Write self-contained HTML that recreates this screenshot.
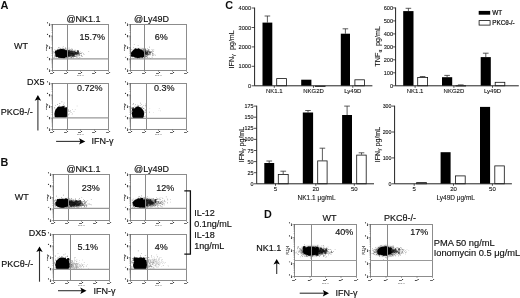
<!DOCTYPE html>
<html><head><meta charset="utf-8"><title>Figure</title>
<style>
html,body{margin:0;padding:0;background:#fff;}
body{width:520px;height:298px;overflow:hidden;font-family:"Liberation Sans",sans-serif;}
svg{display:block;font-family:"Liberation Sans",sans-serif;fill:#111;}
</style></head><body>
<svg width="520" height="298" viewBox="0 0 520 298">
<rect width="520" height="298" fill="#fff"/>
<defs><filter id="b1" x="-50%" y="-50%" width="200%" height="200%"><feGaussianBlur stdDeviation="0.75"/></filter><filter id="b2" x="-50%" y="-50%" width="200%" height="200%"><feGaussianBlur stdDeviation="1.3"/></filter><filter id="b3" x="-50%" y="-50%" width="200%" height="200%"><feGaussianBlur stdDeviation="0.6"/></filter><filter id="soft" x="-2%" y="-2%" width="104%" height="104%"><feGaussianBlur stdDeviation="0.38"/></filter></defs>
<clipPath id="ca1"><rect x="52.5" y="24.5" width="56.0" height="46.0"/></clipPath>
<g clip-path="url(#ca1)">
<ellipse cx="64" cy="53.6" rx="9" ry="4.2" fill="#000" fill-opacity="0.45" filter="url(#b2)"/>
<ellipse cx="61.5" cy="53.5" rx="6.3" ry="4.5" fill="#000" fill-opacity="1.0" filter="url(#b1)"/>
<path d="M56.1 54.2a1.5 1.5 0 1 0 3.1 0a1.5 1.5 0 1 0 -3.1 0zM56.6 53.9a1.3 1.3 0 1 0 2.5 0a1.3 1.3 0 1 0 -2.5 0zM61.8 55.7a1.3 1.3 0 1 0 2.6 0a1.3 1.3 0 1 0 -2.6 0zM60.9 52.5a1.0 1.0 0 1 0 2.1 0a1.0 1.0 0 1 0 -2.1 0zM65.2 55.5a1.4 1.4 0 1 0 2.7 0a1.4 1.4 0 1 0 -2.7 0zM65.5 55.0a1.6 1.6 0 1 0 3.1 0a1.6 1.6 0 1 0 -3.1 0zM58.2 51.0a0.9 0.9 0 1 0 1.9 0a0.9 0.9 0 1 0 -1.9 0zM64.7 53.6a0.8 0.8 0 1 0 1.7 0a0.8 0.8 0 1 0 -1.7 0zM61.6 54.9a0.8 0.8 0 1 0 1.6 0a0.8 0.8 0 1 0 -1.6 0zM56.8 53.9a1.5 1.5 0 1 0 2.9 0a1.5 1.5 0 1 0 -2.9 0zM55.9 53.0a1.2 1.2 0 1 0 2.4 0a1.2 1.2 0 1 0 -2.4 0zM58.7 51.4a1.0 1.0 0 1 0 2.0 0a1.0 1.0 0 1 0 -2.0 0zM65.6 53.3a1.5 1.5 0 1 0 2.9 0a1.5 1.5 0 1 0 -2.9 0zM59.9 51.6a1.0 1.0 0 1 0 2.0 0a1.0 1.0 0 1 0 -2.0 0zM59.9 54.2a1.4 1.4 0 1 0 2.8 0a1.4 1.4 0 1 0 -2.8 0zM55.5 55.8a1.1 1.1 0 1 0 2.2 0a1.1 1.1 0 1 0 -2.2 0zM66.2 52.3a0.8 0.8 0 1 0 1.6 0a0.8 0.8 0 1 0 -1.6 0zM62.2 56.8a1.2 1.2 0 1 0 2.4 0a1.2 1.2 0 1 0 -2.4 0zM63.9 53.1a0.9 0.9 0 1 0 1.7 0a0.9 0.9 0 1 0 -1.7 0zM56.8 50.8a1.0 1.0 0 1 0 2.0 0a1.0 1.0 0 1 0 -2.0 0zM62.5 54.4a1.6 1.6 0 1 0 3.1 0a1.6 1.6 0 1 0 -3.1 0zM60.7 52.3a1.0 1.0 0 1 0 2.0 0a1.0 1.0 0 1 0 -2.0 0zM61.1 53.8a1.4 1.4 0 1 0 2.9 0a1.4 1.4 0 1 0 -2.9 0zM62.2 55.8a1.2 1.2 0 1 0 2.3 0a1.2 1.2 0 1 0 -2.3 0zM62.6 56.6a0.9 0.9 0 1 0 1.8 0a0.9 0.9 0 1 0 -1.8 0zM59.5 52.6a1.1 1.1 0 1 0 2.3 0a1.1 1.1 0 1 0 -2.3 0zM60.6 55.0a1.6 1.6 0 1 0 3.2 0a1.6 1.6 0 1 0 -3.2 0zM61.0 51.7a1.5 1.5 0 1 0 3.0 0a1.5 1.5 0 1 0 -3.0 0zM60.9 55.4a1.5 1.5 0 1 0 3.0 0a1.5 1.5 0 1 0 -3.0 0zM59.1 52.6a1.6 1.6 0 1 0 3.2 0a1.6 1.6 0 1 0 -3.2 0zM60.7 55.0a1.4 1.4 0 1 0 2.8 0a1.4 1.4 0 1 0 -2.8 0zM59.5 54.9a0.9 0.9 0 1 0 1.7 0a0.9 0.9 0 1 0 -1.7 0zM64.2 54.9a1.0 1.0 0 1 0 2.0 0a1.0 1.0 0 1 0 -2.0 0zM58.0 52.2a1.2 1.2 0 1 0 2.3 0a1.2 1.2 0 1 0 -2.3 0zM63.9 52.8a1.3 1.3 0 1 0 2.5 0a1.3 1.3 0 1 0 -2.5 0zM62.0 52.4a0.9 0.9 0 1 0 1.8 0a0.9 0.9 0 1 0 -1.8 0zM65.6 51.3a1.0 1.0 0 1 0 2.0 0a1.0 1.0 0 1 0 -2.0 0zM62.0 56.6a1.6 1.6 0 1 0 3.1 0a1.6 1.6 0 1 0 -3.1 0zM62.7 56.8a1.5 1.5 0 1 0 3.0 0a1.5 1.5 0 1 0 -3.0 0zM58.1 52.1a0.9 0.9 0 1 0 1.8 0a0.9 0.9 0 1 0 -1.8 0zM66.0 54.7a1.0 1.0 0 1 0 2.0 0a1.0 1.0 0 1 0 -2.0 0zM59.4 51.8a1.5 1.5 0 1 0 2.9 0a1.5 1.5 0 1 0 -2.9 0zM58.5 52.4a0.9 0.9 0 1 0 1.9 0a0.9 0.9 0 1 0 -1.9 0zM60.4 52.6a1.0 1.0 0 1 0 2.0 0a1.0 1.0 0 1 0 -2.0 0zM54.9 51.9a1.3 1.3 0 1 0 2.6 0a1.3 1.3 0 1 0 -2.6 0z" fill="#000" fill-opacity="1.0" filter="url(#b3)"/>
<path d="M70.2 55.8a0.7 0.7 0 1 0 1.5 0a0.7 0.7 0 1 0 -1.5 0zM74.0 53.8a0.9 0.9 0 1 0 1.8 0a0.9 0.9 0 1 0 -1.8 0zM73.4 54.0a0.9 0.9 0 1 0 1.7 0a0.9 0.9 0 1 0 -1.7 0zM69.9 53.4a0.9 0.9 0 1 0 1.7 0a0.9 0.9 0 1 0 -1.7 0zM76.9 51.6a1.1 1.1 0 1 0 2.1 0a1.1 1.1 0 1 0 -2.1 0zM70.0 52.1a0.7 0.7 0 1 0 1.4 0a0.7 0.7 0 1 0 -1.4 0zM71.7 53.8a1.2 1.2 0 1 0 2.5 0a1.2 1.2 0 1 0 -2.5 0zM69.1 51.6a0.6 0.6 0 1 0 1.2 0a0.6 0.6 0 1 0 -1.2 0zM68.7 52.6a1.1 1.1 0 1 0 2.2 0a1.1 1.1 0 1 0 -2.2 0zM66.3 55.8a0.7 0.7 0 1 0 1.3 0a0.7 0.7 0 1 0 -1.3 0zM65.9 53.1a1.2 1.2 0 1 0 2.5 0a1.2 1.2 0 1 0 -2.5 0zM70.7 51.7a1.2 1.2 0 1 0 2.3 0a1.2 1.2 0 1 0 -2.3 0zM73.9 53.1a1.1 1.1 0 1 0 2.2 0a1.1 1.1 0 1 0 -2.2 0zM76.8 52.2a0.9 0.9 0 1 0 1.8 0a0.9 0.9 0 1 0 -1.8 0zM73.0 51.6a1.0 1.0 0 1 0 2.0 0a1.0 1.0 0 1 0 -2.0 0zM69.0 52.8a1.0 1.0 0 1 0 2.0 0a1.0 1.0 0 1 0 -2.0 0zM70.2 53.4a1.0 1.0 0 1 0 2.1 0a1.0 1.0 0 1 0 -2.1 0zM76.8 53.6a1.1 1.1 0 1 0 2.2 0a1.1 1.1 0 1 0 -2.2 0zM67.2 55.1a1.0 1.0 0 1 0 2.0 0a1.0 1.0 0 1 0 -2.0 0zM66.0 54.6a0.7 0.7 0 1 0 1.3 0a0.7 0.7 0 1 0 -1.3 0zM71.3 53.4a1.0 1.0 0 1 0 2.0 0a1.0 1.0 0 1 0 -2.0 0zM68.8 53.8a1.1 1.1 0 1 0 2.2 0a1.1 1.1 0 1 0 -2.2 0zM66.5 53.7a1.2 1.2 0 1 0 2.5 0a1.2 1.2 0 1 0 -2.5 0zM71.5 53.9a0.8 0.8 0 1 0 1.6 0a0.8 0.8 0 1 0 -1.6 0zM70.6 52.9a0.7 0.7 0 1 0 1.4 0a0.7 0.7 0 1 0 -1.4 0zM75.4 52.6a0.9 0.9 0 1 0 1.8 0a0.9 0.9 0 1 0 -1.8 0zM73.5 53.0a1.1 1.1 0 1 0 2.1 0a1.1 1.1 0 1 0 -2.1 0zM72.2 55.0a1.2 1.2 0 1 0 2.3 0a1.2 1.2 0 1 0 -2.3 0zM77.0 52.3a0.9 0.9 0 1 0 1.7 0a0.9 0.9 0 1 0 -1.7 0zM69.1 53.1a0.7 0.7 0 1 0 1.4 0a0.7 0.7 0 1 0 -1.4 0zM65.5 53.8a1.2 1.2 0 1 0 2.4 0a1.2 1.2 0 1 0 -2.4 0zM69.6 51.6a0.8 0.8 0 1 0 1.6 0a0.8 0.8 0 1 0 -1.6 0zM73.3 54.9a0.8 0.8 0 1 0 1.6 0a0.8 0.8 0 1 0 -1.6 0zM72.0 55.0a1.0 1.0 0 1 0 2.1 0a1.0 1.0 0 1 0 -2.1 0zM68.2 53.7a1.2 1.2 0 1 0 2.4 0a1.2 1.2 0 1 0 -2.4 0zM75.2 53.5a0.7 0.7 0 1 0 1.3 0a0.7 0.7 0 1 0 -1.3 0zM77.3 54.2a0.6 0.6 0 1 0 1.3 0a0.6 0.6 0 1 0 -1.3 0zM70.4 52.1a0.8 0.8 0 1 0 1.6 0a0.8 0.8 0 1 0 -1.6 0zM71.8 53.5a0.7 0.7 0 1 0 1.4 0a0.7 0.7 0 1 0 -1.4 0zM70.4 53.8a1.2 1.2 0 1 0 2.4 0a1.2 1.2 0 1 0 -2.4 0zM71.8 54.4a0.6 0.6 0 1 0 1.3 0a0.6 0.6 0 1 0 -1.3 0zM68.8 52.7a1.0 1.0 0 1 0 2.1 0a1.0 1.0 0 1 0 -2.1 0zM67.7 51.7a1.3 1.3 0 1 0 2.5 0a1.3 1.3 0 1 0 -2.5 0zM70.5 52.9a0.9 0.9 0 1 0 1.9 0a0.9 0.9 0 1 0 -1.9 0zM71.6 53.9a0.9 0.9 0 1 0 1.9 0a0.9 0.9 0 1 0 -1.9 0zM71.0 52.9a0.8 0.8 0 1 0 1.6 0a0.8 0.8 0 1 0 -1.6 0zM68.4 55.4a1.0 1.0 0 1 0 1.9 0a1.0 1.0 0 1 0 -1.9 0zM67.3 52.3a0.9 0.9 0 1 0 1.8 0a0.9 0.9 0 1 0 -1.8 0zM73.5 51.6a0.7 0.7 0 1 0 1.3 0a0.7 0.7 0 1 0 -1.3 0zM76.4 52.8a0.7 0.7 0 1 0 1.4 0a0.7 0.7 0 1 0 -1.4 0zM66.6 54.2a1.2 1.2 0 1 0 2.5 0a1.2 1.2 0 1 0 -2.5 0zM68.0 54.9a1.2 1.2 0 1 0 2.4 0a1.2 1.2 0 1 0 -2.4 0z" fill="#000" fill-opacity="0.72" filter="url(#b3)"/>
<path d="M65.1 47.2h0.6v0.6h-0.6zM55.8 54.3h0.6v0.6h-0.6zM64.0 57.5h0.6v0.6h-0.6zM64.6 49.9h0.6v0.6h-0.6zM61.4 51.6h0.6v0.6h-0.6zM72.0 48.9h0.6v0.6h-0.6zM67.4 52.9h0.6v0.6h-0.6zM63.0 51.1h0.6v0.6h-0.6zM69.3 50.6h0.6v0.6h-0.6zM60.9 54.3h0.6v0.6h-0.6zM56.8 54.6h0.6v0.6h-0.6zM62.6 50.3h0.6v0.6h-0.6zM69.9 54.3h0.6v0.6h-0.6zM69.3 55.3h0.6v0.6h-0.6zM63.9 55.6h0.6v0.6h-0.6zM62.6 52.0h0.6v0.6h-0.6zM65.2 56.0h0.6v0.6h-0.6zM60.6 48.3h0.6v0.6h-0.6zM58.1 47.3h0.6v0.6h-0.6zM51.3 53.7h0.6v0.6h-0.6zM64.7 54.4h0.6v0.6h-0.6zM58.4 53.0h0.6v0.6h-0.6zM61.2 49.6h0.6v0.6h-0.6zM53.6 52.7h0.6v0.6h-0.6zM58.5 52.5h0.6v0.6h-0.6zM55.8 56.9h0.6v0.6h-0.6zM64.4 52.3h0.6v0.6h-0.6zM68.8 47.7h0.6v0.6h-0.6zM56.3 52.9h0.6v0.6h-0.6zM63.7 56.6h0.6v0.6h-0.6zM56.0 53.3h0.6v0.6h-0.6zM73.4 54.6h0.6v0.6h-0.6zM57.6 53.1h0.6v0.6h-0.6zM63.8 50.1h0.6v0.6h-0.6zM55.3 53.6h0.6v0.6h-0.6zM67.0 54.8h0.6v0.6h-0.6zM52.5 56.9h0.6v0.6h-0.6zM65.1 52.4h0.6v0.6h-0.6zM59.7 53.6h0.6v0.6h-0.6zM54.6 55.4h0.6v0.6h-0.6zM66.1 51.6h0.6v0.6h-0.6zM60.8 55.0h0.6v0.6h-0.6zM54.6 49.2h0.6v0.6h-0.6zM67.3 56.8h0.6v0.6h-0.6zM64.9 53.7h0.6v0.6h-0.6zM63.0 57.5h0.6v0.6h-0.6zM60.2 55.7h0.6v0.6h-0.6zM60.5 52.5h0.6v0.6h-0.6zM61.7 52.0h0.6v0.6h-0.6zM58.7 53.3h0.6v0.6h-0.6zM63.7 56.5h0.6v0.6h-0.6zM58.1 54.4h0.6v0.6h-0.6zM57.4 55.1h0.6v0.6h-0.6zM63.6 54.9h0.6v0.6h-0.6zM57.7 50.6h0.6v0.6h-0.6zM53.6 52.4h0.6v0.6h-0.6zM55.4 50.0h0.6v0.6h-0.6zM62.8 57.8h0.6v0.6h-0.6zM65.5 48.0h0.6v0.6h-0.6zM60.5 55.6h0.6v0.6h-0.6zM64.7 52.5h0.6v0.6h-0.6zM71.2 53.3h0.6v0.6h-0.6zM64.2 54.9h0.6v0.6h-0.6zM61.5 51.3h0.6v0.6h-0.6zM68.8 56.3h0.6v0.6h-0.6zM55.2 55.7h0.6v0.6h-0.6zM65.1 55.4h0.6v0.6h-0.6zM61.7 52.9h0.6v0.6h-0.6zM64.0 57.3h0.6v0.6h-0.6zM71.8 49.6h0.6v0.6h-0.6zM65.9 55.5h0.6v0.6h-0.6zM62.3 50.2h0.6v0.6h-0.6zM60.9 51.8h0.6v0.6h-0.6zM63.9 53.9h0.6v0.6h-0.6zM67.4 54.2h0.6v0.6h-0.6zM56.3 53.1h0.6v0.6h-0.6zM63.7 54.8h0.6v0.6h-0.6zM64.4 58.4h0.6v0.6h-0.6zM72.0 53.0h0.6v0.6h-0.6zM63.3 53.9h0.6v0.6h-0.6zM66.7 52.5h0.6v0.6h-0.6zM62.4 51.0h0.6v0.6h-0.6zM56.8 54.1h0.6v0.6h-0.6zM56.6 55.0h0.6v0.6h-0.6zM68.8 53.7h0.6v0.6h-0.6zM63.6 52.0h0.6v0.6h-0.6zM55.1 54.7h0.6v0.6h-0.6zM59.6 54.4h0.6v0.6h-0.6zM64.7 56.2h0.6v0.6h-0.6zM71.3 54.0h0.6v0.6h-0.6zM64.2 49.4h0.6v0.6h-0.6zM66.0 50.5h0.6v0.6h-0.6zM57.1 55.5h0.6v0.6h-0.6zM49.5 53.2h0.6v0.6h-0.6zM63.1 51.4h0.6v0.6h-0.6zM68.2 51.0h0.6v0.6h-0.6zM63.4 48.5h0.6v0.6h-0.6zM54.2 56.6h0.6v0.6h-0.6zM66.9 50.5h0.6v0.6h-0.6zM62.8 48.8h0.6v0.6h-0.6zM56.2 55.8h0.6v0.6h-0.6zM65.6 54.5h0.6v0.6h-0.6zM61.4 53.5h0.6v0.6h-0.6zM58.1 56.4h0.6v0.6h-0.6zM59.7 52.0h0.6v0.6h-0.6zM68.1 52.0h0.6v0.6h-0.6zM58.6 56.8h0.6v0.6h-0.6zM57.1 52.0h0.6v0.6h-0.6zM57.7 50.1h0.6v0.6h-0.6zM62.9 45.9h0.6v0.6h-0.6zM68.0 53.9h0.6v0.6h-0.6zM61.8 51.3h0.6v0.6h-0.6zM60.8 53.9h0.6v0.6h-0.6zM63.4 55.9h0.6v0.6h-0.6zM64.7 54.6h0.6v0.6h-0.6zM66.6 51.5h0.6v0.6h-0.6zM50.5 53.1h0.6v0.6h-0.6zM48.9 49.8h0.6v0.6h-0.6zM56.8 49.7h0.6v0.6h-0.6zM67.3 55.1h0.6v0.6h-0.6zM62.1 52.6h0.6v0.6h-0.6zM64.4 52.7h0.6v0.6h-0.6zM59.4 53.7h0.6v0.6h-0.6zM56.0 53.5h0.6v0.6h-0.6zM71.9 55.7h0.6v0.6h-0.6zM57.3 55.0h0.6v0.6h-0.6zM58.6 51.9h0.6v0.6h-0.6zM60.6 57.2h0.6v0.6h-0.6zM58.7 52.6h0.6v0.6h-0.6zM61.2 51.2h0.6v0.6h-0.6zM65.3 53.6h0.6v0.6h-0.6zM64.5 53.8h0.6v0.6h-0.6zM62.1 50.7h0.6v0.6h-0.6zM67.8 50.7h0.6v0.6h-0.6zM74.5 55.9h0.6v0.6h-0.6zM63.6 53.0h0.6v0.6h-0.6zM65.9 51.8h0.6v0.6h-0.6zM50.3 54.4h0.6v0.6h-0.6zM62.2 56.7h0.6v0.6h-0.6zM68.5 51.7h0.6v0.6h-0.6zM50.0 54.9h0.6v0.6h-0.6zM64.4 50.0h0.6v0.6h-0.6zM66.6 55.9h0.6v0.6h-0.6zM59.1 53.9h0.6v0.6h-0.6zM67.1 54.5h0.6v0.6h-0.6zM65.4 55.5h0.6v0.6h-0.6zM59.6 50.8h0.6v0.6h-0.6zM61.6 57.0h0.6v0.6h-0.6zM55.3 55.7h0.6v0.6h-0.6zM47.0 51.6h0.6v0.6h-0.6zM68.8 52.1h0.6v0.6h-0.6zM62.2 54.7h0.6v0.6h-0.6zM68.0 50.4h0.6v0.6h-0.6zM59.1 51.6h0.6v0.6h-0.6zM61.1 57.5h0.6v0.6h-0.6zM56.6 52.0h0.6v0.6h-0.6zM57.1 50.0h0.6v0.6h-0.6zM63.2 55.3h0.6v0.6h-0.6zM71.7 52.6h0.6v0.6h-0.6zM62.9 52.9h0.6v0.6h-0.6zM65.2 54.2h0.6v0.6h-0.6zM56.5 55.1h0.6v0.6h-0.6zM66.4 55.4h0.6v0.6h-0.6zM63.7 53.9h0.6v0.6h-0.6zM59.5 50.3h0.6v0.6h-0.6zM59.1 51.5h0.6v0.6h-0.6zM59.0 53.6h0.6v0.6h-0.6zM58.0 57.1h0.6v0.6h-0.6zM62.9 52.5h0.6v0.6h-0.6zM67.8 56.8h0.6v0.6h-0.6zM56.6 50.2h0.6v0.6h-0.6zM63.1 56.2h0.6v0.6h-0.6zM61.6 58.3h0.6v0.6h-0.6zM57.6 56.3h0.6v0.6h-0.6zM65.9 53.2h0.6v0.6h-0.6zM55.1 52.1h0.6v0.6h-0.6zM66.1 52.0h0.6v0.6h-0.6zM60.6 54.3h0.6v0.6h-0.6zM63.3 52.6h0.6v0.6h-0.6zM66.9 55.1h0.6v0.6h-0.6zM55.3 53.8h0.6v0.6h-0.6zM59.7 57.8h0.6v0.6h-0.6zM64.7 54.3h0.6v0.6h-0.6zM61.0 52.5h0.6v0.6h-0.6zM59.7 57.5h0.6v0.6h-0.6zM60.8 51.3h0.6v0.6h-0.6zM64.6 55.4h0.6v0.6h-0.6zM61.4 50.8h0.6v0.6h-0.6zM67.1 56.3h0.6v0.6h-0.6zM53.1 50.9h0.6v0.6h-0.6zM71.0 51.2h0.6v0.6h-0.6zM54.7 55.2h0.6v0.6h-0.6zM60.7 55.6h0.6v0.6h-0.6zM53.7 57.1h0.6v0.6h-0.6zM64.6 52.1h0.6v0.6h-0.6zM59.3 55.4h0.6v0.6h-0.6zM59.1 55.5h0.6v0.6h-0.6zM59.8 54.6h0.6v0.6h-0.6zM54.8 51.5h0.6v0.6h-0.6zM53.9 52.1h0.6v0.6h-0.6zM59.5 52.8h0.6v0.6h-0.6zM62.5 47.8h0.6v0.6h-0.6zM61.8 54.0h0.6v0.6h-0.6zM56.5 53.1h0.6v0.6h-0.6zM51.6 50.5h0.6v0.6h-0.6zM57.4 49.4h0.6v0.6h-0.6zM67.1 54.7h0.6v0.6h-0.6zM62.4 52.3h0.6v0.6h-0.6zM68.3 55.6h0.6v0.6h-0.6zM63.5 52.7h0.6v0.6h-0.6zM60.4 52.3h0.6v0.6h-0.6zM61.8 49.5h0.6v0.6h-0.6zM62.1 55.3h0.6v0.6h-0.6zM62.5 50.1h0.6v0.6h-0.6zM62.4 50.7h0.6v0.6h-0.6zM59.6 50.6h0.6v0.6h-0.6zM55.2 52.4h0.6v0.6h-0.6zM59.5 47.6h0.6v0.6h-0.6zM55.0 56.1h0.6v0.6h-0.6zM57.7 48.8h0.6v0.6h-0.6zM64.9 48.6h0.6v0.6h-0.6zM70.5 49.0h0.6v0.6h-0.6zM58.6 50.9h0.6v0.6h-0.6zM60.0 48.7h0.6v0.6h-0.6zM58.0 54.7h0.6v0.6h-0.6zM66.4 56.9h0.6v0.6h-0.6zM66.3 53.3h0.6v0.6h-0.6zM63.5 55.0h0.6v0.6h-0.6zM58.7 54.4h0.6v0.6h-0.6zM63.5 53.2h0.6v0.6h-0.6zM61.2 54.6h0.6v0.6h-0.6zM57.4 49.7h0.6v0.6h-0.6zM62.7 54.3h0.6v0.6h-0.6zM56.4 54.3h0.6v0.6h-0.6zM63.0 53.0h0.6v0.6h-0.6zM64.2 54.5h0.6v0.6h-0.6zM62.7 55.3h0.6v0.6h-0.6zM60.8 49.8h0.6v0.6h-0.6zM62.5 55.1h0.6v0.6h-0.6zM61.5 55.0h0.6v0.6h-0.6zM62.2 51.1h0.6v0.6h-0.6zM54.3 51.9h0.6v0.6h-0.6zM58.6 53.7h0.6v0.6h-0.6zM69.4 49.5h0.6v0.6h-0.6zM59.0 56.2h0.6v0.6h-0.6zM66.9 52.6h0.6v0.6h-0.6zM62.3 54.2h0.6v0.6h-0.6zM69.5 51.8h0.6v0.6h-0.6zM58.0 55.6h0.6v0.6h-0.6zM58.5 53.2h0.6v0.6h-0.6zM68.4 53.2h0.6v0.6h-0.6zM62.1 53.8h0.6v0.6h-0.6zM57.8 53.8h0.6v0.6h-0.6zM64.0 49.3h0.6v0.6h-0.6zM60.0 52.4h0.6v0.6h-0.6zM64.1 55.4h0.6v0.6h-0.6zM55.8 53.0h0.6v0.6h-0.6z" fill="#000" fill-opacity="0.6" filter="url(#b3)"/>
<path d="M76.8 53.6h0.6v0.6h-0.6zM72.0 53.5h0.6v0.6h-0.6zM74.0 53.6h0.6v0.6h-0.6zM77.0 50.6h0.6v0.6h-0.6zM74.7 53.0h0.6v0.6h-0.6zM73.3 56.5h0.6v0.6h-0.6zM77.4 54.9h0.6v0.6h-0.6zM65.2 54.6h0.6v0.6h-0.6zM67.9 51.9h0.6v0.6h-0.6zM71.9 56.7h0.6v0.6h-0.6zM67.0 55.7h0.6v0.6h-0.6zM79.7 55.5h0.6v0.6h-0.6zM75.2 55.9h0.6v0.6h-0.6zM71.9 53.5h0.6v0.6h-0.6zM75.5 52.3h0.6v0.6h-0.6zM73.5 54.4h0.6v0.6h-0.6zM72.6 55.6h0.6v0.6h-0.6zM73.3 52.0h0.6v0.6h-0.6zM73.3 52.9h0.6v0.6h-0.6zM70.8 54.9h0.6v0.6h-0.6zM80.6 53.0h0.6v0.6h-0.6zM73.7 53.5h0.6v0.6h-0.6zM69.9 55.7h0.6v0.6h-0.6zM74.4 56.0h0.6v0.6h-0.6zM73.5 53.8h0.6v0.6h-0.6zM80.4 53.5h0.6v0.6h-0.6zM75.3 56.1h0.6v0.6h-0.6zM73.1 55.4h0.6v0.6h-0.6zM71.1 53.3h0.6v0.6h-0.6zM72.1 55.2h0.6v0.6h-0.6zM72.6 52.5h0.6v0.6h-0.6zM75.8 56.5h0.6v0.6h-0.6zM69.9 57.5h0.6v0.6h-0.6zM68.7 52.6h0.6v0.6h-0.6zM70.7 56.6h0.6v0.6h-0.6zM75.7 54.2h0.6v0.6h-0.6zM78.5 55.2h0.6v0.6h-0.6zM73.4 52.6h0.6v0.6h-0.6zM68.4 55.7h0.6v0.6h-0.6zM72.7 53.3h0.6v0.6h-0.6zM74.3 54.7h0.6v0.6h-0.6zM76.6 55.0h0.6v0.6h-0.6zM81.3 55.5h0.6v0.6h-0.6zM70.1 54.7h0.6v0.6h-0.6zM70.3 51.2h0.6v0.6h-0.6zM75.5 52.1h0.6v0.6h-0.6zM72.2 55.3h0.6v0.6h-0.6zM77.6 53.9h0.6v0.6h-0.6zM70.8 48.9h0.6v0.6h-0.6zM75.3 51.1h0.6v0.6h-0.6zM73.5 53.5h0.6v0.6h-0.6zM72.4 55.1h0.6v0.6h-0.6zM73.0 53.0h0.6v0.6h-0.6zM70.9 55.2h0.6v0.6h-0.6zM75.6 50.4h0.6v0.6h-0.6zM72.4 53.0h0.6v0.6h-0.6zM74.8 49.8h0.6v0.6h-0.6zM70.8 53.2h0.6v0.6h-0.6zM72.0 53.7h0.6v0.6h-0.6zM71.6 48.5h0.6v0.6h-0.6zM68.3 53.4h0.6v0.6h-0.6zM75.2 52.7h0.6v0.6h-0.6zM78.8 52.8h0.6v0.6h-0.6zM74.5 54.4h0.6v0.6h-0.6zM74.2 56.1h0.6v0.6h-0.6zM73.0 52.2h0.6v0.6h-0.6zM77.1 53.0h0.6v0.6h-0.6zM72.2 53.9h0.6v0.6h-0.6zM75.9 53.5h0.6v0.6h-0.6zM77.7 52.4h0.6v0.6h-0.6zM69.7 52.8h0.6v0.6h-0.6zM73.3 57.6h0.6v0.6h-0.6zM80.6 53.5h0.6v0.6h-0.6zM72.5 53.2h0.6v0.6h-0.6zM75.3 52.4h0.6v0.6h-0.6zM76.1 52.9h0.6v0.6h-0.6zM67.9 52.2h0.6v0.6h-0.6zM75.8 55.8h0.6v0.6h-0.6zM74.8 53.9h0.6v0.6h-0.6zM78.5 58.5h0.6v0.6h-0.6zM78.9 52.7h0.6v0.6h-0.6zM72.1 56.2h0.6v0.6h-0.6zM73.7 51.9h0.6v0.6h-0.6zM68.6 51.9h0.6v0.6h-0.6zM76.4 53.8h0.6v0.6h-0.6zM72.0 53.9h0.6v0.6h-0.6zM70.5 55.2h0.6v0.6h-0.6zM76.0 55.6h0.6v0.6h-0.6zM73.6 56.0h0.6v0.6h-0.6zM71.5 55.9h0.6v0.6h-0.6zM79.2 54.3h0.6v0.6h-0.6zM79.6 57.3h0.6v0.6h-0.6zM70.7 52.5h0.6v0.6h-0.6zM69.7 55.0h0.6v0.6h-0.6zM71.7 50.9h0.6v0.6h-0.6zM74.0 51.6h0.6v0.6h-0.6zM80.9 53.6h0.6v0.6h-0.6zM76.3 52.2h0.6v0.6h-0.6zM69.7 54.6h0.6v0.6h-0.6zM77.6 52.5h0.6v0.6h-0.6zM70.2 53.4h0.6v0.6h-0.6zM76.6 52.8h0.6v0.6h-0.6zM79.5 54.7h0.6v0.6h-0.6zM78.7 52.0h0.6v0.6h-0.6zM69.1 52.0h0.6v0.6h-0.6zM72.4 56.0h0.6v0.6h-0.6zM75.7 54.1h0.6v0.6h-0.6zM70.0 54.4h0.6v0.6h-0.6zM73.1 54.1h0.6v0.6h-0.6zM72.5 51.6h0.6v0.6h-0.6zM74.2 55.2h0.6v0.6h-0.6zM71.9 54.5h0.6v0.6h-0.6zM81.2 55.4h0.6v0.6h-0.6zM79.2 53.1h0.6v0.6h-0.6zM76.5 52.3h0.6v0.6h-0.6zM74.9 52.5h0.6v0.6h-0.6zM73.9 51.4h0.6v0.6h-0.6zM75.3 53.2h0.6v0.6h-0.6zM74.5 52.8h0.6v0.6h-0.6zM65.4 52.7h0.6v0.6h-0.6zM76.7 53.7h0.6v0.6h-0.6zM73.0 55.2h0.6v0.6h-0.6zM81.1 55.2h0.6v0.6h-0.6zM75.4 52.0h0.6v0.6h-0.6zM71.0 55.6h0.6v0.6h-0.6zM74.9 53.8h0.6v0.6h-0.6zM76.5 52.8h0.6v0.6h-0.6zM65.6 53.7h0.6v0.6h-0.6zM78.0 53.4h0.6v0.6h-0.6zM74.8 55.2h0.6v0.6h-0.6zM80.8 51.9h0.6v0.6h-0.6zM76.3 56.9h0.6v0.6h-0.6zM71.5 55.3h0.6v0.6h-0.6zM77.5 57.0h0.6v0.6h-0.6zM76.4 53.7h0.6v0.6h-0.6zM72.4 52.8h0.6v0.6h-0.6zM74.8 53.3h0.6v0.6h-0.6zM78.6 55.5h0.6v0.6h-0.6zM71.0 57.3h0.6v0.6h-0.6zM77.9 51.6h0.6v0.6h-0.6zM77.7 55.8h0.6v0.6h-0.6zM77.6 53.0h0.6v0.6h-0.6zM76.3 54.3h0.6v0.6h-0.6zM72.0 56.4h0.6v0.6h-0.6zM74.8 54.8h0.6v0.6h-0.6zM74.5 56.3h0.6v0.6h-0.6zM74.9 52.0h0.6v0.6h-0.6zM70.1 50.5h0.6v0.6h-0.6zM71.8 53.0h0.6v0.6h-0.6zM71.4 57.6h0.6v0.6h-0.6zM72.6 52.4h0.6v0.6h-0.6zM73.0 53.1h0.6v0.6h-0.6zM77.9 53.5h0.6v0.6h-0.6zM69.6 53.3h0.6v0.6h-0.6zM78.7 54.4h0.6v0.6h-0.6zM73.4 55.0h0.6v0.6h-0.6zM74.5 53.0h0.6v0.6h-0.6zM72.7 56.6h0.6v0.6h-0.6zM74.1 55.2h0.6v0.6h-0.6zM71.8 53.4h0.6v0.6h-0.6z" fill="#000" fill-opacity="0.6" filter="url(#b3)"/>
<path d="M88.5 51.1h0.6v0.6h-0.6zM83.4 54.4h0.6v0.6h-0.6zM79.0 52.4h0.6v0.6h-0.6zM83.3 53.2h0.6v0.6h-0.6zM81.2 55.8h0.6v0.6h-0.6zM76.7 52.8h0.6v0.6h-0.6zM75.2 51.7h0.6v0.6h-0.6zM74.3 53.8h0.6v0.6h-0.6zM82.4 52.0h0.6v0.6h-0.6zM69.2 53.5h0.6v0.6h-0.6zM82.2 56.5h0.6v0.6h-0.6zM81.8 55.9h0.6v0.6h-0.6zM79.4 55.7h0.6v0.6h-0.6zM80.0 51.2h0.6v0.6h-0.6zM79.7 52.9h0.6v0.6h-0.6zM76.2 54.1h0.6v0.6h-0.6zM74.9 53.1h0.6v0.6h-0.6zM84.3 54.5h0.6v0.6h-0.6zM77.9 52.0h0.6v0.6h-0.6zM80.8 53.3h0.6v0.6h-0.6zM79.4 54.2h0.6v0.6h-0.6zM74.7 54.0h0.6v0.6h-0.6zM76.1 54.4h0.6v0.6h-0.6zM79.5 53.4h0.6v0.6h-0.6zM83.3 52.9h0.6v0.6h-0.6zM72.2 53.2h0.6v0.6h-0.6zM79.2 54.9h0.6v0.6h-0.6zM78.6 54.4h0.6v0.6h-0.6zM76.8 56.0h0.6v0.6h-0.6zM75.9 53.8h0.6v0.6h-0.6z" fill="#000" fill-opacity="0.4" filter="url(#b3)"/>
</g>
<rect x="52.5" y="24.5" width="56.0" height="46.0" fill="none" stroke="#707070" stroke-width="0.8"/>
<line x1="67.5" y1="24.5" x2="67.5" y2="70.5" stroke="#8a8a8a" stroke-width="1"/>
<line x1="52.5" y1="58.9" x2="108.5" y2="58.9" stroke="#999" stroke-width="1.2"/>
<path d="M50.5 70.5H52.5M52.5 70.5V72.0M51.6 67.0H52.5M51.6 65.0H52.5M51.6 63.6H52.5M51.6 62.5H52.5M51.6 61.6H52.5M51.6 60.8H52.5M51.6 60.1H52.5M51.6 59.5H52.5M50.5 59.0H52.5M66.5 70.5V72.0M51.6 55.5H52.5M51.6 53.5H52.5M51.6 52.1H52.5M51.6 51.0H52.5M51.6 50.1H52.5M51.6 49.3H52.5M51.6 48.6H52.5M51.6 48.0H52.5M50.5 47.5H52.5M80.5 70.5V72.0M51.6 44.0H52.5M51.6 42.0H52.5M51.6 40.6H52.5M51.6 39.5H52.5M51.6 38.6H52.5M51.6 37.8H52.5M51.6 37.1H52.5M51.6 36.5H52.5M50.5 36.0H52.5M94.5 70.5V72.0M51.6 32.5H52.5M51.6 30.5H52.5M51.6 29.1H52.5M51.6 28.0H52.5M51.6 27.1H52.5M51.6 26.3H52.5M51.6 25.6H52.5M51.6 25.0H52.5M50.5 24.5H52.5M108.5 70.5V72.0" stroke="#555" stroke-width="0.5" fill="none"/>
<clipPath id="ca2"><rect x="130.5" y="24.5" width="56.0" height="46.0"/></clipPath>
<g clip-path="url(#ca2)">
<ellipse cx="140" cy="53.2" rx="8.5" ry="4.2" fill="#000" fill-opacity="0.4" filter="url(#b2)"/>
<ellipse cx="137.8" cy="53.4" rx="6.5" ry="4.5" fill="#000" fill-opacity="1.0" filter="url(#b1)"/>
<path d="M135.2 52.8a1.5 1.5 0 1 0 2.9 0a1.5 1.5 0 1 0 -2.9 0zM138.2 54.7a0.9 0.9 0 1 0 1.9 0a0.9 0.9 0 1 0 -1.9 0zM134.2 49.9a1.4 1.4 0 1 0 2.9 0a1.4 1.4 0 1 0 -2.9 0zM140.0 54.1a1.1 1.1 0 1 0 2.2 0a1.1 1.1 0 1 0 -2.2 0zM138.9 56.7a0.8 0.8 0 1 0 1.7 0a0.8 0.8 0 1 0 -1.7 0zM130.7 53.5a1.6 1.6 0 1 0 3.2 0a1.6 1.6 0 1 0 -3.2 0zM138.7 55.1a1.4 1.4 0 1 0 2.8 0a1.4 1.4 0 1 0 -2.8 0zM138.8 53.7a1.5 1.5 0 1 0 3.0 0a1.5 1.5 0 1 0 -3.0 0zM138.9 54.9a1.0 1.0 0 1 0 2.1 0a1.0 1.0 0 1 0 -2.1 0zM135.9 53.7a0.8 0.8 0 1 0 1.7 0a0.8 0.8 0 1 0 -1.7 0zM142.1 53.2a1.4 1.4 0 1 0 2.8 0a1.4 1.4 0 1 0 -2.8 0zM137.0 54.9a1.2 1.2 0 1 0 2.5 0a1.2 1.2 0 1 0 -2.5 0zM136.5 55.6a1.5 1.5 0 1 0 3.1 0a1.5 1.5 0 1 0 -3.1 0zM134.4 54.7a1.6 1.6 0 1 0 3.2 0a1.6 1.6 0 1 0 -3.2 0zM136.1 52.9a1.1 1.1 0 1 0 2.2 0a1.1 1.1 0 1 0 -2.2 0zM136.2 52.7a1.1 1.1 0 1 0 2.1 0a1.1 1.1 0 1 0 -2.1 0zM134.4 49.9a1.3 1.3 0 1 0 2.5 0a1.3 1.3 0 1 0 -2.5 0zM139.6 51.8a1.1 1.1 0 1 0 2.2 0a1.1 1.1 0 1 0 -2.2 0zM138.3 51.6a1.4 1.4 0 1 0 2.9 0a1.4 1.4 0 1 0 -2.9 0zM137.6 55.2a0.9 0.9 0 1 0 1.9 0a0.9 0.9 0 1 0 -1.9 0zM135.1 52.9a1.0 1.0 0 1 0 1.9 0a1.0 1.0 0 1 0 -1.9 0zM137.7 55.6a1.0 1.0 0 1 0 2.1 0a1.0 1.0 0 1 0 -2.1 0zM130.9 55.5a1.3 1.3 0 1 0 2.7 0a1.3 1.3 0 1 0 -2.7 0zM138.2 52.2a1.1 1.1 0 1 0 2.2 0a1.1 1.1 0 1 0 -2.2 0zM141.3 54.7a1.1 1.1 0 1 0 2.2 0a1.1 1.1 0 1 0 -2.2 0zM136.9 53.7a0.9 0.9 0 1 0 1.9 0a0.9 0.9 0 1 0 -1.9 0zM136.1 55.4a1.5 1.5 0 1 0 3.1 0a1.5 1.5 0 1 0 -3.1 0zM136.2 51.7a1.1 1.1 0 1 0 2.2 0a1.1 1.1 0 1 0 -2.2 0zM141.2 56.7a1.1 1.1 0 1 0 2.2 0a1.1 1.1 0 1 0 -2.2 0zM136.9 49.9a1.5 1.5 0 1 0 3.1 0a1.5 1.5 0 1 0 -3.1 0zM139.7 53.5a1.1 1.1 0 1 0 2.2 0a1.1 1.1 0 1 0 -2.2 0zM142.4 55.5a1.1 1.1 0 1 0 2.1 0a1.1 1.1 0 1 0 -2.1 0zM137.6 50.8a0.8 0.8 0 1 0 1.7 0a0.8 0.8 0 1 0 -1.7 0zM135.2 54.3a0.8 0.8 0 1 0 1.7 0a0.8 0.8 0 1 0 -1.7 0zM139.7 55.6a0.8 0.8 0 1 0 1.7 0a0.8 0.8 0 1 0 -1.7 0zM135.3 55.3a1.2 1.2 0 1 0 2.5 0a1.2 1.2 0 1 0 -2.5 0zM140.3 55.8a1.0 1.0 0 1 0 2.0 0a1.0 1.0 0 1 0 -2.0 0zM136.2 50.2a0.9 0.9 0 1 0 1.8 0a0.9 0.9 0 1 0 -1.8 0zM137.3 54.9a1.4 1.4 0 1 0 2.7 0a1.4 1.4 0 1 0 -2.7 0zM133.7 54.5a1.5 1.5 0 1 0 3.0 0a1.5 1.5 0 1 0 -3.0 0zM137.2 55.0a1.1 1.1 0 1 0 2.2 0a1.1 1.1 0 1 0 -2.2 0zM137.3 53.9a0.8 0.8 0 1 0 1.6 0a0.8 0.8 0 1 0 -1.6 0zM133.5 51.3a1.4 1.4 0 1 0 2.9 0a1.4 1.4 0 1 0 -2.9 0zM139.3 53.0a1.3 1.3 0 1 0 2.7 0a1.3 1.3 0 1 0 -2.7 0zM138.6 52.6a1.4 1.4 0 1 0 2.7 0a1.4 1.4 0 1 0 -2.7 0z" fill="#000" fill-opacity="1.0" filter="url(#b3)"/>
<path d="M133.0 47.5h0.6v0.6h-0.6zM141.4 51.8h0.6v0.6h-0.6zM137.6 52.4h0.6v0.6h-0.6zM134.7 54.5h0.6v0.6h-0.6zM143.4 54.3h0.6v0.6h-0.6zM136.3 56.1h0.6v0.6h-0.6zM138.5 54.9h0.6v0.6h-0.6zM134.5 55.1h0.6v0.6h-0.6zM142.5 56.8h0.6v0.6h-0.6zM139.1 54.5h0.6v0.6h-0.6zM136.3 55.7h0.6v0.6h-0.6zM142.7 56.2h0.6v0.6h-0.6zM137.2 50.0h0.6v0.6h-0.6zM138.7 52.7h0.6v0.6h-0.6zM135.5 54.9h0.6v0.6h-0.6zM143.5 54.4h0.6v0.6h-0.6zM144.3 54.4h0.6v0.6h-0.6zM134.4 51.7h0.6v0.6h-0.6zM137.3 55.1h0.6v0.6h-0.6zM143.4 53.7h0.6v0.6h-0.6zM143.8 51.1h0.6v0.6h-0.6zM138.5 57.3h0.6v0.6h-0.6zM141.1 56.1h0.6v0.6h-0.6zM130.1 48.9h0.6v0.6h-0.6zM134.9 56.0h0.6v0.6h-0.6zM146.7 51.7h0.6v0.6h-0.6zM134.3 50.6h0.6v0.6h-0.6zM134.8 54.8h0.6v0.6h-0.6zM137.5 58.3h0.6v0.6h-0.6zM142.4 51.5h0.6v0.6h-0.6zM140.1 52.9h0.6v0.6h-0.6zM142.8 55.7h0.6v0.6h-0.6zM137.4 55.7h0.6v0.6h-0.6zM141.7 53.1h0.6v0.6h-0.6zM140.2 55.1h0.6v0.6h-0.6zM137.5 51.5h0.6v0.6h-0.6zM145.0 53.3h0.6v0.6h-0.6zM136.2 54.5h0.6v0.6h-0.6zM132.0 53.5h0.6v0.6h-0.6zM132.6 52.2h0.6v0.6h-0.6zM130.6 51.4h0.6v0.6h-0.6zM143.2 52.8h0.6v0.6h-0.6zM133.3 57.9h0.6v0.6h-0.6zM136.0 57.2h0.6v0.6h-0.6zM136.5 49.4h0.6v0.6h-0.6zM147.7 52.2h0.6v0.6h-0.6zM142.6 56.5h0.6v0.6h-0.6zM132.8 53.5h0.6v0.6h-0.6zM136.3 54.9h0.6v0.6h-0.6zM139.0 50.0h0.6v0.6h-0.6zM139.3 55.3h0.6v0.6h-0.6zM137.6 54.8h0.6v0.6h-0.6zM136.5 53.2h0.6v0.6h-0.6zM140.7 53.7h0.6v0.6h-0.6zM145.0 55.8h0.6v0.6h-0.6zM143.0 55.2h0.6v0.6h-0.6zM139.8 50.2h0.6v0.6h-0.6zM144.0 57.9h0.6v0.6h-0.6zM140.1 52.6h0.6v0.6h-0.6zM138.9 56.5h0.6v0.6h-0.6zM140.4 50.7h0.6v0.6h-0.6zM138.2 51.3h0.6v0.6h-0.6zM138.1 51.0h0.6v0.6h-0.6zM134.9 57.2h0.6v0.6h-0.6zM144.0 49.1h0.6v0.6h-0.6zM134.4 52.1h0.6v0.6h-0.6zM137.2 49.7h0.6v0.6h-0.6zM143.2 49.1h0.6v0.6h-0.6zM142.3 55.2h0.6v0.6h-0.6zM137.3 51.6h0.6v0.6h-0.6zM139.3 53.7h0.6v0.6h-0.6zM129.2 50.0h0.6v0.6h-0.6zM141.5 53.0h0.6v0.6h-0.6zM137.1 50.7h0.6v0.6h-0.6zM135.7 51.3h0.6v0.6h-0.6zM152.1 50.0h0.6v0.6h-0.6zM146.2 54.6h0.6v0.6h-0.6zM140.0 53.8h0.6v0.6h-0.6zM137.3 57.6h0.6v0.6h-0.6zM141.4 53.2h0.6v0.6h-0.6zM138.5 53.8h0.6v0.6h-0.6zM133.7 52.5h0.6v0.6h-0.6zM136.1 55.0h0.6v0.6h-0.6zM141.9 48.4h0.6v0.6h-0.6zM138.0 55.9h0.6v0.6h-0.6zM133.0 50.2h0.6v0.6h-0.6zM143.7 53.0h0.6v0.6h-0.6zM136.9 50.1h0.6v0.6h-0.6zM139.8 51.9h0.6v0.6h-0.6zM140.0 54.4h0.6v0.6h-0.6zM142.3 52.5h0.6v0.6h-0.6zM136.6 53.4h0.6v0.6h-0.6zM138.6 53.8h0.6v0.6h-0.6zM136.6 52.7h0.6v0.6h-0.6zM136.3 51.8h0.6v0.6h-0.6zM139.8 56.4h0.6v0.6h-0.6zM136.5 54.9h0.6v0.6h-0.6zM140.7 53.6h0.6v0.6h-0.6zM142.2 51.8h0.6v0.6h-0.6zM141.7 54.1h0.6v0.6h-0.6zM122.7 54.3h0.6v0.6h-0.6zM141.9 58.5h0.6v0.6h-0.6zM134.1 53.6h0.6v0.6h-0.6zM140.7 50.8h0.6v0.6h-0.6zM144.7 54.5h0.6v0.6h-0.6zM135.3 50.2h0.6v0.6h-0.6zM149.2 46.8h0.6v0.6h-0.6zM130.5 55.1h0.6v0.6h-0.6zM138.5 51.6h0.6v0.6h-0.6zM141.9 53.6h0.6v0.6h-0.6zM140.4 54.0h0.6v0.6h-0.6zM133.9 56.8h0.6v0.6h-0.6zM136.9 56.3h0.6v0.6h-0.6zM142.3 53.4h0.6v0.6h-0.6zM139.7 53.2h0.6v0.6h-0.6zM130.4 52.5h0.6v0.6h-0.6zM141.1 49.1h0.6v0.6h-0.6zM132.0 56.2h0.6v0.6h-0.6zM142.8 49.2h0.6v0.6h-0.6zM141.2 53.2h0.6v0.6h-0.6zM143.6 52.5h0.6v0.6h-0.6zM138.0 51.3h0.6v0.6h-0.6zM139.9 53.0h0.6v0.6h-0.6zM135.9 52.4h0.6v0.6h-0.6zM135.5 55.0h0.6v0.6h-0.6zM134.2 49.2h0.6v0.6h-0.6zM134.5 56.2h0.6v0.6h-0.6zM136.6 55.0h0.6v0.6h-0.6zM142.5 52.0h0.6v0.6h-0.6zM142.6 54.7h0.6v0.6h-0.6zM138.8 51.4h0.6v0.6h-0.6zM138.7 49.9h0.6v0.6h-0.6zM137.7 51.8h0.6v0.6h-0.6zM141.1 54.2h0.6v0.6h-0.6zM136.0 55.6h0.6v0.6h-0.6zM144.7 53.5h0.6v0.6h-0.6zM135.5 54.7h0.6v0.6h-0.6zM127.5 51.8h0.6v0.6h-0.6zM135.5 57.4h0.6v0.6h-0.6zM150.0 58.3h0.6v0.6h-0.6zM127.9 56.2h0.6v0.6h-0.6zM139.9 56.0h0.6v0.6h-0.6zM138.2 51.7h0.6v0.6h-0.6zM137.9 57.3h0.6v0.6h-0.6zM143.0 52.5h0.6v0.6h-0.6zM140.8 55.6h0.6v0.6h-0.6zM141.7 53.2h0.6v0.6h-0.6zM135.9 51.3h0.6v0.6h-0.6zM136.9 51.8h0.6v0.6h-0.6zM131.5 49.5h0.6v0.6h-0.6zM143.2 50.3h0.6v0.6h-0.6zM132.8 53.2h0.6v0.6h-0.6zM145.9 56.7h0.6v0.6h-0.6zM137.1 50.5h0.6v0.6h-0.6zM136.5 50.9h0.6v0.6h-0.6zM136.4 54.6h0.6v0.6h-0.6zM134.0 51.2h0.6v0.6h-0.6zM137.8 53.2h0.6v0.6h-0.6zM135.4 51.2h0.6v0.6h-0.6zM133.6 51.3h0.6v0.6h-0.6zM141.5 52.7h0.6v0.6h-0.6zM124.2 55.0h0.6v0.6h-0.6zM138.7 51.0h0.6v0.6h-0.6zM137.8 45.2h0.6v0.6h-0.6zM131.1 56.4h0.6v0.6h-0.6zM135.5 53.4h0.6v0.6h-0.6zM142.7 50.0h0.6v0.6h-0.6zM147.3 51.4h0.6v0.6h-0.6zM140.7 50.2h0.6v0.6h-0.6zM140.8 53.3h0.6v0.6h-0.6zM144.2 50.2h0.6v0.6h-0.6zM139.0 58.2h0.6v0.6h-0.6zM133.3 54.3h0.6v0.6h-0.6zM141.1 52.0h0.6v0.6h-0.6zM137.7 57.1h0.6v0.6h-0.6zM144.5 54.8h0.6v0.6h-0.6zM140.3 50.2h0.6v0.6h-0.6zM139.4 58.1h0.6v0.6h-0.6zM144.1 49.6h0.6v0.6h-0.6zM129.1 51.5h0.6v0.6h-0.6zM139.8 51.8h0.6v0.6h-0.6zM137.5 54.2h0.6v0.6h-0.6zM143.3 53.9h0.6v0.6h-0.6zM145.0 49.5h0.6v0.6h-0.6zM141.2 54.5h0.6v0.6h-0.6zM131.9 56.7h0.6v0.6h-0.6zM131.3 49.4h0.6v0.6h-0.6zM151.8 56.8h0.6v0.6h-0.6zM140.8 57.0h0.6v0.6h-0.6zM144.5 50.3h0.6v0.6h-0.6zM141.3 57.1h0.6v0.6h-0.6zM138.2 53.5h0.6v0.6h-0.6zM136.8 55.3h0.6v0.6h-0.6zM136.3 51.7h0.6v0.6h-0.6zM133.1 50.8h0.6v0.6h-0.6zM140.1 54.6h0.6v0.6h-0.6zM137.1 50.5h0.6v0.6h-0.6zM140.6 54.3h0.6v0.6h-0.6zM145.1 52.0h0.6v0.6h-0.6zM137.0 54.7h0.6v0.6h-0.6zM146.4 53.2h0.6v0.6h-0.6zM138.6 50.8h0.6v0.6h-0.6zM137.2 55.9h0.6v0.6h-0.6zM143.1 56.3h0.6v0.6h-0.6zM131.1 55.6h0.6v0.6h-0.6zM134.5 54.9h0.6v0.6h-0.6zM127.6 53.0h0.6v0.6h-0.6zM134.7 56.8h0.6v0.6h-0.6zM139.6 56.8h0.6v0.6h-0.6zM136.9 58.5h0.6v0.6h-0.6zM136.6 50.6h0.6v0.6h-0.6zM143.3 52.2h0.6v0.6h-0.6zM138.7 49.6h0.6v0.6h-0.6zM137.3 53.6h0.6v0.6h-0.6zM135.6 54.4h0.6v0.6h-0.6zM127.9 55.7h0.6v0.6h-0.6zM137.0 57.3h0.6v0.6h-0.6zM137.3 51.5h0.6v0.6h-0.6zM136.8 54.1h0.6v0.6h-0.6zM141.9 52.0h0.6v0.6h-0.6zM135.1 54.5h0.6v0.6h-0.6zM143.0 48.5h0.6v0.6h-0.6zM133.9 51.5h0.6v0.6h-0.6zM147.3 56.7h0.6v0.6h-0.6zM142.9 54.7h0.6v0.6h-0.6zM133.6 56.4h0.6v0.6h-0.6zM136.9 51.1h0.6v0.6h-0.6zM148.4 49.3h0.6v0.6h-0.6zM145.7 53.9h0.6v0.6h-0.6zM134.5 53.8h0.6v0.6h-0.6zM134.9 53.8h0.6v0.6h-0.6zM135.9 50.1h0.6v0.6h-0.6zM151.9 51.9h0.6v0.6h-0.6zM143.8 53.2h0.6v0.6h-0.6zM142.3 49.9h0.6v0.6h-0.6zM133.9 44.4h0.6v0.6h-0.6zM143.9 54.5h0.6v0.6h-0.6zM133.3 55.6h0.6v0.6h-0.6zM140.2 55.8h0.6v0.6h-0.6zM142.0 55.4h0.6v0.6h-0.6zM138.9 52.2h0.6v0.6h-0.6zM142.5 56.7h0.6v0.6h-0.6zM133.3 50.2h0.6v0.6h-0.6zM138.8 58.2h0.6v0.6h-0.6zM138.0 48.7h0.6v0.6h-0.6zM142.9 55.4h0.6v0.6h-0.6zM148.5 53.8h0.6v0.6h-0.6zM148.6 51.3h0.6v0.6h-0.6zM143.4 53.7h0.6v0.6h-0.6zM133.2 52.6h0.6v0.6h-0.6zM145.5 56.4h0.6v0.6h-0.6zM137.2 56.3h0.6v0.6h-0.6zM143.4 55.8h0.6v0.6h-0.6zM140.4 54.1h0.6v0.6h-0.6zM135.0 53.1h0.6v0.6h-0.6zM139.6 51.3h0.6v0.6h-0.6zM137.6 53.8h0.6v0.6h-0.6zM140.1 56.2h0.6v0.6h-0.6zM134.0 52.2h0.6v0.6h-0.6zM140.3 52.3h0.6v0.6h-0.6zM140.6 52.0h0.6v0.6h-0.6zM144.8 52.7h0.6v0.6h-0.6zM133.5 55.4h0.6v0.6h-0.6zM147.1 48.0h0.6v0.6h-0.6zM138.4 53.5h0.6v0.6h-0.6zM144.0 57.4h0.6v0.6h-0.6zM138.3 49.1h0.6v0.6h-0.6zM142.3 56.1h0.6v0.6h-0.6zM141.3 53.5h0.6v0.6h-0.6zM133.2 49.2h0.6v0.6h-0.6zM143.8 54.1h0.6v0.6h-0.6zM142.3 54.3h0.6v0.6h-0.6zM147.2 57.2h0.6v0.6h-0.6zM136.4 56.1h0.6v0.6h-0.6z" fill="#000" fill-opacity="0.6" filter="url(#b3)"/>
<path d="M144.0 49.8a0.9 0.9 0 1 0 1.7 0a0.9 0.9 0 1 0 -1.7 0zM144.3 51.5a0.9 0.9 0 1 0 1.7 0a0.9 0.9 0 1 0 -1.7 0zM145.3 53.0a0.8 0.8 0 1 0 1.5 0a0.8 0.8 0 1 0 -1.5 0zM146.8 53.6a0.6 0.6 0 1 0 1.2 0a0.6 0.6 0 1 0 -1.2 0zM144.8 52.4a0.6 0.6 0 1 0 1.2 0a0.6 0.6 0 1 0 -1.2 0zM146.0 52.3a0.8 0.8 0 1 0 1.6 0a0.8 0.8 0 1 0 -1.6 0zM149.3 52.9a0.7 0.7 0 1 0 1.3 0a0.7 0.7 0 1 0 -1.3 0zM145.8 52.8a0.4 0.4 0 1 0 0.9 0a0.4 0.4 0 1 0 -0.9 0zM145.5 53.1a0.6 0.6 0 1 0 1.3 0a0.6 0.6 0 1 0 -1.3 0zM147.3 54.6a0.6 0.6 0 1 0 1.3 0a0.6 0.6 0 1 0 -1.3 0zM148.9 52.3a0.9 0.9 0 1 0 1.8 0a0.9 0.9 0 1 0 -1.8 0zM149.6 52.3a0.9 0.9 0 1 0 1.8 0a0.9 0.9 0 1 0 -1.8 0zM144.9 53.7a0.6 0.6 0 1 0 1.2 0a0.6 0.6 0 1 0 -1.2 0zM145.9 54.2a0.7 0.7 0 1 0 1.4 0a0.7 0.7 0 1 0 -1.4 0zM145.8 53.8a0.7 0.7 0 1 0 1.3 0a0.7 0.7 0 1 0 -1.3 0zM147.1 51.7a0.4 0.4 0 1 0 0.9 0a0.4 0.4 0 1 0 -0.9 0zM146.7 53.4a0.8 0.8 0 1 0 1.6 0a0.8 0.8 0 1 0 -1.6 0zM143.2 53.5a0.6 0.6 0 1 0 1.2 0a0.6 0.6 0 1 0 -1.2 0z" fill="#000" fill-opacity="0.6" filter="url(#b3)"/>
<path d="M147.0 55.2h0.6v0.6h-0.6zM155.4 55.2h0.6v0.6h-0.6zM149.3 50.7h0.6v0.6h-0.6zM145.7 55.7h0.6v0.6h-0.6zM149.0 49.5h0.6v0.6h-0.6zM152.8 53.5h0.6v0.6h-0.6zM152.0 53.1h0.6v0.6h-0.6zM141.5 50.8h0.6v0.6h-0.6zM147.6 52.0h0.6v0.6h-0.6zM152.6 51.0h0.6v0.6h-0.6zM147.7 52.2h0.6v0.6h-0.6zM147.7 50.2h0.6v0.6h-0.6zM144.3 47.1h0.6v0.6h-0.6zM149.0 51.9h0.6v0.6h-0.6zM148.6 50.2h0.6v0.6h-0.6zM148.0 50.4h0.6v0.6h-0.6zM145.0 53.0h0.6v0.6h-0.6zM149.9 53.5h0.6v0.6h-0.6zM147.9 51.5h0.6v0.6h-0.6zM152.2 54.8h0.6v0.6h-0.6zM146.1 50.1h0.6v0.6h-0.6zM149.1 53.0h0.6v0.6h-0.6zM145.3 56.9h0.6v0.6h-0.6zM141.7 50.6h0.6v0.6h-0.6zM148.8 54.3h0.6v0.6h-0.6zM142.4 51.4h0.6v0.6h-0.6zM152.4 55.1h0.6v0.6h-0.6zM147.3 52.4h0.6v0.6h-0.6zM145.3 53.1h0.6v0.6h-0.6zM144.8 48.2h0.6v0.6h-0.6zM143.4 52.4h0.6v0.6h-0.6zM144.0 54.5h0.6v0.6h-0.6zM151.9 54.3h0.6v0.6h-0.6zM150.0 54.6h0.6v0.6h-0.6zM148.8 54.1h0.6v0.6h-0.6zM149.4 53.9h0.6v0.6h-0.6zM144.9 51.0h0.6v0.6h-0.6zM145.0 54.0h0.6v0.6h-0.6zM149.5 50.7h0.6v0.6h-0.6zM145.0 51.1h0.6v0.6h-0.6zM150.7 52.1h0.6v0.6h-0.6zM147.3 50.9h0.6v0.6h-0.6zM147.7 55.5h0.6v0.6h-0.6zM145.9 51.6h0.6v0.6h-0.6zM153.2 53.8h0.6v0.6h-0.6zM144.6 54.5h0.6v0.6h-0.6zM144.2 53.4h0.6v0.6h-0.6zM140.4 50.3h0.6v0.6h-0.6zM150.8 51.1h0.6v0.6h-0.6zM145.8 52.4h0.6v0.6h-0.6zM148.0 51.4h0.6v0.6h-0.6zM146.0 55.9h0.6v0.6h-0.6zM152.5 53.0h0.6v0.6h-0.6zM144.5 51.2h0.6v0.6h-0.6zM147.1 53.3h0.6v0.6h-0.6zM152.9 51.3h0.6v0.6h-0.6zM148.5 51.4h0.6v0.6h-0.6zM148.4 50.9h0.6v0.6h-0.6zM149.2 54.7h0.6v0.6h-0.6zM146.8 51.7h0.6v0.6h-0.6zM148.4 49.7h0.6v0.6h-0.6zM153.5 49.6h0.6v0.6h-0.6zM146.9 50.5h0.6v0.6h-0.6zM152.6 51.3h0.6v0.6h-0.6zM146.5 56.1h0.6v0.6h-0.6zM147.7 50.7h0.6v0.6h-0.6zM148.0 52.7h0.6v0.6h-0.6zM145.8 51.9h0.6v0.6h-0.6zM147.4 53.8h0.6v0.6h-0.6zM150.3 54.0h0.6v0.6h-0.6zM147.7 53.9h0.6v0.6h-0.6zM147.4 54.7h0.6v0.6h-0.6zM149.2 51.5h0.6v0.6h-0.6zM151.7 49.3h0.6v0.6h-0.6zM145.1 50.7h0.6v0.6h-0.6zM147.6 49.8h0.6v0.6h-0.6zM144.4 48.5h0.6v0.6h-0.6zM148.4 50.8h0.6v0.6h-0.6zM154.6 53.9h0.6v0.6h-0.6zM144.6 55.0h0.6v0.6h-0.6zM148.3 54.5h0.6v0.6h-0.6zM144.7 54.7h0.6v0.6h-0.6zM151.3 51.5h0.6v0.6h-0.6zM145.5 51.6h0.6v0.6h-0.6zM148.8 57.2h0.6v0.6h-0.6zM153.5 55.3h0.6v0.6h-0.6zM147.4 51.7h0.6v0.6h-0.6zM149.1 51.8h0.6v0.6h-0.6zM146.6 51.9h0.6v0.6h-0.6zM150.6 52.2h0.6v0.6h-0.6z" fill="#000" fill-opacity="0.5" filter="url(#b3)"/>
</g>
<rect x="130.5" y="24.5" width="56.0" height="46.0" fill="none" stroke="#707070" stroke-width="0.8"/>
<line x1="144.5" y1="24.5" x2="144.5" y2="70.5" stroke="#8a8a8a" stroke-width="1"/>
<line x1="130.5" y1="58.9" x2="186.5" y2="58.9" stroke="#999" stroke-width="1.2"/>
<path d="M128.5 70.5H130.5M130.5 70.5V72.0M129.6 67.0H130.5M129.6 65.0H130.5M129.6 63.6H130.5M129.6 62.5H130.5M129.6 61.6H130.5M129.6 60.8H130.5M129.6 60.1H130.5M129.6 59.5H130.5M128.5 59.0H130.5M144.5 70.5V72.0M129.6 55.5H130.5M129.6 53.5H130.5M129.6 52.1H130.5M129.6 51.0H130.5M129.6 50.1H130.5M129.6 49.3H130.5M129.6 48.6H130.5M129.6 48.0H130.5M128.5 47.5H130.5M158.5 70.5V72.0M129.6 44.0H130.5M129.6 42.0H130.5M129.6 40.6H130.5M129.6 39.5H130.5M129.6 38.6H130.5M129.6 37.8H130.5M129.6 37.1H130.5M129.6 36.5H130.5M128.5 36.0H130.5M172.5 70.5V72.0M129.6 32.5H130.5M129.6 30.5H130.5M129.6 29.1H130.5M129.6 28.0H130.5M129.6 27.1H130.5M129.6 26.3H130.5M129.6 25.6H130.5M129.6 25.0H130.5M128.5 24.5H130.5M186.5 70.5V72.0" stroke="#555" stroke-width="0.5" fill="none"/>
<clipPath id="ca3"><rect x="52.5" y="83.5" width="56.0" height="34.2"/></clipPath>
<g clip-path="url(#ca3)">
<ellipse cx="60.9" cy="113.8" rx="6.5" ry="7.2" fill="#000" fill-opacity="1.0" filter="url(#b1)"/>
<path d="M60.4 111.7a1.3 1.3 0 1 0 2.7 0a1.3 1.3 0 1 0 -2.7 0zM60.4 112.7a1.3 1.3 0 1 0 2.5 0a1.3 1.3 0 1 0 -2.5 0zM64.0 111.9a1.5 1.5 0 1 0 3.0 0a1.5 1.5 0 1 0 -3.0 0zM60.9 109.1a0.9 0.9 0 1 0 1.7 0a0.9 0.9 0 1 0 -1.7 0zM57.9 112.1a1.2 1.2 0 1 0 2.4 0a1.2 1.2 0 1 0 -2.4 0zM57.9 115.0a1.0 1.0 0 1 0 1.9 0a1.0 1.0 0 1 0 -1.9 0zM58.9 109.6a1.2 1.2 0 1 0 2.4 0a1.2 1.2 0 1 0 -2.4 0zM62.8 113.9a1.2 1.2 0 1 0 2.5 0a1.2 1.2 0 1 0 -2.5 0zM63.9 111.8a0.9 0.9 0 1 0 1.8 0a0.9 0.9 0 1 0 -1.8 0zM58.8 114.8a1.4 1.4 0 1 0 2.7 0a1.4 1.4 0 1 0 -2.7 0zM64.5 109.5a1.6 1.6 0 1 0 3.1 0a1.6 1.6 0 1 0 -3.1 0zM64.6 109.9a1.5 1.5 0 1 0 3.1 0a1.5 1.5 0 1 0 -3.1 0zM63.2 112.8a1.3 1.3 0 1 0 2.5 0a1.3 1.3 0 1 0 -2.5 0zM58.1 108.9a1.3 1.3 0 1 0 2.6 0a1.3 1.3 0 1 0 -2.6 0zM60.9 111.9a1.2 1.2 0 1 0 2.4 0a1.2 1.2 0 1 0 -2.4 0zM60.8 112.2a0.9 0.9 0 1 0 1.8 0a0.9 0.9 0 1 0 -1.8 0zM65.3 107.9a0.8 0.8 0 1 0 1.6 0a0.8 0.8 0 1 0 -1.6 0zM64.7 113.5a1.4 1.4 0 1 0 2.7 0a1.4 1.4 0 1 0 -2.7 0zM55.7 111.9a1.4 1.4 0 1 0 2.8 0a1.4 1.4 0 1 0 -2.8 0zM60.2 112.3a0.9 0.9 0 1 0 1.7 0a0.9 0.9 0 1 0 -1.7 0zM61.8 107.9a1.5 1.5 0 1 0 2.9 0a1.5 1.5 0 1 0 -2.9 0zM57.7 113.8a1.1 1.1 0 1 0 2.2 0a1.1 1.1 0 1 0 -2.2 0zM65.1 112.9a1.0 1.0 0 1 0 2.0 0a1.0 1.0 0 1 0 -2.0 0zM56.8 110.6a1.1 1.1 0 1 0 2.1 0a1.1 1.1 0 1 0 -2.1 0zM58.5 109.7a1.0 1.0 0 1 0 2.0 0a1.0 1.0 0 1 0 -2.0 0zM61.5 111.2a0.9 0.9 0 1 0 1.8 0a0.9 0.9 0 1 0 -1.8 0zM59.5 115.6a1.4 1.4 0 1 0 2.9 0a1.4 1.4 0 1 0 -2.9 0zM58.6 114.2a1.3 1.3 0 1 0 2.6 0a1.3 1.3 0 1 0 -2.6 0zM59.8 115.8a1.0 1.0 0 1 0 2.0 0a1.0 1.0 0 1 0 -2.0 0zM61.4 111.2a1.0 1.0 0 1 0 2.0 0a1.0 1.0 0 1 0 -2.0 0zM58.8 114.8a1.4 1.4 0 1 0 2.8 0a1.4 1.4 0 1 0 -2.8 0zM57.3 108.0a1.2 1.2 0 1 0 2.5 0a1.2 1.2 0 1 0 -2.5 0zM64.5 114.7a1.0 1.0 0 1 0 2.0 0a1.0 1.0 0 1 0 -2.0 0zM60.0 115.2a1.6 1.6 0 1 0 3.2 0a1.6 1.6 0 1 0 -3.2 0zM57.5 114.3a1.5 1.5 0 1 0 3.1 0a1.5 1.5 0 1 0 -3.1 0zM63.1 112.2a0.9 0.9 0 1 0 1.8 0a0.9 0.9 0 1 0 -1.8 0zM61.2 107.9a1.1 1.1 0 1 0 2.1 0a1.1 1.1 0 1 0 -2.1 0zM60.7 109.8a1.0 1.0 0 1 0 2.1 0a1.0 1.0 0 1 0 -2.1 0zM55.7 109.9a1.2 1.2 0 1 0 2.4 0a1.2 1.2 0 1 0 -2.4 0zM60.0 112.0a1.2 1.2 0 1 0 2.4 0a1.2 1.2 0 1 0 -2.4 0z" fill="#000" fill-opacity="1.0" filter="url(#b3)"/>
<path d="M59.9 112.9h0.6v0.6h-0.6zM62.9 111.0h0.6v0.6h-0.6zM70.0 110.0h0.6v0.6h-0.6zM65.0 116.4h0.6v0.6h-0.6zM63.5 111.2h0.6v0.6h-0.6zM65.0 116.1h0.6v0.6h-0.6zM65.8 108.1h0.6v0.6h-0.6zM65.2 110.8h0.6v0.6h-0.6zM59.6 113.3h0.6v0.6h-0.6zM63.3 113.0h0.6v0.6h-0.6zM60.3 112.9h0.6v0.6h-0.6zM60.1 114.1h0.6v0.6h-0.6zM64.5 115.1h0.6v0.6h-0.6zM56.0 110.8h0.6v0.6h-0.6zM61.4 107.6h0.6v0.6h-0.6zM62.6 111.5h0.6v0.6h-0.6zM61.3 113.4h0.6v0.6h-0.6zM65.2 110.0h0.6v0.6h-0.6zM62.9 114.7h0.6v0.6h-0.6zM58.0 110.7h0.6v0.6h-0.6zM63.8 102.7h0.6v0.6h-0.6zM55.7 113.2h0.6v0.6h-0.6zM63.5 108.7h0.6v0.6h-0.6zM61.9 111.9h0.6v0.6h-0.6zM61.3 108.4h0.6v0.6h-0.6zM63.3 112.7h0.6v0.6h-0.6zM64.0 117.2h0.6v0.6h-0.6zM61.2 112.7h0.6v0.6h-0.6zM55.2 112.0h0.6v0.6h-0.6zM58.5 112.5h0.6v0.6h-0.6zM64.4 112.3h0.6v0.6h-0.6zM64.0 112.7h0.6v0.6h-0.6zM58.2 109.7h0.6v0.6h-0.6zM55.5 112.9h0.6v0.6h-0.6zM59.5 115.1h0.6v0.6h-0.6zM64.9 108.8h0.6v0.6h-0.6zM56.7 114.2h0.6v0.6h-0.6zM57.5 112.8h0.6v0.6h-0.6zM63.5 110.6h0.6v0.6h-0.6zM68.2 109.2h0.6v0.6h-0.6zM62.8 110.6h0.6v0.6h-0.6zM49.5 111.4h0.6v0.6h-0.6zM60.4 114.1h0.6v0.6h-0.6zM60.5 109.4h0.6v0.6h-0.6zM59.0 110.9h0.6v0.6h-0.6zM64.1 111.0h0.6v0.6h-0.6zM66.0 115.1h0.6v0.6h-0.6zM58.1 115.8h0.6v0.6h-0.6zM52.0 112.1h0.6v0.6h-0.6zM57.1 111.7h0.6v0.6h-0.6zM65.7 112.0h0.6v0.6h-0.6zM60.4 116.7h0.6v0.6h-0.6zM58.0 109.0h0.6v0.6h-0.6zM65.0 114.3h0.6v0.6h-0.6zM55.3 112.6h0.6v0.6h-0.6zM64.2 111.5h0.6v0.6h-0.6zM59.4 112.5h0.6v0.6h-0.6zM61.9 109.5h0.6v0.6h-0.6zM64.4 106.3h0.6v0.6h-0.6zM56.8 111.9h0.6v0.6h-0.6zM51.9 109.0h0.6v0.6h-0.6zM56.4 112.3h0.6v0.6h-0.6zM57.3 111.9h0.6v0.6h-0.6zM61.9 114.4h0.6v0.6h-0.6zM64.6 106.4h0.6v0.6h-0.6zM69.8 110.9h0.6v0.6h-0.6zM58.2 106.1h0.6v0.6h-0.6zM59.3 105.6h0.6v0.6h-0.6zM61.8 109.9h0.6v0.6h-0.6zM62.3 109.2h0.6v0.6h-0.6zM65.7 112.6h0.6v0.6h-0.6zM57.1 117.3h0.6v0.6h-0.6zM54.2 106.9h0.6v0.6h-0.6zM66.2 109.9h0.6v0.6h-0.6zM66.5 114.1h0.6v0.6h-0.6zM63.4 109.8h0.6v0.6h-0.6zM63.4 117.1h0.6v0.6h-0.6zM61.6 101.6h0.6v0.6h-0.6zM59.5 110.7h0.6v0.6h-0.6zM60.8 110.8h0.6v0.6h-0.6zM65.6 107.5h0.6v0.6h-0.6zM62.8 104.9h0.6v0.6h-0.6zM52.3 108.4h0.6v0.6h-0.6zM58.0 108.8h0.6v0.6h-0.6zM58.2 114.2h0.6v0.6h-0.6zM63.3 112.3h0.6v0.6h-0.6zM61.8 109.5h0.6v0.6h-0.6zM57.1 106.9h0.6v0.6h-0.6zM59.4 107.9h0.6v0.6h-0.6zM59.7 114.6h0.6v0.6h-0.6zM63.2 116.8h0.6v0.6h-0.6zM57.3 104.1h0.6v0.6h-0.6zM63.8 110.4h0.6v0.6h-0.6zM66.3 110.5h0.6v0.6h-0.6zM67.7 110.6h0.6v0.6h-0.6zM59.4 114.5h0.6v0.6h-0.6zM56.4 111.4h0.6v0.6h-0.6zM68.8 113.6h0.6v0.6h-0.6zM56.6 111.1h0.6v0.6h-0.6zM60.9 109.3h0.6v0.6h-0.6zM62.7 116.5h0.6v0.6h-0.6zM61.2 115.2h0.6v0.6h-0.6zM62.2 112.5h0.6v0.6h-0.6zM58.0 115.5h0.6v0.6h-0.6zM66.4 110.4h0.6v0.6h-0.6zM57.5 113.9h0.6v0.6h-0.6zM61.4 116.1h0.6v0.6h-0.6zM63.0 111.5h0.6v0.6h-0.6zM55.4 114.2h0.6v0.6h-0.6zM61.4 107.4h0.6v0.6h-0.6zM55.0 105.4h0.6v0.6h-0.6zM63.5 110.4h0.6v0.6h-0.6zM47.7 108.8h0.6v0.6h-0.6zM58.4 111.6h0.6v0.6h-0.6zM61.1 110.8h0.6v0.6h-0.6zM64.0 115.7h0.6v0.6h-0.6zM60.5 108.9h0.6v0.6h-0.6zM61.6 106.8h0.6v0.6h-0.6zM59.8 108.2h0.6v0.6h-0.6zM59.3 112.7h0.6v0.6h-0.6zM51.2 113.4h0.6v0.6h-0.6zM62.0 111.2h0.6v0.6h-0.6zM63.9 113.2h0.6v0.6h-0.6zM59.5 108.4h0.6v0.6h-0.6zM63.9 114.7h0.6v0.6h-0.6zM55.1 109.4h0.6v0.6h-0.6zM56.2 115.0h0.6v0.6h-0.6zM58.7 107.5h0.6v0.6h-0.6zM67.0 113.6h0.6v0.6h-0.6zM61.9 112.9h0.6v0.6h-0.6zM60.3 112.1h0.6v0.6h-0.6zM64.6 113.6h0.6v0.6h-0.6zM59.1 112.3h0.6v0.6h-0.6zM68.5 110.0h0.6v0.6h-0.6zM55.7 112.4h0.6v0.6h-0.6zM63.5 114.1h0.6v0.6h-0.6zM56.9 111.8h0.6v0.6h-0.6zM54.3 116.5h0.6v0.6h-0.6zM59.9 108.2h0.6v0.6h-0.6zM58.1 114.9h0.6v0.6h-0.6zM57.7 112.9h0.6v0.6h-0.6zM58.1 109.4h0.6v0.6h-0.6zM56.6 113.1h0.6v0.6h-0.6zM64.2 109.3h0.6v0.6h-0.6zM54.9 117.4h0.6v0.6h-0.6zM67.9 111.1h0.6v0.6h-0.6zM56.1 115.1h0.6v0.6h-0.6zM60.8 109.0h0.6v0.6h-0.6zM59.4 103.3h0.6v0.6h-0.6zM57.7 107.6h0.6v0.6h-0.6zM55.7 114.1h0.6v0.6h-0.6zM50.2 109.5h0.6v0.6h-0.6zM57.6 116.8h0.6v0.6h-0.6zM65.1 112.4h0.6v0.6h-0.6zM61.3 109.2h0.6v0.6h-0.6zM58.9 110.3h0.6v0.6h-0.6zM65.9 113.7h0.6v0.6h-0.6zM64.3 105.8h0.6v0.6h-0.6zM56.9 115.0h0.6v0.6h-0.6zM59.4 106.1h0.6v0.6h-0.6zM60.9 107.3h0.6v0.6h-0.6zM56.4 110.3h0.6v0.6h-0.6zM63.2 111.8h0.6v0.6h-0.6zM61.7 108.9h0.6v0.6h-0.6zM59.6 103.3h0.6v0.6h-0.6zM60.2 116.6h0.6v0.6h-0.6zM56.4 111.3h0.6v0.6h-0.6zM63.8 116.4h0.6v0.6h-0.6zM65.6 108.7h0.6v0.6h-0.6zM59.0 113.0h0.6v0.6h-0.6zM57.5 109.5h0.6v0.6h-0.6zM48.9 109.9h0.6v0.6h-0.6zM52.0 108.2h0.6v0.6h-0.6zM56.9 116.9h0.6v0.6h-0.6zM64.0 113.4h0.6v0.6h-0.6zM58.8 106.9h0.6v0.6h-0.6zM62.9 108.9h0.6v0.6h-0.6zM60.4 115.4h0.6v0.6h-0.6zM60.1 111.8h0.6v0.6h-0.6zM56.9 115.7h0.6v0.6h-0.6zM63.1 114.5h0.6v0.6h-0.6zM67.5 106.0h0.6v0.6h-0.6zM61.0 114.3h0.6v0.6h-0.6zM62.3 113.0h0.6v0.6h-0.6zM62.8 106.3h0.6v0.6h-0.6zM60.6 116.2h0.6v0.6h-0.6zM60.7 111.2h0.6v0.6h-0.6zM64.3 105.5h0.6v0.6h-0.6zM62.5 117.4h0.6v0.6h-0.6zM59.9 108.9h0.6v0.6h-0.6zM63.0 110.3h0.6v0.6h-0.6zM57.6 112.5h0.6v0.6h-0.6zM54.2 114.4h0.6v0.6h-0.6zM56.0 109.9h0.6v0.6h-0.6zM63.8 111.8h0.6v0.6h-0.6zM61.9 116.9h0.6v0.6h-0.6zM58.7 115.3h0.6v0.6h-0.6zM54.2 114.8h0.6v0.6h-0.6zM66.2 109.3h0.6v0.6h-0.6zM62.8 115.0h0.6v0.6h-0.6zM60.2 109.6h0.6v0.6h-0.6zM67.0 107.1h0.6v0.6h-0.6zM61.6 115.4h0.6v0.6h-0.6zM66.9 113.6h0.6v0.6h-0.6zM68.1 114.6h0.6v0.6h-0.6zM55.9 110.7h0.6v0.6h-0.6zM62.0 112.6h0.6v0.6h-0.6zM54.6 107.8h0.6v0.6h-0.6zM62.7 112.6h0.6v0.6h-0.6zM67.1 112.7h0.6v0.6h-0.6zM62.4 114.6h0.6v0.6h-0.6zM57.9 107.2h0.6v0.6h-0.6zM59.0 115.6h0.6v0.6h-0.6zM59.8 116.5h0.6v0.6h-0.6zM58.7 114.7h0.6v0.6h-0.6zM61.0 115.0h0.6v0.6h-0.6zM61.0 112.6h0.6v0.6h-0.6zM59.0 116.5h0.6v0.6h-0.6zM60.8 113.8h0.6v0.6h-0.6zM63.6 108.7h0.6v0.6h-0.6zM57.6 111.8h0.6v0.6h-0.6zM66.1 108.1h0.6v0.6h-0.6zM56.8 108.3h0.6v0.6h-0.6zM59.3 108.0h0.6v0.6h-0.6zM57.6 113.9h0.6v0.6h-0.6zM56.5 111.9h0.6v0.6h-0.6zM56.1 111.2h0.6v0.6h-0.6zM63.0 104.6h0.6v0.6h-0.6zM61.1 112.8h0.6v0.6h-0.6zM60.7 112.9h0.6v0.6h-0.6zM62.6 107.2h0.6v0.6h-0.6zM60.4 114.3h0.6v0.6h-0.6zM66.2 107.0h0.6v0.6h-0.6zM58.5 107.0h0.6v0.6h-0.6zM60.8 108.0h0.6v0.6h-0.6zM56.9 114.7h0.6v0.6h-0.6z" fill="#000" fill-opacity="0.6" filter="url(#b3)"/>
<path d="M76.8 105.7h0.6v0.6h-0.6zM74.9 109.2h0.6v0.6h-0.6zM72.0 113.0h0.6v0.6h-0.6zM73.7 111.3h0.6v0.6h-0.6zM67.4 111.8h0.6v0.6h-0.6zM72.3 109.2h0.6v0.6h-0.6zM71.2 111.9h0.6v0.6h-0.6zM70.5 112.0h0.6v0.6h-0.6zM71.8 114.4h0.6v0.6h-0.6zM69.1 110.9h0.6v0.6h-0.6z" fill="#000" fill-opacity="0.4" filter="url(#b3)"/>
</g>
<rect x="52.5" y="83.5" width="56.0" height="46.0" fill="none" stroke="#707070" stroke-width="0.8"/>
<line x1="67.5" y1="83.5" x2="67.5" y2="129.5" stroke="#8a8a8a" stroke-width="1"/>
<line x1="52.5" y1="117.9" x2="108.5" y2="117.9" stroke="#999" stroke-width="1.2"/>
<path d="M50.5 129.5H52.5M52.5 129.5V131.0M51.6 126.0H52.5M51.6 124.0H52.5M51.6 122.6H52.5M51.6 121.5H52.5M51.6 120.6H52.5M51.6 119.8H52.5M51.6 119.1H52.5M51.6 118.5H52.5M50.5 118.0H52.5M66.5 129.5V131.0M51.6 114.5H52.5M51.6 112.5H52.5M51.6 111.1H52.5M51.6 110.0H52.5M51.6 109.1H52.5M51.6 108.3H52.5M51.6 107.6H52.5M51.6 107.0H52.5M50.5 106.5H52.5M80.5 129.5V131.0M51.6 103.0H52.5M51.6 101.0H52.5M51.6 99.6H52.5M51.6 98.5H52.5M51.6 97.6H52.5M51.6 96.8H52.5M51.6 96.1H52.5M51.6 95.5H52.5M50.5 95.0H52.5M94.5 129.5V131.0M51.6 91.5H52.5M51.6 89.5H52.5M51.6 88.1H52.5M51.6 87.0H52.5M51.6 86.1H52.5M51.6 85.3H52.5M51.6 84.6H52.5M51.6 84.0H52.5M50.5 83.5H52.5M108.5 129.5V131.0" stroke="#555" stroke-width="0.5" fill="none"/>
<clipPath id="ca4"><rect x="130.5" y="83.5" width="56.0" height="34.7"/></clipPath>
<g clip-path="url(#ca4)">
<ellipse cx="138" cy="114" rx="6.1" ry="7.2" fill="#000" fill-opacity="1.0" filter="url(#b1)"/>
<path d="M131.9 109.9a1.1 1.1 0 1 0 2.3 0a1.1 1.1 0 1 0 -2.3 0zM137.0 108.6a1.3 1.3 0 1 0 2.5 0a1.3 1.3 0 1 0 -2.5 0zM138.0 115.4a1.5 1.5 0 1 0 3.0 0a1.5 1.5 0 1 0 -3.0 0zM135.9 110.7a1.2 1.2 0 1 0 2.3 0a1.2 1.2 0 1 0 -2.3 0zM134.2 111.8a1.3 1.3 0 1 0 2.5 0a1.3 1.3 0 1 0 -2.5 0zM136.7 112.1a1.0 1.0 0 1 0 2.0 0a1.0 1.0 0 1 0 -2.0 0zM136.0 110.8a0.9 0.9 0 1 0 1.7 0a0.9 0.9 0 1 0 -1.7 0zM136.6 109.9a1.6 1.6 0 1 0 3.1 0a1.6 1.6 0 1 0 -3.1 0zM135.4 112.0a1.3 1.3 0 1 0 2.6 0a1.3 1.3 0 1 0 -2.6 0zM136.2 116.9a1.4 1.4 0 1 0 2.8 0a1.4 1.4 0 1 0 -2.8 0zM137.2 111.5a0.8 0.8 0 1 0 1.7 0a0.8 0.8 0 1 0 -1.7 0zM137.5 111.0a1.0 1.0 0 1 0 1.9 0a1.0 1.0 0 1 0 -1.9 0zM138.5 112.8a1.2 1.2 0 1 0 2.4 0a1.2 1.2 0 1 0 -2.4 0zM139.5 111.8a1.0 1.0 0 1 0 2.0 0a1.0 1.0 0 1 0 -2.0 0zM137.6 110.9a1.3 1.3 0 1 0 2.6 0a1.3 1.3 0 1 0 -2.6 0zM132.2 108.0a0.8 0.8 0 1 0 1.7 0a0.8 0.8 0 1 0 -1.7 0zM133.9 111.4a1.5 1.5 0 1 0 2.9 0a1.5 1.5 0 1 0 -2.9 0zM137.0 117.1a0.9 0.9 0 1 0 1.9 0a0.9 0.9 0 1 0 -1.9 0zM132.1 112.7a1.0 1.0 0 1 0 2.0 0a1.0 1.0 0 1 0 -2.0 0zM135.5 117.0a1.3 1.3 0 1 0 2.7 0a1.3 1.3 0 1 0 -2.7 0zM138.7 113.2a1.0 1.0 0 1 0 2.0 0a1.0 1.0 0 1 0 -2.0 0zM135.3 116.9a1.4 1.4 0 1 0 2.7 0a1.4 1.4 0 1 0 -2.7 0zM141.0 112.0a1.3 1.3 0 1 0 2.6 0a1.3 1.3 0 1 0 -2.6 0zM133.4 115.6a1.2 1.2 0 1 0 2.4 0a1.2 1.2 0 1 0 -2.4 0zM140.0 113.7a1.1 1.1 0 1 0 2.2 0a1.1 1.1 0 1 0 -2.2 0zM136.3 112.3a0.8 0.8 0 1 0 1.6 0a0.8 0.8 0 1 0 -1.6 0zM139.7 112.2a1.1 1.1 0 1 0 2.1 0a1.1 1.1 0 1 0 -2.1 0zM138.8 115.6a1.5 1.5 0 1 0 3.1 0a1.5 1.5 0 1 0 -3.1 0zM138.2 115.6a1.2 1.2 0 1 0 2.4 0a1.2 1.2 0 1 0 -2.4 0zM137.4 108.8a1.0 1.0 0 1 0 2.0 0a1.0 1.0 0 1 0 -2.0 0zM138.9 116.8a0.9 0.9 0 1 0 1.7 0a0.9 0.9 0 1 0 -1.7 0zM137.5 111.9a1.0 1.0 0 1 0 1.9 0a1.0 1.0 0 1 0 -1.9 0zM131.8 113.6a1.3 1.3 0 1 0 2.6 0a1.3 1.3 0 1 0 -2.6 0zM136.5 107.9a1.4 1.4 0 1 0 2.8 0a1.4 1.4 0 1 0 -2.8 0zM142.0 114.2a0.9 0.9 0 1 0 1.8 0a0.9 0.9 0 1 0 -1.8 0zM137.6 113.2a0.8 0.8 0 1 0 1.6 0a0.8 0.8 0 1 0 -1.6 0zM139.2 110.5a0.9 0.9 0 1 0 1.7 0a0.9 0.9 0 1 0 -1.7 0zM141.6 114.1a1.3 1.3 0 1 0 2.6 0a1.3 1.3 0 1 0 -2.6 0zM137.8 112.1a0.9 0.9 0 1 0 1.8 0a0.9 0.9 0 1 0 -1.8 0zM136.7 114.3a0.9 0.9 0 1 0 1.8 0a0.9 0.9 0 1 0 -1.8 0z" fill="#000" fill-opacity="1.0" filter="url(#b3)"/>
<path d="M139.7 116.9h0.6v0.6h-0.6zM139.1 113.9h0.6v0.6h-0.6zM134.4 111.2h0.6v0.6h-0.6zM140.9 115.8h0.6v0.6h-0.6zM134.2 111.8h0.6v0.6h-0.6zM136.9 112.2h0.6v0.6h-0.6zM136.1 110.4h0.6v0.6h-0.6zM137.7 112.4h0.6v0.6h-0.6zM141.9 108.9h0.6v0.6h-0.6zM134.3 114.8h0.6v0.6h-0.6zM139.9 111.3h0.6v0.6h-0.6zM133.6 115.8h0.6v0.6h-0.6zM133.9 116.1h0.6v0.6h-0.6zM138.9 111.4h0.6v0.6h-0.6zM137.3 114.9h0.6v0.6h-0.6zM138.0 105.7h0.6v0.6h-0.6zM135.3 104.2h0.6v0.6h-0.6zM139.5 115.3h0.6v0.6h-0.6zM141.9 107.1h0.6v0.6h-0.6zM137.5 104.8h0.6v0.6h-0.6zM134.6 115.7h0.6v0.6h-0.6zM145.8 110.0h0.6v0.6h-0.6zM130.9 108.5h0.6v0.6h-0.6zM145.3 112.0h0.6v0.6h-0.6zM132.6 104.4h0.6v0.6h-0.6zM140.4 114.9h0.6v0.6h-0.6zM136.1 111.3h0.6v0.6h-0.6zM138.3 110.7h0.6v0.6h-0.6zM135.9 109.9h0.6v0.6h-0.6zM135.7 116.4h0.6v0.6h-0.6zM139.5 115.7h0.6v0.6h-0.6zM145.0 103.7h0.6v0.6h-0.6zM137.7 115.4h0.6v0.6h-0.6zM137.1 109.8h0.6v0.6h-0.6zM139.5 110.1h0.6v0.6h-0.6zM134.8 110.9h0.6v0.6h-0.6zM138.2 112.0h0.6v0.6h-0.6zM141.4 112.0h0.6v0.6h-0.6zM137.1 111.0h0.6v0.6h-0.6zM137.4 109.4h0.6v0.6h-0.6zM132.0 112.7h0.6v0.6h-0.6zM143.5 105.4h0.6v0.6h-0.6zM135.1 113.5h0.6v0.6h-0.6zM135.4 113.9h0.6v0.6h-0.6zM137.8 108.0h0.6v0.6h-0.6zM137.1 110.1h0.6v0.6h-0.6zM140.0 102.8h0.6v0.6h-0.6zM139.5 116.8h0.6v0.6h-0.6zM138.5 112.8h0.6v0.6h-0.6zM135.9 113.2h0.6v0.6h-0.6zM137.4 107.3h0.6v0.6h-0.6zM133.4 103.6h0.6v0.6h-0.6zM139.6 112.6h0.6v0.6h-0.6zM142.1 112.9h0.6v0.6h-0.6zM140.6 107.1h0.6v0.6h-0.6zM130.9 109.9h0.6v0.6h-0.6zM136.7 113.3h0.6v0.6h-0.6zM137.5 111.4h0.6v0.6h-0.6zM138.1 112.9h0.6v0.6h-0.6zM138.7 113.1h0.6v0.6h-0.6zM136.0 111.6h0.6v0.6h-0.6zM132.4 107.9h0.6v0.6h-0.6zM136.9 113.5h0.6v0.6h-0.6zM135.1 106.9h0.6v0.6h-0.6zM141.6 109.0h0.6v0.6h-0.6zM131.4 108.5h0.6v0.6h-0.6zM133.4 103.2h0.6v0.6h-0.6zM135.1 109.0h0.6v0.6h-0.6zM142.3 112.3h0.6v0.6h-0.6zM137.6 116.9h0.6v0.6h-0.6zM133.5 111.7h0.6v0.6h-0.6zM139.9 112.7h0.6v0.6h-0.6zM133.5 108.6h0.6v0.6h-0.6zM144.7 111.6h0.6v0.6h-0.6zM137.0 115.8h0.6v0.6h-0.6zM131.1 111.8h0.6v0.6h-0.6zM131.3 117.0h0.6v0.6h-0.6zM134.2 112.4h0.6v0.6h-0.6zM134.5 112.4h0.6v0.6h-0.6zM139.2 112.0h0.6v0.6h-0.6zM136.8 112.9h0.6v0.6h-0.6zM137.0 110.2h0.6v0.6h-0.6zM140.4 115.0h0.6v0.6h-0.6zM132.8 108.3h0.6v0.6h-0.6zM135.0 113.0h0.6v0.6h-0.6zM132.6 117.6h0.6v0.6h-0.6zM138.1 112.5h0.6v0.6h-0.6zM141.3 109.3h0.6v0.6h-0.6zM139.4 113.4h0.6v0.6h-0.6zM142.9 108.2h0.6v0.6h-0.6zM143.2 114.1h0.6v0.6h-0.6zM138.9 115.8h0.6v0.6h-0.6zM137.0 111.3h0.6v0.6h-0.6zM141.2 110.7h0.6v0.6h-0.6zM142.1 116.9h0.6v0.6h-0.6zM138.8 112.6h0.6v0.6h-0.6zM135.5 108.7h0.6v0.6h-0.6zM143.5 108.3h0.6v0.6h-0.6zM138.3 113.1h0.6v0.6h-0.6zM134.6 109.5h0.6v0.6h-0.6zM139.4 117.0h0.6v0.6h-0.6zM145.7 115.6h0.6v0.6h-0.6zM143.0 110.4h0.6v0.6h-0.6zM135.4 117.2h0.6v0.6h-0.6zM143.6 108.3h0.6v0.6h-0.6zM142.4 113.1h0.6v0.6h-0.6zM141.0 115.5h0.6v0.6h-0.6zM145.2 109.8h0.6v0.6h-0.6zM138.0 116.6h0.6v0.6h-0.6zM137.1 114.0h0.6v0.6h-0.6zM137.7 105.9h0.6v0.6h-0.6zM135.9 115.2h0.6v0.6h-0.6zM136.0 106.5h0.6v0.6h-0.6zM136.1 112.4h0.6v0.6h-0.6zM139.9 113.2h0.6v0.6h-0.6zM140.1 108.3h0.6v0.6h-0.6zM135.8 109.3h0.6v0.6h-0.6zM136.4 113.6h0.6v0.6h-0.6zM143.1 111.2h0.6v0.6h-0.6zM142.1 116.1h0.6v0.6h-0.6zM133.7 109.1h0.6v0.6h-0.6zM138.6 107.1h0.6v0.6h-0.6zM145.2 105.3h0.6v0.6h-0.6zM133.4 114.9h0.6v0.6h-0.6zM135.2 114.6h0.6v0.6h-0.6zM134.3 115.9h0.6v0.6h-0.6zM135.9 114.7h0.6v0.6h-0.6zM141.9 106.7h0.6v0.6h-0.6zM134.7 105.8h0.6v0.6h-0.6zM133.9 115.4h0.6v0.6h-0.6zM138.0 115.1h0.6v0.6h-0.6zM143.5 115.8h0.6v0.6h-0.6zM140.8 110.5h0.6v0.6h-0.6zM136.6 113.2h0.6v0.6h-0.6zM141.4 116.0h0.6v0.6h-0.6zM139.2 111.1h0.6v0.6h-0.6zM135.4 115.3h0.6v0.6h-0.6zM138.9 114.8h0.6v0.6h-0.6zM135.3 113.3h0.6v0.6h-0.6zM137.9 111.1h0.6v0.6h-0.6zM133.6 107.0h0.6v0.6h-0.6zM136.9 114.1h0.6v0.6h-0.6zM139.1 113.0h0.6v0.6h-0.6zM139.4 107.3h0.6v0.6h-0.6zM142.2 112.4h0.6v0.6h-0.6zM135.3 110.2h0.6v0.6h-0.6zM141.9 112.8h0.6v0.6h-0.6zM141.4 108.5h0.6v0.6h-0.6zM142.9 116.7h0.6v0.6h-0.6zM142.1 114.5h0.6v0.6h-0.6zM139.4 112.9h0.6v0.6h-0.6zM136.1 113.1h0.6v0.6h-0.6zM143.0 111.8h0.6v0.6h-0.6zM145.6 106.6h0.6v0.6h-0.6zM138.3 106.8h0.6v0.6h-0.6zM131.5 113.1h0.6v0.6h-0.6zM136.9 110.2h0.6v0.6h-0.6zM134.1 111.3h0.6v0.6h-0.6zM132.0 111.4h0.6v0.6h-0.6zM136.2 107.7h0.6v0.6h-0.6zM139.7 105.5h0.6v0.6h-0.6zM139.8 113.1h0.6v0.6h-0.6zM140.1 112.6h0.6v0.6h-0.6zM141.2 111.2h0.6v0.6h-0.6zM134.1 113.5h0.6v0.6h-0.6zM135.2 110.9h0.6v0.6h-0.6zM138.6 108.8h0.6v0.6h-0.6zM141.9 106.6h0.6v0.6h-0.6zM142.8 112.0h0.6v0.6h-0.6zM144.6 116.1h0.6v0.6h-0.6zM140.7 113.2h0.6v0.6h-0.6zM138.6 107.2h0.6v0.6h-0.6zM136.0 108.8h0.6v0.6h-0.6zM135.5 111.7h0.6v0.6h-0.6zM135.2 112.7h0.6v0.6h-0.6zM137.2 110.5h0.6v0.6h-0.6zM139.6 113.8h0.6v0.6h-0.6zM133.1 111.0h0.6v0.6h-0.6zM149.2 112.2h0.6v0.6h-0.6zM139.9 109.0h0.6v0.6h-0.6zM141.9 117.7h0.6v0.6h-0.6zM140.4 111.7h0.6v0.6h-0.6zM138.3 105.4h0.6v0.6h-0.6zM140.4 111.1h0.6v0.6h-0.6zM139.7 113.5h0.6v0.6h-0.6zM141.6 109.8h0.6v0.6h-0.6zM140.5 114.4h0.6v0.6h-0.6zM138.3 117.2h0.6v0.6h-0.6zM136.8 105.9h0.6v0.6h-0.6zM134.1 113.5h0.6v0.6h-0.6zM134.4 112.7h0.6v0.6h-0.6zM132.5 113.5h0.6v0.6h-0.6zM137.2 108.9h0.6v0.6h-0.6zM136.1 111.2h0.6v0.6h-0.6zM141.6 113.0h0.6v0.6h-0.6zM137.4 112.7h0.6v0.6h-0.6zM141.5 113.8h0.6v0.6h-0.6zM144.8 109.6h0.6v0.6h-0.6zM141.3 112.6h0.6v0.6h-0.6zM135.8 114.3h0.6v0.6h-0.6zM141.3 115.6h0.6v0.6h-0.6zM140.0 109.0h0.6v0.6h-0.6zM138.8 113.5h0.6v0.6h-0.6zM144.4 112.6h0.6v0.6h-0.6zM138.7 117.7h0.6v0.6h-0.6zM138.4 110.5h0.6v0.6h-0.6zM139.2 114.9h0.6v0.6h-0.6zM138.7 106.2h0.6v0.6h-0.6zM136.6 115.7h0.6v0.6h-0.6zM135.4 115.2h0.6v0.6h-0.6zM138.8 109.3h0.6v0.6h-0.6zM141.2 104.5h0.6v0.6h-0.6zM130.3 106.6h0.6v0.6h-0.6zM140.2 111.2h0.6v0.6h-0.6zM140.5 111.9h0.6v0.6h-0.6zM138.7 110.3h0.6v0.6h-0.6zM136.7 115.7h0.6v0.6h-0.6zM141.1 107.4h0.6v0.6h-0.6zM141.0 108.8h0.6v0.6h-0.6zM141.0 112.9h0.6v0.6h-0.6zM137.0 115.6h0.6v0.6h-0.6zM142.8 110.3h0.6v0.6h-0.6zM138.6 110.7h0.6v0.6h-0.6zM138.2 117.8h0.6v0.6h-0.6zM136.5 114.2h0.6v0.6h-0.6zM139.1 112.4h0.6v0.6h-0.6zM133.9 114.4h0.6v0.6h-0.6zM134.0 114.7h0.6v0.6h-0.6zM137.8 112.6h0.6v0.6h-0.6zM136.4 109.1h0.6v0.6h-0.6zM134.3 112.2h0.6v0.6h-0.6zM137.8 113.2h0.6v0.6h-0.6zM137.1 114.9h0.6v0.6h-0.6zM138.7 112.6h0.6v0.6h-0.6zM137.3 112.1h0.6v0.6h-0.6zM140.6 109.7h0.6v0.6h-0.6zM133.6 113.5h0.6v0.6h-0.6zM139.7 112.3h0.6v0.6h-0.6zM139.1 107.5h0.6v0.6h-0.6zM134.5 112.1h0.6v0.6h-0.6zM138.0 107.7h0.6v0.6h-0.6zM139.9 105.4h0.6v0.6h-0.6zM142.8 108.4h0.6v0.6h-0.6zM136.1 108.4h0.6v0.6h-0.6zM133.1 111.0h0.6v0.6h-0.6zM131.1 110.9h0.6v0.6h-0.6zM138.8 111.1h0.6v0.6h-0.6zM138.1 107.0h0.6v0.6h-0.6zM131.2 107.4h0.6v0.6h-0.6zM142.1 113.3h0.6v0.6h-0.6z" fill="#000" fill-opacity="0.6" filter="url(#b3)"/>
<path d="M149.1 111.4h0.6v0.6h-0.6zM158.6 110.2h0.6v0.6h-0.6zM160.1 110.6h0.6v0.6h-0.6zM149.5 108.2h0.6v0.6h-0.6zM153.1 111.9h0.6v0.6h-0.6zM158.9 108.1h0.6v0.6h-0.6z" fill="#000" fill-opacity="0.25" filter="url(#b3)"/>
</g>
<rect x="130.5" y="83.5" width="56.0" height="46.0" fill="none" stroke="#707070" stroke-width="0.8"/>
<line x1="146.5" y1="83.5" x2="146.5" y2="129.5" stroke="#8a8a8a" stroke-width="1"/>
<line x1="130.5" y1="118.3" x2="186.5" y2="118.3" stroke="#999" stroke-width="1.2"/>
<path d="M128.5 129.5H130.5M130.5 129.5V131.0M129.6 126.0H130.5M129.6 124.0H130.5M129.6 122.6H130.5M129.6 121.5H130.5M129.6 120.6H130.5M129.6 119.8H130.5M129.6 119.1H130.5M129.6 118.5H130.5M128.5 118.0H130.5M144.5 129.5V131.0M129.6 114.5H130.5M129.6 112.5H130.5M129.6 111.1H130.5M129.6 110.0H130.5M129.6 109.1H130.5M129.6 108.3H130.5M129.6 107.6H130.5M129.6 107.0H130.5M128.5 106.5H130.5M158.5 129.5V131.0M129.6 103.0H130.5M129.6 101.0H130.5M129.6 99.6H130.5M129.6 98.5H130.5M129.6 97.6H130.5M129.6 96.8H130.5M129.6 96.1H130.5M129.6 95.5H130.5M128.5 95.0H130.5M172.5 129.5V131.0M129.6 91.5H130.5M129.6 89.5H130.5M129.6 88.1H130.5M129.6 87.0H130.5M129.6 86.1H130.5M129.6 85.3H130.5M129.6 84.6H130.5M129.6 84.0H130.5M128.5 83.5H130.5M186.5 129.5V131.0" stroke="#555" stroke-width="0.5" fill="none"/>
<line x1="37.9" y1="130.4" x2="37.9" y2="98.1" stroke="#333" stroke-width="1.1"/>
<path d="M37.9 95.1l-3.2 5.6l3.2 -1.2l3.2 1.2z" fill="#000"/>
<line x1="56.1" y1="141.4" x2="82.3" y2="141.4" stroke="#333" stroke-width="1.1"/>
<path d="M85.3 141.4l-6.2 -3.2l1.3 3.2l-1.3 3.2z" fill="#000"/>
<clipPath id="cb1"><rect x="53.5" y="174.5" width="56.0" height="46.0"/></clipPath>
<g clip-path="url(#cb1)">
<ellipse cx="66" cy="203.6" rx="11" ry="4.2" fill="#000" fill-opacity="0.45" filter="url(#b2)"/>
<ellipse cx="62.2" cy="203.5" rx="6.8" ry="4.4" fill="#000" fill-opacity="1.0" filter="url(#b1)"/>
<path d="M60.2 200.2a1.4 1.4 0 1 0 2.8 0a1.4 1.4 0 1 0 -2.8 0zM60.7 204.2a1.4 1.4 0 1 0 2.7 0a1.4 1.4 0 1 0 -2.7 0zM60.6 202.7a1.5 1.5 0 1 0 3.1 0a1.5 1.5 0 1 0 -3.1 0zM60.2 203.3a1.2 1.2 0 1 0 2.4 0a1.2 1.2 0 1 0 -2.4 0zM60.0 204.2a1.5 1.5 0 1 0 3.0 0a1.5 1.5 0 1 0 -3.0 0zM62.7 203.0a1.2 1.2 0 1 0 2.3 0a1.2 1.2 0 1 0 -2.3 0zM60.7 206.4a0.9 0.9 0 1 0 1.8 0a0.9 0.9 0 1 0 -1.8 0zM59.4 205.2a1.2 1.2 0 1 0 2.4 0a1.2 1.2 0 1 0 -2.4 0zM56.5 204.5a1.6 1.6 0 1 0 3.1 0a1.6 1.6 0 1 0 -3.1 0zM66.6 201.6a1.5 1.5 0 1 0 2.9 0a1.5 1.5 0 1 0 -2.9 0zM61.5 204.9a1.2 1.2 0 1 0 2.3 0a1.2 1.2 0 1 0 -2.3 0zM58.3 201.3a1.1 1.1 0 1 0 2.2 0a1.1 1.1 0 1 0 -2.2 0zM64.4 203.3a0.8 0.8 0 1 0 1.6 0a0.8 0.8 0 1 0 -1.6 0zM62.9 204.1a1.4 1.4 0 1 0 2.8 0a1.4 1.4 0 1 0 -2.8 0zM61.8 202.9a1.0 1.0 0 1 0 2.0 0a1.0 1.0 0 1 0 -2.0 0zM61.1 206.6a1.5 1.5 0 1 0 3.0 0a1.5 1.5 0 1 0 -3.0 0zM60.6 204.3a1.6 1.6 0 1 0 3.1 0a1.6 1.6 0 1 0 -3.1 0zM66.4 202.8a1.2 1.2 0 1 0 2.4 0a1.2 1.2 0 1 0 -2.4 0zM61.0 200.2a1.2 1.2 0 1 0 2.4 0a1.2 1.2 0 1 0 -2.4 0zM60.4 205.8a1.3 1.3 0 1 0 2.7 0a1.3 1.3 0 1 0 -2.7 0zM59.2 206.0a0.9 0.9 0 1 0 1.8 0a0.9 0.9 0 1 0 -1.8 0zM63.6 203.1a1.0 1.0 0 1 0 2.0 0a1.0 1.0 0 1 0 -2.0 0zM66.5 202.2a1.5 1.5 0 1 0 3.1 0a1.5 1.5 0 1 0 -3.1 0zM64.4 200.2a1.5 1.5 0 1 0 2.9 0a1.5 1.5 0 1 0 -2.9 0zM59.7 203.1a1.4 1.4 0 1 0 2.8 0a1.4 1.4 0 1 0 -2.8 0zM64.8 200.2a0.8 0.8 0 1 0 1.7 0a0.8 0.8 0 1 0 -1.7 0zM66.2 204.6a1.2 1.2 0 1 0 2.4 0a1.2 1.2 0 1 0 -2.4 0zM66.9 200.2a1.2 1.2 0 1 0 2.3 0a1.2 1.2 0 1 0 -2.3 0zM58.7 200.8a1.4 1.4 0 1 0 2.7 0a1.4 1.4 0 1 0 -2.7 0zM58.2 205.5a0.9 0.9 0 1 0 1.7 0a0.9 0.9 0 1 0 -1.7 0zM65.3 201.5a1.4 1.4 0 1 0 2.9 0a1.4 1.4 0 1 0 -2.9 0zM58.9 203.7a1.2 1.2 0 1 0 2.3 0a1.2 1.2 0 1 0 -2.3 0zM59.6 201.1a0.9 0.9 0 1 0 1.8 0a0.9 0.9 0 1 0 -1.8 0zM64.7 203.4a1.0 1.0 0 1 0 2.0 0a1.0 1.0 0 1 0 -2.0 0zM61.5 204.8a1.1 1.1 0 1 0 2.3 0a1.1 1.1 0 1 0 -2.3 0zM58.4 200.2a1.3 1.3 0 1 0 2.7 0a1.3 1.3 0 1 0 -2.7 0zM66.8 203.9a1.3 1.3 0 1 0 2.6 0a1.3 1.3 0 1 0 -2.6 0zM60.7 200.7a1.1 1.1 0 1 0 2.2 0a1.1 1.1 0 1 0 -2.2 0zM60.3 204.1a1.3 1.3 0 1 0 2.7 0a1.3 1.3 0 1 0 -2.7 0zM65.6 204.4a1.5 1.5 0 1 0 3.1 0a1.5 1.5 0 1 0 -3.1 0zM58.6 201.0a1.4 1.4 0 1 0 2.9 0a1.4 1.4 0 1 0 -2.9 0zM66.5 202.5a1.6 1.6 0 1 0 3.2 0a1.6 1.6 0 1 0 -3.2 0zM60.4 203.5a1.3 1.3 0 1 0 2.6 0a1.3 1.3 0 1 0 -2.6 0zM56.6 200.4a1.3 1.3 0 1 0 2.6 0a1.3 1.3 0 1 0 -2.6 0zM60.6 203.5a1.5 1.5 0 1 0 2.9 0a1.5 1.5 0 1 0 -2.9 0z" fill="#000" fill-opacity="1.0" filter="url(#b3)"/>
<path d="M66.3 201.4a1.0 1.0 0 1 0 2.0 0a1.0 1.0 0 1 0 -2.0 0zM76.4 201.7a1.3 1.3 0 1 0 2.6 0a1.3 1.3 0 1 0 -2.6 0zM66.5 204.3a0.9 0.9 0 1 0 1.8 0a0.9 0.9 0 1 0 -1.8 0zM76.3 203.7a0.8 0.8 0 1 0 1.7 0a0.8 0.8 0 1 0 -1.7 0zM76.8 203.5a0.8 0.8 0 1 0 1.6 0a0.8 0.8 0 1 0 -1.6 0zM72.4 203.0a0.8 0.8 0 1 0 1.6 0a0.8 0.8 0 1 0 -1.6 0zM71.2 204.0a1.0 1.0 0 1 0 2.0 0a1.0 1.0 0 1 0 -2.0 0zM66.9 204.8a0.8 0.8 0 1 0 1.7 0a0.8 0.8 0 1 0 -1.7 0zM75.3 203.5a1.0 1.0 0 1 0 1.9 0a1.0 1.0 0 1 0 -1.9 0zM73.1 203.8a0.8 0.8 0 1 0 1.6 0a0.8 0.8 0 1 0 -1.6 0zM75.4 202.9a0.9 0.9 0 1 0 1.9 0a0.9 0.9 0 1 0 -1.9 0zM69.9 203.4a1.0 1.0 0 1 0 1.9 0a1.0 1.0 0 1 0 -1.9 0zM76.2 204.1a0.8 0.8 0 1 0 1.6 0a0.8 0.8 0 1 0 -1.6 0zM75.3 201.4a1.1 1.1 0 1 0 2.2 0a1.1 1.1 0 1 0 -2.2 0zM66.4 202.0a1.1 1.1 0 1 0 2.2 0a1.1 1.1 0 1 0 -2.2 0zM74.6 203.9a1.1 1.1 0 1 0 2.2 0a1.1 1.1 0 1 0 -2.2 0zM78.8 201.4a1.1 1.1 0 1 0 2.3 0a1.1 1.1 0 1 0 -2.3 0zM75.5 205.1a1.0 1.0 0 1 0 2.1 0a1.0 1.0 0 1 0 -2.1 0zM70.9 203.1a1.3 1.3 0 1 0 2.6 0a1.3 1.3 0 1 0 -2.6 0zM69.5 203.5a1.3 1.3 0 1 0 2.6 0a1.3 1.3 0 1 0 -2.6 0zM71.6 204.0a1.1 1.1 0 1 0 2.1 0a1.1 1.1 0 1 0 -2.1 0zM72.8 204.6a0.8 0.8 0 1 0 1.6 0a0.8 0.8 0 1 0 -1.6 0zM70.1 202.8a1.1 1.1 0 1 0 2.1 0a1.1 1.1 0 1 0 -2.1 0zM79.0 201.4a1.2 1.2 0 1 0 2.4 0a1.2 1.2 0 1 0 -2.4 0zM75.2 203.1a1.2 1.2 0 1 0 2.4 0a1.2 1.2 0 1 0 -2.4 0zM77.4 204.6a0.7 0.7 0 1 0 1.3 0a0.7 0.7 0 1 0 -1.3 0zM79.6 205.6a0.7 0.7 0 1 0 1.4 0a0.7 0.7 0 1 0 -1.4 0zM72.2 201.9a0.6 0.6 0 1 0 1.2 0a0.6 0.6 0 1 0 -1.2 0zM72.9 203.1a1.2 1.2 0 1 0 2.4 0a1.2 1.2 0 1 0 -2.4 0zM74.7 202.1a0.9 0.9 0 1 0 1.8 0a0.9 0.9 0 1 0 -1.8 0zM79.0 204.0a0.6 0.6 0 1 0 1.3 0a0.6 0.6 0 1 0 -1.3 0zM66.3 203.1a1.1 1.1 0 1 0 2.1 0a1.1 1.1 0 1 0 -2.1 0zM77.2 205.1a1.1 1.1 0 1 0 2.2 0a1.1 1.1 0 1 0 -2.2 0zM69.7 205.7a1.0 1.0 0 1 0 2.0 0a1.0 1.0 0 1 0 -2.0 0zM69.0 204.5a0.8 0.8 0 1 0 1.6 0a0.8 0.8 0 1 0 -1.6 0zM71.1 205.8a0.8 0.8 0 1 0 1.7 0a0.8 0.8 0 1 0 -1.7 0zM73.5 202.3a0.7 0.7 0 1 0 1.5 0a0.7 0.7 0 1 0 -1.5 0zM79.1 203.6a1.1 1.1 0 1 0 2.3 0a1.1 1.1 0 1 0 -2.3 0zM78.2 203.4a0.6 0.6 0 1 0 1.3 0a0.6 0.6 0 1 0 -1.3 0zM73.4 204.0a1.0 1.0 0 1 0 2.1 0a1.0 1.0 0 1 0 -2.1 0zM66.5 201.4a0.8 0.8 0 1 0 1.6 0a0.8 0.8 0 1 0 -1.6 0zM73.4 204.6a0.7 0.7 0 1 0 1.4 0a0.7 0.7 0 1 0 -1.4 0zM77.3 203.9a0.9 0.9 0 1 0 1.8 0a0.9 0.9 0 1 0 -1.8 0zM66.7 205.8a0.8 0.8 0 1 0 1.6 0a0.8 0.8 0 1 0 -1.6 0zM75.3 202.1a0.7 0.7 0 1 0 1.3 0a0.7 0.7 0 1 0 -1.3 0zM77.7 204.0a1.2 1.2 0 1 0 2.4 0a1.2 1.2 0 1 0 -2.4 0zM78.7 204.3a0.8 0.8 0 1 0 1.5 0a0.8 0.8 0 1 0 -1.5 0zM69.9 201.4a1.1 1.1 0 1 0 2.2 0a1.1 1.1 0 1 0 -2.2 0zM72.6 204.4a1.3 1.3 0 1 0 2.6 0a1.3 1.3 0 1 0 -2.6 0zM79.3 202.0a1.0 1.0 0 1 0 2.0 0a1.0 1.0 0 1 0 -2.0 0zM76.0 204.0a1.2 1.2 0 1 0 2.5 0a1.2 1.2 0 1 0 -2.5 0zM76.1 204.1a0.6 0.6 0 1 0 1.3 0a0.6 0.6 0 1 0 -1.3 0zM75.7 202.7a0.7 0.7 0 1 0 1.3 0a0.7 0.7 0 1 0 -1.3 0zM71.3 204.3a0.9 0.9 0 1 0 1.8 0a0.9 0.9 0 1 0 -1.8 0zM69.0 202.2a0.7 0.7 0 1 0 1.3 0a0.7 0.7 0 1 0 -1.3 0zM71.6 203.5a0.9 0.9 0 1 0 1.8 0a0.9 0.9 0 1 0 -1.8 0zM73.7 202.6a1.2 1.2 0 1 0 2.4 0a1.2 1.2 0 1 0 -2.4 0zM72.8 205.0a1.2 1.2 0 1 0 2.3 0a1.2 1.2 0 1 0 -2.3 0zM77.7 203.6a1.0 1.0 0 1 0 2.0 0a1.0 1.0 0 1 0 -2.0 0zM70.7 201.4a1.1 1.1 0 1 0 2.2 0a1.1 1.1 0 1 0 -2.2 0zM73.3 204.5a0.9 0.9 0 1 0 1.9 0a0.9 0.9 0 1 0 -1.9 0zM72.2 205.3a0.7 0.7 0 1 0 1.3 0a0.7 0.7 0 1 0 -1.3 0z" fill="#000" fill-opacity="0.72" filter="url(#b3)"/>
<path d="M61.3 200.9h0.6v0.6h-0.6zM65.3 203.8h0.6v0.6h-0.6zM71.6 201.4h0.6v0.6h-0.6zM66.5 201.6h0.6v0.6h-0.6zM65.9 203.2h0.6v0.6h-0.6zM61.3 197.3h0.6v0.6h-0.6zM63.1 203.6h0.6v0.6h-0.6zM64.4 204.2h0.6v0.6h-0.6zM65.2 200.0h0.6v0.6h-0.6zM60.7 203.6h0.6v0.6h-0.6zM61.4 202.3h0.6v0.6h-0.6zM67.3 206.0h0.6v0.6h-0.6zM57.7 199.7h0.6v0.6h-0.6zM64.2 202.1h0.6v0.6h-0.6zM62.1 204.8h0.6v0.6h-0.6zM61.9 203.4h0.6v0.6h-0.6zM67.9 200.5h0.6v0.6h-0.6zM65.0 200.6h0.6v0.6h-0.6zM70.8 200.8h0.6v0.6h-0.6zM67.1 199.3h0.6v0.6h-0.6zM63.9 205.7h0.6v0.6h-0.6zM70.7 204.9h0.6v0.6h-0.6zM49.1 204.7h0.6v0.6h-0.6zM61.7 206.1h0.6v0.6h-0.6zM71.4 198.3h0.6v0.6h-0.6zM63.4 198.0h0.6v0.6h-0.6zM66.4 202.4h0.6v0.6h-0.6zM61.7 202.8h0.6v0.6h-0.6zM57.7 197.7h0.6v0.6h-0.6zM60.3 203.3h0.6v0.6h-0.6zM61.4 203.0h0.6v0.6h-0.6zM61.1 203.7h0.6v0.6h-0.6zM55.3 205.8h0.6v0.6h-0.6zM62.4 198.3h0.6v0.6h-0.6zM58.0 204.1h0.6v0.6h-0.6zM71.0 205.0h0.6v0.6h-0.6zM58.6 202.3h0.6v0.6h-0.6zM66.3 205.7h0.6v0.6h-0.6zM65.2 203.9h0.6v0.6h-0.6zM67.4 204.7h0.6v0.6h-0.6zM68.9 207.1h0.6v0.6h-0.6zM55.6 200.1h0.6v0.6h-0.6zM60.3 202.9h0.6v0.6h-0.6zM57.0 201.5h0.6v0.6h-0.6zM62.0 202.8h0.6v0.6h-0.6zM64.6 206.0h0.6v0.6h-0.6zM69.4 198.2h0.6v0.6h-0.6zM59.9 202.3h0.6v0.6h-0.6zM68.9 204.4h0.6v0.6h-0.6zM53.7 206.6h0.6v0.6h-0.6zM63.9 205.1h0.6v0.6h-0.6zM64.2 203.5h0.6v0.6h-0.6zM66.4 198.5h0.6v0.6h-0.6zM63.5 203.8h0.6v0.6h-0.6zM59.8 202.5h0.6v0.6h-0.6zM55.0 199.6h0.6v0.6h-0.6zM62.9 201.3h0.6v0.6h-0.6zM59.9 202.1h0.6v0.6h-0.6zM63.2 201.4h0.6v0.6h-0.6zM67.9 200.5h0.6v0.6h-0.6zM66.4 201.9h0.6v0.6h-0.6zM69.1 202.4h0.6v0.6h-0.6zM62.7 207.1h0.6v0.6h-0.6zM62.1 204.6h0.6v0.6h-0.6zM69.4 204.3h0.6v0.6h-0.6zM63.1 204.6h0.6v0.6h-0.6zM63.4 202.0h0.6v0.6h-0.6zM63.1 201.3h0.6v0.6h-0.6zM55.7 208.0h0.6v0.6h-0.6zM67.3 199.1h0.6v0.6h-0.6zM69.5 203.0h0.6v0.6h-0.6zM69.2 202.0h0.6v0.6h-0.6zM59.3 202.3h0.6v0.6h-0.6zM58.5 205.7h0.6v0.6h-0.6zM63.1 207.1h0.6v0.6h-0.6zM68.0 200.3h0.6v0.6h-0.6zM63.2 204.0h0.6v0.6h-0.6zM59.6 205.5h0.6v0.6h-0.6zM66.4 200.7h0.6v0.6h-0.6zM56.5 203.0h0.6v0.6h-0.6zM56.2 202.1h0.6v0.6h-0.6zM57.3 202.2h0.6v0.6h-0.6zM63.2 204.7h0.6v0.6h-0.6zM53.7 205.4h0.6v0.6h-0.6zM66.8 202.7h0.6v0.6h-0.6zM57.8 202.0h0.6v0.6h-0.6zM60.1 203.9h0.6v0.6h-0.6zM63.5 202.3h0.6v0.6h-0.6zM63.5 205.5h0.6v0.6h-0.6zM63.9 205.0h0.6v0.6h-0.6zM68.1 204.9h0.6v0.6h-0.6zM66.2 206.7h0.6v0.6h-0.6zM57.6 201.3h0.6v0.6h-0.6zM56.4 203.8h0.6v0.6h-0.6zM61.5 206.2h0.6v0.6h-0.6zM61.7 201.7h0.6v0.6h-0.6zM62.3 200.0h0.6v0.6h-0.6zM69.6 202.8h0.6v0.6h-0.6zM55.2 202.1h0.6v0.6h-0.6zM61.9 205.8h0.6v0.6h-0.6zM55.9 205.1h0.6v0.6h-0.6zM62.4 201.8h0.6v0.6h-0.6zM76.0 201.3h0.6v0.6h-0.6zM47.2 203.6h0.6v0.6h-0.6zM59.6 201.6h0.6v0.6h-0.6zM63.8 203.7h0.6v0.6h-0.6zM56.6 201.2h0.6v0.6h-0.6zM56.7 200.4h0.6v0.6h-0.6zM55.7 205.1h0.6v0.6h-0.6zM57.6 201.2h0.6v0.6h-0.6zM56.2 202.2h0.6v0.6h-0.6zM61.1 203.0h0.6v0.6h-0.6zM59.6 199.8h0.6v0.6h-0.6zM51.6 206.4h0.6v0.6h-0.6zM60.1 203.6h0.6v0.6h-0.6zM58.5 203.2h0.6v0.6h-0.6zM68.1 208.1h0.6v0.6h-0.6zM66.3 207.1h0.6v0.6h-0.6zM65.8 206.1h0.6v0.6h-0.6zM65.1 203.4h0.6v0.6h-0.6zM63.3 203.2h0.6v0.6h-0.6zM73.4 202.6h0.6v0.6h-0.6zM56.5 204.6h0.6v0.6h-0.6zM60.2 203.8h0.6v0.6h-0.6zM59.8 205.6h0.6v0.6h-0.6zM64.6 202.5h0.6v0.6h-0.6zM57.7 202.7h0.6v0.6h-0.6zM55.0 201.9h0.6v0.6h-0.6zM59.6 202.1h0.6v0.6h-0.6zM69.2 202.4h0.6v0.6h-0.6zM62.2 206.6h0.6v0.6h-0.6zM64.0 202.8h0.6v0.6h-0.6zM59.7 201.0h0.6v0.6h-0.6zM62.3 204.9h0.6v0.6h-0.6zM63.6 206.2h0.6v0.6h-0.6zM57.3 205.1h0.6v0.6h-0.6zM62.1 207.0h0.6v0.6h-0.6zM54.6 204.2h0.6v0.6h-0.6zM64.2 201.6h0.6v0.6h-0.6zM69.0 202.9h0.6v0.6h-0.6zM61.1 205.1h0.6v0.6h-0.6zM61.8 200.7h0.6v0.6h-0.6zM61.5 201.6h0.6v0.6h-0.6zM65.4 201.8h0.6v0.6h-0.6zM66.5 201.4h0.6v0.6h-0.6zM57.9 205.4h0.6v0.6h-0.6zM57.0 202.9h0.6v0.6h-0.6zM52.1 201.0h0.6v0.6h-0.6zM62.9 202.3h0.6v0.6h-0.6zM63.8 203.4h0.6v0.6h-0.6zM71.4 205.0h0.6v0.6h-0.6zM62.8 204.0h0.6v0.6h-0.6zM65.5 206.1h0.6v0.6h-0.6zM63.5 203.0h0.6v0.6h-0.6zM63.4 203.8h0.6v0.6h-0.6zM66.9 204.1h0.6v0.6h-0.6zM50.4 203.8h0.6v0.6h-0.6zM57.4 199.3h0.6v0.6h-0.6zM54.1 200.3h0.6v0.6h-0.6zM61.4 201.7h0.6v0.6h-0.6zM59.2 205.5h0.6v0.6h-0.6zM71.4 207.2h0.6v0.6h-0.6zM59.8 203.6h0.6v0.6h-0.6zM54.3 203.6h0.6v0.6h-0.6zM62.1 206.8h0.6v0.6h-0.6zM66.0 204.5h0.6v0.6h-0.6zM65.2 206.2h0.6v0.6h-0.6zM61.7 201.7h0.6v0.6h-0.6zM60.6 200.2h0.6v0.6h-0.6zM63.1 194.8h0.6v0.6h-0.6zM57.5 204.3h0.6v0.6h-0.6zM63.9 204.4h0.6v0.6h-0.6zM61.6 202.4h0.6v0.6h-0.6zM65.0 203.6h0.6v0.6h-0.6zM59.9 202.9h0.6v0.6h-0.6zM62.3 207.8h0.6v0.6h-0.6zM60.4 203.9h0.6v0.6h-0.6zM56.3 195.8h0.6v0.6h-0.6zM59.2 201.4h0.6v0.6h-0.6zM55.7 202.4h0.6v0.6h-0.6zM67.4 199.5h0.6v0.6h-0.6zM63.1 207.9h0.6v0.6h-0.6zM65.0 204.2h0.6v0.6h-0.6zM59.9 203.3h0.6v0.6h-0.6zM59.4 202.6h0.6v0.6h-0.6zM67.8 202.4h0.6v0.6h-0.6zM67.6 197.7h0.6v0.6h-0.6zM55.2 204.7h0.6v0.6h-0.6zM58.2 203.5h0.6v0.6h-0.6zM68.0 206.1h0.6v0.6h-0.6zM69.5 201.5h0.6v0.6h-0.6zM60.6 206.3h0.6v0.6h-0.6zM60.0 205.4h0.6v0.6h-0.6zM63.1 203.1h0.6v0.6h-0.6zM57.3 203.8h0.6v0.6h-0.6zM67.7 206.8h0.6v0.6h-0.6zM62.9 206.0h0.6v0.6h-0.6zM63.1 206.9h0.6v0.6h-0.6zM56.4 205.1h0.6v0.6h-0.6zM55.5 205.5h0.6v0.6h-0.6zM60.9 203.0h0.6v0.6h-0.6zM59.3 203.5h0.6v0.6h-0.6zM55.2 203.9h0.6v0.6h-0.6zM66.8 206.4h0.6v0.6h-0.6zM65.5 204.6h0.6v0.6h-0.6zM63.7 203.8h0.6v0.6h-0.6zM73.4 199.7h0.6v0.6h-0.6zM62.5 203.7h0.6v0.6h-0.6zM62.3 199.6h0.6v0.6h-0.6zM70.9 204.7h0.6v0.6h-0.6zM66.2 204.2h0.6v0.6h-0.6zM64.5 199.0h0.6v0.6h-0.6zM63.6 206.5h0.6v0.6h-0.6zM65.0 200.0h0.6v0.6h-0.6zM60.0 203.1h0.6v0.6h-0.6zM65.8 204.1h0.6v0.6h-0.6zM56.6 202.9h0.6v0.6h-0.6zM56.4 204.3h0.6v0.6h-0.6zM56.6 201.9h0.6v0.6h-0.6zM55.2 206.0h0.6v0.6h-0.6zM53.3 202.3h0.6v0.6h-0.6zM72.0 203.0h0.6v0.6h-0.6zM64.0 199.5h0.6v0.6h-0.6zM59.6 202.8h0.6v0.6h-0.6zM68.6 205.7h0.6v0.6h-0.6zM63.1 207.0h0.6v0.6h-0.6zM56.8 202.3h0.6v0.6h-0.6zM59.8 204.2h0.6v0.6h-0.6zM60.5 207.2h0.6v0.6h-0.6zM66.2 201.9h0.6v0.6h-0.6zM61.0 206.0h0.6v0.6h-0.6zM56.9 205.0h0.6v0.6h-0.6zM63.3 199.0h0.6v0.6h-0.6zM65.8 199.5h0.6v0.6h-0.6zM68.2 202.9h0.6v0.6h-0.6zM56.4 204.6h0.6v0.6h-0.6zM59.5 207.9h0.6v0.6h-0.6zM57.7 205.0h0.6v0.6h-0.6zM58.5 203.1h0.6v0.6h-0.6zM66.9 203.5h0.6v0.6h-0.6zM51.3 204.4h0.6v0.6h-0.6zM69.8 207.7h0.6v0.6h-0.6zM71.4 202.6h0.6v0.6h-0.6zM62.8 203.9h0.6v0.6h-0.6zM64.3 202.7h0.6v0.6h-0.6zM58.9 199.1h0.6v0.6h-0.6zM64.5 202.0h0.6v0.6h-0.6zM60.9 203.4h0.6v0.6h-0.6zM58.9 205.5h0.6v0.6h-0.6zM64.6 201.4h0.6v0.6h-0.6zM61.7 202.2h0.6v0.6h-0.6zM62.9 204.3h0.6v0.6h-0.6zM57.4 201.7h0.6v0.6h-0.6zM61.8 200.8h0.6v0.6h-0.6zM70.1 201.8h0.6v0.6h-0.6zM54.1 201.2h0.6v0.6h-0.6z" fill="#000" fill-opacity="0.6" filter="url(#b3)"/>
<path d="M77.6 205.1h0.6v0.6h-0.6zM70.1 202.7h0.6v0.6h-0.6zM82.7 202.8h0.6v0.6h-0.6zM86.6 205.0h0.6v0.6h-0.6zM72.9 203.9h0.6v0.6h-0.6zM76.5 200.8h0.6v0.6h-0.6zM79.6 201.6h0.6v0.6h-0.6zM75.8 205.9h0.6v0.6h-0.6zM71.8 204.0h0.6v0.6h-0.6zM73.7 203.0h0.6v0.6h-0.6zM76.0 204.6h0.6v0.6h-0.6zM81.5 204.0h0.6v0.6h-0.6zM75.6 201.6h0.6v0.6h-0.6zM81.1 202.0h0.6v0.6h-0.6zM73.9 202.2h0.6v0.6h-0.6zM79.4 202.5h0.6v0.6h-0.6zM77.9 202.4h0.6v0.6h-0.6zM82.7 202.7h0.6v0.6h-0.6zM79.2 206.5h0.6v0.6h-0.6zM78.5 205.2h0.6v0.6h-0.6zM73.0 204.8h0.6v0.6h-0.6zM74.2 204.5h0.6v0.6h-0.6zM74.4 204.1h0.6v0.6h-0.6zM77.2 201.8h0.6v0.6h-0.6zM74.9 201.5h0.6v0.6h-0.6zM85.3 202.9h0.6v0.6h-0.6zM73.6 199.9h0.6v0.6h-0.6zM85.1 201.2h0.6v0.6h-0.6zM70.7 205.0h0.6v0.6h-0.6zM80.0 204.4h0.6v0.6h-0.6zM73.0 206.1h0.6v0.6h-0.6zM83.7 203.8h0.6v0.6h-0.6zM80.3 204.5h0.6v0.6h-0.6zM67.2 204.0h0.6v0.6h-0.6zM74.2 202.8h0.6v0.6h-0.6zM74.3 202.3h0.6v0.6h-0.6zM72.5 202.2h0.6v0.6h-0.6zM80.8 203.0h0.6v0.6h-0.6zM75.5 205.3h0.6v0.6h-0.6zM80.1 203.1h0.6v0.6h-0.6zM76.3 206.1h0.6v0.6h-0.6zM70.7 199.4h0.6v0.6h-0.6zM79.6 204.5h0.6v0.6h-0.6zM75.1 201.3h0.6v0.6h-0.6zM73.5 200.8h0.6v0.6h-0.6zM77.2 204.0h0.6v0.6h-0.6zM77.7 205.1h0.6v0.6h-0.6zM77.6 205.1h0.6v0.6h-0.6zM76.8 203.9h0.6v0.6h-0.6zM68.3 203.1h0.6v0.6h-0.6zM77.1 204.3h0.6v0.6h-0.6zM75.7 202.8h0.6v0.6h-0.6zM79.4 205.4h0.6v0.6h-0.6zM73.6 207.0h0.6v0.6h-0.6zM70.4 203.5h0.6v0.6h-0.6zM75.2 203.9h0.6v0.6h-0.6zM78.0 201.8h0.6v0.6h-0.6zM77.0 202.8h0.6v0.6h-0.6zM70.8 204.6h0.6v0.6h-0.6zM77.0 204.2h0.6v0.6h-0.6zM86.0 201.7h0.6v0.6h-0.6zM81.8 203.6h0.6v0.6h-0.6zM75.3 200.9h0.6v0.6h-0.6zM73.2 203.8h0.6v0.6h-0.6zM72.9 201.9h0.6v0.6h-0.6zM75.4 203.1h0.6v0.6h-0.6zM75.4 204.5h0.6v0.6h-0.6zM76.4 201.3h0.6v0.6h-0.6zM74.2 207.0h0.6v0.6h-0.6zM72.2 203.4h0.6v0.6h-0.6zM75.8 203.7h0.6v0.6h-0.6zM77.2 203.8h0.6v0.6h-0.6zM85.2 202.6h0.6v0.6h-0.6zM65.5 202.3h0.6v0.6h-0.6zM69.3 202.9h0.6v0.6h-0.6zM79.9 204.9h0.6v0.6h-0.6zM72.4 202.3h0.6v0.6h-0.6zM73.6 202.1h0.6v0.6h-0.6zM74.2 202.5h0.6v0.6h-0.6zM71.1 203.7h0.6v0.6h-0.6zM74.5 203.5h0.6v0.6h-0.6zM76.3 206.8h0.6v0.6h-0.6zM78.6 205.6h0.6v0.6h-0.6zM82.3 203.5h0.6v0.6h-0.6zM75.2 200.2h0.6v0.6h-0.6zM80.5 203.2h0.6v0.6h-0.6zM69.9 205.6h0.6v0.6h-0.6zM81.1 204.0h0.6v0.6h-0.6zM75.2 206.1h0.6v0.6h-0.6zM75.0 199.6h0.6v0.6h-0.6zM69.0 203.5h0.6v0.6h-0.6zM81.9 205.0h0.6v0.6h-0.6zM81.7 202.4h0.6v0.6h-0.6zM70.5 203.7h0.6v0.6h-0.6zM73.5 204.3h0.6v0.6h-0.6zM78.7 207.0h0.6v0.6h-0.6zM74.7 203.5h0.6v0.6h-0.6zM69.5 201.1h0.6v0.6h-0.6zM74.3 202.6h0.6v0.6h-0.6zM78.8 203.2h0.6v0.6h-0.6zM70.9 203.5h0.6v0.6h-0.6zM77.8 205.0h0.6v0.6h-0.6zM77.1 204.7h0.6v0.6h-0.6zM82.4 204.3h0.6v0.6h-0.6zM74.2 202.3h0.6v0.6h-0.6zM80.6 203.0h0.6v0.6h-0.6zM65.9 204.8h0.6v0.6h-0.6zM72.9 201.8h0.6v0.6h-0.6zM75.9 200.3h0.6v0.6h-0.6zM75.4 204.3h0.6v0.6h-0.6zM75.1 200.3h0.6v0.6h-0.6zM74.1 203.0h0.6v0.6h-0.6zM75.9 202.4h0.6v0.6h-0.6zM77.9 200.9h0.6v0.6h-0.6zM74.8 203.0h0.6v0.6h-0.6zM71.1 206.0h0.6v0.6h-0.6zM77.0 204.0h0.6v0.6h-0.6zM68.3 205.6h0.6v0.6h-0.6zM73.7 202.5h0.6v0.6h-0.6zM83.6 205.5h0.6v0.6h-0.6zM79.9 201.0h0.6v0.6h-0.6zM78.1 206.8h0.6v0.6h-0.6zM78.8 203.7h0.6v0.6h-0.6zM78.7 203.9h0.6v0.6h-0.6zM75.2 200.2h0.6v0.6h-0.6zM75.8 204.4h0.6v0.6h-0.6zM83.4 199.4h0.6v0.6h-0.6zM81.0 202.2h0.6v0.6h-0.6zM82.5 205.3h0.6v0.6h-0.6zM70.9 200.6h0.6v0.6h-0.6zM76.3 201.2h0.6v0.6h-0.6zM81.1 203.3h0.6v0.6h-0.6zM69.8 204.5h0.6v0.6h-0.6zM77.5 201.0h0.6v0.6h-0.6zM79.4 203.0h0.6v0.6h-0.6zM83.5 201.1h0.6v0.6h-0.6zM75.4 204.0h0.6v0.6h-0.6zM70.9 201.9h0.6v0.6h-0.6zM81.7 203.0h0.6v0.6h-0.6zM74.7 200.3h0.6v0.6h-0.6zM79.3 206.2h0.6v0.6h-0.6zM73.0 204.1h0.6v0.6h-0.6zM75.3 205.5h0.6v0.6h-0.6zM75.4 201.1h0.6v0.6h-0.6zM75.3 204.2h0.6v0.6h-0.6zM77.8 200.3h0.6v0.6h-0.6zM80.2 200.6h0.6v0.6h-0.6zM79.4 204.2h0.6v0.6h-0.6zM72.2 204.0h0.6v0.6h-0.6zM77.4 202.4h0.6v0.6h-0.6zM81.0 203.8h0.6v0.6h-0.6zM77.1 203.8h0.6v0.6h-0.6zM71.1 201.9h0.6v0.6h-0.6zM74.3 203.4h0.6v0.6h-0.6zM70.8 202.7h0.6v0.6h-0.6zM74.9 204.9h0.6v0.6h-0.6zM78.9 205.5h0.6v0.6h-0.6zM71.9 205.6h0.6v0.6h-0.6zM74.3 202.2h0.6v0.6h-0.6zM73.2 202.6h0.6v0.6h-0.6zM75.9 202.2h0.6v0.6h-0.6zM69.8 201.8h0.6v0.6h-0.6zM77.7 201.3h0.6v0.6h-0.6zM87.5 200.5h0.6v0.6h-0.6zM77.1 201.8h0.6v0.6h-0.6zM75.3 206.4h0.6v0.6h-0.6zM78.0 204.5h0.6v0.6h-0.6zM81.5 205.2h0.6v0.6h-0.6zM68.1 206.5h0.6v0.6h-0.6zM78.0 201.3h0.6v0.6h-0.6zM73.8 205.1h0.6v0.6h-0.6zM78.1 203.9h0.6v0.6h-0.6zM78.7 202.4h0.6v0.6h-0.6zM88.9 203.9h0.6v0.6h-0.6zM70.2 206.0h0.6v0.6h-0.6zM64.4 205.1h0.6v0.6h-0.6zM80.6 204.7h0.6v0.6h-0.6zM75.4 203.2h0.6v0.6h-0.6zM79.6 202.7h0.6v0.6h-0.6zM75.2 202.9h0.6v0.6h-0.6zM77.7 204.0h0.6v0.6h-0.6zM78.6 199.0h0.6v0.6h-0.6zM80.9 202.4h0.6v0.6h-0.6zM82.7 205.5h0.6v0.6h-0.6zM68.0 203.4h0.6v0.6h-0.6zM72.0 201.7h0.6v0.6h-0.6zM77.2 204.6h0.6v0.6h-0.6zM80.3 204.6h0.6v0.6h-0.6zM83.4 204.6h0.6v0.6h-0.6zM77.6 204.2h0.6v0.6h-0.6zM78.9 202.9h0.6v0.6h-0.6zM71.0 202.1h0.6v0.6h-0.6zM72.6 204.7h0.6v0.6h-0.6zM80.5 206.0h0.6v0.6h-0.6zM71.7 205.6h0.6v0.6h-0.6zM76.8 202.9h0.6v0.6h-0.6zM72.2 204.5h0.6v0.6h-0.6zM81.8 202.4h0.6v0.6h-0.6zM77.7 205.7h0.6v0.6h-0.6zM81.5 203.8h0.6v0.6h-0.6zM78.3 204.1h0.6v0.6h-0.6zM70.3 203.5h0.6v0.6h-0.6zM77.4 206.2h0.6v0.6h-0.6zM73.3 206.5h0.6v0.6h-0.6zM84.4 204.8h0.6v0.6h-0.6zM73.3 204.0h0.6v0.6h-0.6zM74.4 206.3h0.6v0.6h-0.6zM84.4 206.1h0.6v0.6h-0.6zM76.9 205.6h0.6v0.6h-0.6zM80.6 204.6h0.6v0.6h-0.6zM78.9 203.3h0.6v0.6h-0.6zM78.5 205.9h0.6v0.6h-0.6zM74.4 202.7h0.6v0.6h-0.6zM77.2 206.3h0.6v0.6h-0.6zM76.1 204.1h0.6v0.6h-0.6zM72.8 199.8h0.6v0.6h-0.6zM79.1 199.9h0.6v0.6h-0.6zM76.9 205.3h0.6v0.6h-0.6zM70.9 202.0h0.6v0.6h-0.6zM71.9 201.8h0.6v0.6h-0.6zM76.3 205.1h0.6v0.6h-0.6zM77.4 203.9h0.6v0.6h-0.6zM74.3 203.2h0.6v0.6h-0.6zM84.3 200.1h0.6v0.6h-0.6zM83.3 207.7h0.6v0.6h-0.6zM75.6 203.4h0.6v0.6h-0.6zM72.8 204.9h0.6v0.6h-0.6zM75.4 204.3h0.6v0.6h-0.6zM76.0 204.0h0.6v0.6h-0.6zM71.0 204.3h0.6v0.6h-0.6zM80.1 202.1h0.6v0.6h-0.6zM77.4 201.8h0.6v0.6h-0.6zM76.1 200.1h0.6v0.6h-0.6zM71.5 206.2h0.6v0.6h-0.6zM74.3 204.6h0.6v0.6h-0.6zM74.0 204.1h0.6v0.6h-0.6zM75.3 202.1h0.6v0.6h-0.6zM67.6 203.7h0.6v0.6h-0.6zM67.8 201.1h0.6v0.6h-0.6zM74.9 200.6h0.6v0.6h-0.6zM75.6 200.5h0.6v0.6h-0.6zM81.4 202.3h0.6v0.6h-0.6zM72.9 201.5h0.6v0.6h-0.6zM65.3 202.6h0.6v0.6h-0.6zM75.1 204.8h0.6v0.6h-0.6zM72.0 203.6h0.6v0.6h-0.6zM74.5 200.8h0.6v0.6h-0.6zM79.1 203.6h0.6v0.6h-0.6zM72.6 202.2h0.6v0.6h-0.6zM73.8 201.6h0.6v0.6h-0.6zM81.4 205.6h0.6v0.6h-0.6zM78.0 203.5h0.6v0.6h-0.6zM71.3 201.8h0.6v0.6h-0.6zM71.9 202.1h0.6v0.6h-0.6zM62.1 203.3h0.6v0.6h-0.6zM79.4 202.1h0.6v0.6h-0.6zM78.6 200.9h0.6v0.6h-0.6zM81.5 197.0h0.6v0.6h-0.6zM78.9 204.2h0.6v0.6h-0.6zM77.0 207.3h0.6v0.6h-0.6zM78.9 202.9h0.6v0.6h-0.6zM66.4 204.0h0.6v0.6h-0.6zM74.9 201.0h0.6v0.6h-0.6zM84.2 200.8h0.6v0.6h-0.6zM86.1 206.4h0.6v0.6h-0.6zM74.4 206.3h0.6v0.6h-0.6zM76.1 201.9h0.6v0.6h-0.6zM72.5 207.7h0.6v0.6h-0.6zM79.2 198.3h0.6v0.6h-0.6zM81.4 205.2h0.6v0.6h-0.6zM75.2 198.6h0.6v0.6h-0.6zM75.4 202.0h0.6v0.6h-0.6zM78.3 204.3h0.6v0.6h-0.6zM75.7 206.2h0.6v0.6h-0.6zM74.8 204.6h0.6v0.6h-0.6zM82.0 205.2h0.6v0.6h-0.6zM76.9 202.7h0.6v0.6h-0.6zM63.2 203.1h0.6v0.6h-0.6zM72.3 205.5h0.6v0.6h-0.6zM76.4 203.2h0.6v0.6h-0.6zM81.5 201.1h0.6v0.6h-0.6zM75.6 201.8h0.6v0.6h-0.6zM65.1 203.8h0.6v0.6h-0.6zM77.8 203.9h0.6v0.6h-0.6zM68.8 199.8h0.6v0.6h-0.6zM77.8 204.6h0.6v0.6h-0.6zM68.1 204.5h0.6v0.6h-0.6zM69.8 202.5h0.6v0.6h-0.6zM78.9 204.0h0.6v0.6h-0.6zM69.7 202.0h0.6v0.6h-0.6zM77.7 204.1h0.6v0.6h-0.6zM74.1 205.5h0.6v0.6h-0.6zM74.6 204.7h0.6v0.6h-0.6zM81.9 204.9h0.6v0.6h-0.6zM82.2 202.8h0.6v0.6h-0.6zM78.1 203.1h0.6v0.6h-0.6zM72.7 202.3h0.6v0.6h-0.6z" fill="#000" fill-opacity="0.6" filter="url(#b3)"/>
<path d="M85.6 202.0h0.6v0.6h-0.6zM77.3 201.4h0.6v0.6h-0.6zM84.8 203.7h0.6v0.6h-0.6zM81.7 204.3h0.6v0.6h-0.6zM80.7 203.5h0.6v0.6h-0.6zM82.0 202.4h0.6v0.6h-0.6zM90.1 204.2h0.6v0.6h-0.6zM84.9 205.0h0.6v0.6h-0.6zM81.8 203.9h0.6v0.6h-0.6zM83.8 201.2h0.6v0.6h-0.6zM86.5 205.7h0.6v0.6h-0.6zM85.9 205.6h0.6v0.6h-0.6zM85.3 204.8h0.6v0.6h-0.6zM78.9 204.7h0.6v0.6h-0.6zM78.6 200.6h0.6v0.6h-0.6zM81.4 205.4h0.6v0.6h-0.6zM84.4 206.8h0.6v0.6h-0.6zM81.4 204.9h0.6v0.6h-0.6zM84.3 205.8h0.6v0.6h-0.6zM84.9 202.3h0.6v0.6h-0.6zM84.5 202.1h0.6v0.6h-0.6zM80.7 203.3h0.6v0.6h-0.6zM78.4 205.6h0.6v0.6h-0.6zM86.2 205.0h0.6v0.6h-0.6zM82.9 205.5h0.6v0.6h-0.6zM81.8 205.0h0.6v0.6h-0.6zM82.1 203.8h0.6v0.6h-0.6zM83.2 205.4h0.6v0.6h-0.6zM85.7 207.1h0.6v0.6h-0.6zM80.2 200.5h0.6v0.6h-0.6zM84.5 204.9h0.6v0.6h-0.6zM81.4 206.0h0.6v0.6h-0.6zM86.2 201.1h0.6v0.6h-0.6zM83.4 203.7h0.6v0.6h-0.6zM86.0 204.3h0.6v0.6h-0.6zM82.7 204.1h0.6v0.6h-0.6zM82.0 204.8h0.6v0.6h-0.6zM84.6 203.1h0.6v0.6h-0.6zM82.1 205.0h0.6v0.6h-0.6zM84.0 203.3h0.6v0.6h-0.6zM80.8 204.5h0.6v0.6h-0.6zM81.8 201.1h0.6v0.6h-0.6zM77.3 207.9h0.6v0.6h-0.6zM87.7 203.4h0.6v0.6h-0.6zM83.2 204.6h0.6v0.6h-0.6zM79.2 203.4h0.6v0.6h-0.6zM90.9 199.1h0.6v0.6h-0.6zM84.0 202.8h0.6v0.6h-0.6zM87.7 203.8h0.6v0.6h-0.6zM85.3 204.3h0.6v0.6h-0.6zM88.9 203.2h0.6v0.6h-0.6zM82.7 201.4h0.6v0.6h-0.6zM90.9 204.6h0.6v0.6h-0.6zM81.3 207.0h0.6v0.6h-0.6zM79.2 203.5h0.6v0.6h-0.6zM75.5 203.3h0.6v0.6h-0.6zM84.7 202.4h0.6v0.6h-0.6zM84.3 203.1h0.6v0.6h-0.6zM81.3 205.3h0.6v0.6h-0.6z" fill="#000" fill-opacity="0.45" filter="url(#b3)"/>
</g>
<rect x="53.5" y="174.5" width="56.0" height="46.0" fill="none" stroke="#707070" stroke-width="0.8"/>
<line x1="68.5" y1="174.5" x2="68.5" y2="220.5" stroke="#8a8a8a" stroke-width="1"/>
<line x1="53.5" y1="208.4" x2="109.5" y2="208.4" stroke="#999" stroke-width="1.2"/>
<path d="M51.5 220.5H53.5M53.5 220.5V222.0M52.6 217.0H53.5M52.6 215.0H53.5M52.6 213.6H53.5M52.6 212.5H53.5M52.6 211.6H53.5M52.6 210.8H53.5M52.6 210.1H53.5M52.6 209.5H53.5M51.5 209.0H53.5M67.5 220.5V222.0M52.6 205.5H53.5M52.6 203.5H53.5M52.6 202.1H53.5M52.6 201.0H53.5M52.6 200.1H53.5M52.6 199.3H53.5M52.6 198.6H53.5M52.6 198.0H53.5M51.5 197.5H53.5M81.5 220.5V222.0M52.6 194.0H53.5M52.6 192.0H53.5M52.6 190.6H53.5M52.6 189.5H53.5M52.6 188.6H53.5M52.6 187.8H53.5M52.6 187.1H53.5M52.6 186.5H53.5M51.5 186.0H53.5M95.5 220.5V222.0M52.6 182.5H53.5M52.6 180.5H53.5M52.6 179.1H53.5M52.6 178.0H53.5M52.6 177.1H53.5M52.6 176.3H53.5M52.6 175.6H53.5M52.6 175.0H53.5M51.5 174.5H53.5M109.5 220.5V222.0" stroke="#555" stroke-width="0.5" fill="none"/>
<clipPath id="cb2"><rect x="130.5" y="174.5" width="56.0" height="46.0"/></clipPath>
<g clip-path="url(#cb2)">
<ellipse cx="144" cy="202.8" rx="11" ry="4.2" fill="#000" fill-opacity="0.4" filter="url(#b2)"/>
<ellipse cx="139.5" cy="203.1" rx="6.3" ry="4.3" fill="#000" fill-opacity="1.0" filter="url(#b1)"/>
<path d="M141.8 203.6a0.8 0.8 0 1 0 1.6 0a0.8 0.8 0 1 0 -1.6 0zM143.8 202.3a1.2 1.2 0 1 0 2.4 0a1.2 1.2 0 1 0 -2.4 0zM140.4 203.6a1.4 1.4 0 1 0 2.8 0a1.4 1.4 0 1 0 -2.8 0zM138.0 203.9a1.1 1.1 0 1 0 2.3 0a1.1 1.1 0 1 0 -2.3 0zM136.9 202.5a1.1 1.1 0 1 0 2.2 0a1.1 1.1 0 1 0 -2.2 0zM133.4 201.8a1.1 1.1 0 1 0 2.3 0a1.1 1.1 0 1 0 -2.3 0zM140.6 202.9a1.4 1.4 0 1 0 2.8 0a1.4 1.4 0 1 0 -2.8 0zM143.7 205.1a1.2 1.2 0 1 0 2.5 0a1.2 1.2 0 1 0 -2.5 0zM140.7 206.2a1.5 1.5 0 1 0 3.0 0a1.5 1.5 0 1 0 -3.0 0zM142.5 206.0a1.6 1.6 0 1 0 3.1 0a1.6 1.6 0 1 0 -3.1 0zM134.6 205.8a1.4 1.4 0 1 0 2.8 0a1.4 1.4 0 1 0 -2.8 0zM135.6 202.2a1.1 1.1 0 1 0 2.1 0a1.1 1.1 0 1 0 -2.1 0zM140.2 199.8a1.6 1.6 0 1 0 3.1 0a1.6 1.6 0 1 0 -3.1 0zM141.9 204.1a1.4 1.4 0 1 0 2.7 0a1.4 1.4 0 1 0 -2.7 0zM138.1 203.4a1.5 1.5 0 1 0 3.0 0a1.5 1.5 0 1 0 -3.0 0zM139.4 199.9a1.1 1.1 0 1 0 2.1 0a1.1 1.1 0 1 0 -2.1 0zM133.2 204.4a0.9 0.9 0 1 0 1.7 0a0.9 0.9 0 1 0 -1.7 0zM137.5 199.9a1.2 1.2 0 1 0 2.3 0a1.2 1.2 0 1 0 -2.3 0zM142.3 202.2a1.5 1.5 0 1 0 3.0 0a1.5 1.5 0 1 0 -3.0 0zM139.6 204.9a1.0 1.0 0 1 0 2.1 0a1.0 1.0 0 1 0 -2.1 0zM132.5 203.0a1.6 1.6 0 1 0 3.2 0a1.6 1.6 0 1 0 -3.2 0zM143.2 200.9a1.6 1.6 0 1 0 3.2 0a1.6 1.6 0 1 0 -3.2 0zM138.1 199.8a0.9 0.9 0 1 0 1.7 0a0.9 0.9 0 1 0 -1.7 0zM135.5 204.3a0.9 0.9 0 1 0 1.8 0a0.9 0.9 0 1 0 -1.8 0zM141.0 201.9a1.0 1.0 0 1 0 2.0 0a1.0 1.0 0 1 0 -2.0 0zM141.9 204.2a1.1 1.1 0 1 0 2.1 0a1.1 1.1 0 1 0 -2.1 0zM142.7 202.1a1.1 1.1 0 1 0 2.3 0a1.1 1.1 0 1 0 -2.3 0zM138.7 203.5a1.4 1.4 0 1 0 2.7 0a1.4 1.4 0 1 0 -2.7 0zM135.4 201.5a1.2 1.2 0 1 0 2.4 0a1.2 1.2 0 1 0 -2.4 0zM133.2 205.3a0.8 0.8 0 1 0 1.7 0a0.8 0.8 0 1 0 -1.7 0zM139.1 206.2a1.1 1.1 0 1 0 2.1 0a1.1 1.1 0 1 0 -2.1 0zM136.8 204.9a1.0 1.0 0 1 0 2.1 0a1.0 1.0 0 1 0 -2.1 0zM138.3 202.1a1.2 1.2 0 1 0 2.5 0a1.2 1.2 0 1 0 -2.5 0zM137.5 201.2a1.4 1.4 0 1 0 2.8 0a1.4 1.4 0 1 0 -2.8 0zM135.9 205.2a0.9 0.9 0 1 0 1.8 0a0.9 0.9 0 1 0 -1.8 0zM136.5 205.3a1.3 1.3 0 1 0 2.6 0a1.3 1.3 0 1 0 -2.6 0zM137.4 203.1a1.2 1.2 0 1 0 2.5 0a1.2 1.2 0 1 0 -2.5 0zM140.2 201.8a1.0 1.0 0 1 0 1.9 0a1.0 1.0 0 1 0 -1.9 0zM136.9 202.0a0.9 0.9 0 1 0 1.8 0a0.9 0.9 0 1 0 -1.8 0zM142.0 204.3a1.5 1.5 0 1 0 3.0 0a1.5 1.5 0 1 0 -3.0 0zM138.6 200.4a1.5 1.5 0 1 0 3.0 0a1.5 1.5 0 1 0 -3.0 0zM139.9 201.7a1.1 1.1 0 1 0 2.2 0a1.1 1.1 0 1 0 -2.2 0zM143.6 202.2a1.3 1.3 0 1 0 2.6 0a1.3 1.3 0 1 0 -2.6 0zM136.6 201.7a0.9 0.9 0 1 0 1.7 0a0.9 0.9 0 1 0 -1.7 0zM137.1 204.3a1.3 1.3 0 1 0 2.6 0a1.3 1.3 0 1 0 -2.6 0z" fill="#000" fill-opacity="1.0" filter="url(#b3)"/>
<path d="M145.4 200.7a1.0 1.0 0 1 0 2.1 0a1.0 1.0 0 1 0 -2.1 0zM151.2 202.5a0.6 0.6 0 1 0 1.1 0a0.6 0.6 0 1 0 -1.1 0zM143.1 204.9a0.8 0.8 0 1 0 1.6 0a0.8 0.8 0 1 0 -1.6 0zM149.3 201.6a0.7 0.7 0 1 0 1.4 0a0.7 0.7 0 1 0 -1.4 0zM149.3 201.3a0.9 0.9 0 1 0 1.9 0a0.9 0.9 0 1 0 -1.9 0zM144.5 201.2a0.5 0.5 0 1 0 1.0 0a0.5 0.5 0 1 0 -1.0 0zM142.5 204.9a0.7 0.7 0 1 0 1.5 0a0.7 0.7 0 1 0 -1.5 0zM146.0 204.9a0.9 0.9 0 1 0 1.7 0a0.9 0.9 0 1 0 -1.7 0zM147.1 200.9a0.9 0.9 0 1 0 1.7 0a0.9 0.9 0 1 0 -1.7 0zM146.4 203.3a0.7 0.7 0 1 0 1.3 0a0.7 0.7 0 1 0 -1.3 0zM149.5 204.8a0.6 0.6 0 1 0 1.1 0a0.6 0.6 0 1 0 -1.1 0zM151.4 203.7a1.1 1.1 0 1 0 2.2 0a1.1 1.1 0 1 0 -2.2 0zM149.4 200.3a0.9 0.9 0 1 0 1.9 0a0.9 0.9 0 1 0 -1.9 0zM150.0 204.2a0.5 0.5 0 1 0 1.0 0a0.5 0.5 0 1 0 -1.0 0zM147.8 202.5a0.6 0.6 0 1 0 1.1 0a0.6 0.6 0 1 0 -1.1 0zM150.9 203.5a0.8 0.8 0 1 0 1.6 0a0.8 0.8 0 1 0 -1.6 0zM149.0 203.1a0.6 0.6 0 1 0 1.1 0a0.6 0.6 0 1 0 -1.1 0zM154.4 201.2a1.0 1.0 0 1 0 2.1 0a1.0 1.0 0 1 0 -2.1 0zM149.9 203.3a1.0 1.0 0 1 0 2.1 0a1.0 1.0 0 1 0 -2.1 0zM150.4 202.6a0.9 0.9 0 1 0 1.8 0a0.9 0.9 0 1 0 -1.8 0zM154.4 201.7a1.0 1.0 0 1 0 2.0 0a1.0 1.0 0 1 0 -2.0 0zM145.8 204.7a1.1 1.1 0 1 0 2.1 0a1.1 1.1 0 1 0 -2.1 0zM154.5 200.2a1.0 1.0 0 1 0 1.9 0a1.0 1.0 0 1 0 -1.9 0zM149.8 200.2a0.8 0.8 0 1 0 1.5 0a0.8 0.8 0 1 0 -1.5 0zM142.3 201.0a0.8 0.8 0 1 0 1.7 0a0.8 0.8 0 1 0 -1.7 0zM152.1 202.8a1.0 1.0 0 1 0 2.0 0a1.0 1.0 0 1 0 -2.0 0zM147.2 200.8a1.1 1.1 0 1 0 2.1 0a1.1 1.1 0 1 0 -2.1 0zM148.5 201.4a0.9 0.9 0 1 0 1.8 0a0.9 0.9 0 1 0 -1.8 0zM148.5 202.4a1.1 1.1 0 1 0 2.1 0a1.1 1.1 0 1 0 -2.1 0zM142.7 203.7a0.5 0.5 0 1 0 1.0 0a0.5 0.5 0 1 0 -1.0 0zM147.4 203.7a0.6 0.6 0 1 0 1.3 0a0.6 0.6 0 1 0 -1.3 0zM144.9 200.3a0.9 0.9 0 1 0 1.8 0a0.9 0.9 0 1 0 -1.8 0zM150.1 202.1a0.7 0.7 0 1 0 1.3 0a0.7 0.7 0 1 0 -1.3 0zM143.2 204.0a0.9 0.9 0 1 0 1.9 0a0.9 0.9 0 1 0 -1.9 0zM154.6 202.3a0.8 0.8 0 1 0 1.6 0a0.8 0.8 0 1 0 -1.6 0zM148.1 200.1a0.8 0.8 0 1 0 1.6 0a0.8 0.8 0 1 0 -1.6 0zM145.3 200.1a1.0 1.0 0 1 0 2.0 0a1.0 1.0 0 1 0 -2.0 0zM148.9 202.8a0.9 0.9 0 1 0 1.8 0a0.9 0.9 0 1 0 -1.8 0zM149.2 201.6a1.0 1.0 0 1 0 2.0 0a1.0 1.0 0 1 0 -2.0 0zM148.8 201.6a0.6 0.6 0 1 0 1.2 0a0.6 0.6 0 1 0 -1.2 0zM146.0 200.7a0.6 0.6 0 1 0 1.2 0a0.6 0.6 0 1 0 -1.2 0zM150.4 201.9a1.0 1.0 0 1 0 2.0 0a1.0 1.0 0 1 0 -2.0 0zM150.1 202.2a0.9 0.9 0 1 0 1.8 0a0.9 0.9 0 1 0 -1.8 0zM142.4 201.5a0.8 0.8 0 1 0 1.5 0a0.8 0.8 0 1 0 -1.5 0z" fill="#000" fill-opacity="0.7" filter="url(#b3)"/>
<path d="M137.1 204.0h0.6v0.6h-0.6zM142.3 201.1h0.6v0.6h-0.6zM141.0 202.6h0.6v0.6h-0.6zM140.7 202.7h0.6v0.6h-0.6zM138.1 196.7h0.6v0.6h-0.6zM137.3 206.1h0.6v0.6h-0.6zM138.6 203.5h0.6v0.6h-0.6zM142.8 200.4h0.6v0.6h-0.6zM140.4 202.3h0.6v0.6h-0.6zM141.7 204.6h0.6v0.6h-0.6zM140.4 202.5h0.6v0.6h-0.6zM144.4 203.4h0.6v0.6h-0.6zM133.3 206.3h0.6v0.6h-0.6zM142.2 201.5h0.6v0.6h-0.6zM139.8 200.6h0.6v0.6h-0.6zM140.7 199.2h0.6v0.6h-0.6zM144.7 204.3h0.6v0.6h-0.6zM135.5 204.3h0.6v0.6h-0.6zM133.4 201.6h0.6v0.6h-0.6zM135.4 204.8h0.6v0.6h-0.6zM143.2 199.5h0.6v0.6h-0.6zM140.9 204.3h0.6v0.6h-0.6zM132.8 206.5h0.6v0.6h-0.6zM147.0 202.1h0.6v0.6h-0.6zM134.8 206.2h0.6v0.6h-0.6zM128.6 202.9h0.6v0.6h-0.6zM133.5 203.0h0.6v0.6h-0.6zM137.4 199.6h0.6v0.6h-0.6zM142.6 206.0h0.6v0.6h-0.6zM133.7 204.7h0.6v0.6h-0.6zM140.5 201.3h0.6v0.6h-0.6zM137.6 204.5h0.6v0.6h-0.6zM145.2 202.3h0.6v0.6h-0.6zM128.7 205.1h0.6v0.6h-0.6zM141.9 198.0h0.6v0.6h-0.6zM137.6 203.0h0.6v0.6h-0.6zM138.7 203.8h0.6v0.6h-0.6zM135.9 204.7h0.6v0.6h-0.6zM127.4 203.9h0.6v0.6h-0.6zM137.3 202.7h0.6v0.6h-0.6zM143.0 206.5h0.6v0.6h-0.6zM135.3 202.7h0.6v0.6h-0.6zM135.3 203.1h0.6v0.6h-0.6zM137.3 199.9h0.6v0.6h-0.6zM145.1 203.9h0.6v0.6h-0.6zM140.0 206.4h0.6v0.6h-0.6zM132.4 204.0h0.6v0.6h-0.6zM147.4 202.1h0.6v0.6h-0.6zM136.0 200.9h0.6v0.6h-0.6zM145.6 205.7h0.6v0.6h-0.6zM141.5 205.4h0.6v0.6h-0.6zM136.9 202.0h0.6v0.6h-0.6zM143.8 200.5h0.6v0.6h-0.6zM141.0 202.9h0.6v0.6h-0.6zM136.0 203.5h0.6v0.6h-0.6zM134.1 201.3h0.6v0.6h-0.6zM130.8 199.7h0.6v0.6h-0.6zM135.9 203.9h0.6v0.6h-0.6zM140.0 199.7h0.6v0.6h-0.6zM140.3 204.0h0.6v0.6h-0.6zM130.2 201.6h0.6v0.6h-0.6zM145.2 199.2h0.6v0.6h-0.6zM135.8 201.0h0.6v0.6h-0.6zM139.3 204.5h0.6v0.6h-0.6zM131.8 204.7h0.6v0.6h-0.6zM127.8 200.6h0.6v0.6h-0.6zM141.8 199.9h0.6v0.6h-0.6zM136.0 201.5h0.6v0.6h-0.6zM147.3 200.3h0.6v0.6h-0.6zM144.3 208.0h0.6v0.6h-0.6zM138.1 200.8h0.6v0.6h-0.6zM139.8 200.3h0.6v0.6h-0.6zM138.1 200.1h0.6v0.6h-0.6zM132.9 198.7h0.6v0.6h-0.6zM144.1 201.1h0.6v0.6h-0.6zM134.5 205.7h0.6v0.6h-0.6zM139.0 202.0h0.6v0.6h-0.6zM136.3 202.9h0.6v0.6h-0.6zM138.3 201.7h0.6v0.6h-0.6zM139.0 204.9h0.6v0.6h-0.6zM138.9 206.3h0.6v0.6h-0.6zM144.3 200.2h0.6v0.6h-0.6zM135.3 199.5h0.6v0.6h-0.6zM136.2 204.7h0.6v0.6h-0.6zM138.2 201.6h0.6v0.6h-0.6zM140.2 197.1h0.6v0.6h-0.6zM141.2 202.4h0.6v0.6h-0.6zM142.8 202.1h0.6v0.6h-0.6zM144.4 205.6h0.6v0.6h-0.6zM138.4 204.3h0.6v0.6h-0.6zM135.6 201.0h0.6v0.6h-0.6zM134.6 202.3h0.6v0.6h-0.6zM134.1 200.0h0.6v0.6h-0.6zM138.7 199.0h0.6v0.6h-0.6zM142.4 200.4h0.6v0.6h-0.6zM138.6 202.0h0.6v0.6h-0.6zM144.4 204.4h0.6v0.6h-0.6zM138.6 201.3h0.6v0.6h-0.6zM143.7 202.5h0.6v0.6h-0.6zM134.8 203.2h0.6v0.6h-0.6zM142.6 202.7h0.6v0.6h-0.6zM139.9 206.7h0.6v0.6h-0.6zM137.3 204.8h0.6v0.6h-0.6zM146.9 207.3h0.6v0.6h-0.6zM134.3 204.2h0.6v0.6h-0.6zM145.6 205.5h0.6v0.6h-0.6zM145.2 204.3h0.6v0.6h-0.6zM131.8 204.9h0.6v0.6h-0.6zM143.3 203.3h0.6v0.6h-0.6zM144.4 202.8h0.6v0.6h-0.6zM143.5 203.5h0.6v0.6h-0.6zM136.3 205.4h0.6v0.6h-0.6zM137.1 204.5h0.6v0.6h-0.6zM134.9 203.5h0.6v0.6h-0.6zM142.3 205.9h0.6v0.6h-0.6zM134.7 201.4h0.6v0.6h-0.6zM139.7 200.1h0.6v0.6h-0.6zM142.9 204.5h0.6v0.6h-0.6zM135.9 204.3h0.6v0.6h-0.6zM142.2 208.0h0.6v0.6h-0.6zM138.1 206.1h0.6v0.6h-0.6zM138.1 202.1h0.6v0.6h-0.6zM137.8 203.6h0.6v0.6h-0.6zM132.8 201.9h0.6v0.6h-0.6zM146.6 198.1h0.6v0.6h-0.6zM143.9 204.9h0.6v0.6h-0.6zM137.8 200.8h0.6v0.6h-0.6zM145.0 202.0h0.6v0.6h-0.6zM141.2 202.3h0.6v0.6h-0.6zM134.6 205.6h0.6v0.6h-0.6zM142.8 200.4h0.6v0.6h-0.6zM144.9 199.6h0.6v0.6h-0.6zM133.8 205.1h0.6v0.6h-0.6zM137.8 202.9h0.6v0.6h-0.6zM147.2 200.0h0.6v0.6h-0.6zM142.6 201.8h0.6v0.6h-0.6zM140.2 202.3h0.6v0.6h-0.6zM136.1 203.0h0.6v0.6h-0.6zM135.5 202.9h0.6v0.6h-0.6zM135.3 202.1h0.6v0.6h-0.6zM140.4 199.2h0.6v0.6h-0.6zM139.5 204.7h0.6v0.6h-0.6zM140.3 205.3h0.6v0.6h-0.6zM135.1 204.4h0.6v0.6h-0.6zM141.2 195.6h0.6v0.6h-0.6zM139.7 205.2h0.6v0.6h-0.6zM139.5 203.0h0.6v0.6h-0.6zM139.2 202.5h0.6v0.6h-0.6zM134.9 201.1h0.6v0.6h-0.6zM139.7 203.4h0.6v0.6h-0.6zM142.7 204.2h0.6v0.6h-0.6zM139.4 198.7h0.6v0.6h-0.6zM134.2 207.3h0.6v0.6h-0.6zM141.7 204.6h0.6v0.6h-0.6zM134.9 201.6h0.6v0.6h-0.6zM141.0 200.8h0.6v0.6h-0.6zM145.3 200.9h0.6v0.6h-0.6zM137.8 199.8h0.6v0.6h-0.6zM141.4 206.3h0.6v0.6h-0.6zM140.7 202.8h0.6v0.6h-0.6zM138.1 205.0h0.6v0.6h-0.6zM139.8 207.5h0.6v0.6h-0.6zM138.5 201.9h0.6v0.6h-0.6zM137.3 197.9h0.6v0.6h-0.6zM140.8 203.2h0.6v0.6h-0.6zM132.4 199.8h0.6v0.6h-0.6zM134.8 202.0h0.6v0.6h-0.6zM135.0 204.9h0.6v0.6h-0.6zM145.3 201.2h0.6v0.6h-0.6zM139.9 200.1h0.6v0.6h-0.6zM145.9 200.0h0.6v0.6h-0.6zM136.1 202.9h0.6v0.6h-0.6zM138.9 202.2h0.6v0.6h-0.6zM135.2 202.6h0.6v0.6h-0.6zM136.9 201.8h0.6v0.6h-0.6zM144.4 201.3h0.6v0.6h-0.6zM141.7 201.2h0.6v0.6h-0.6zM144.4 200.9h0.6v0.6h-0.6zM135.3 202.2h0.6v0.6h-0.6zM145.5 201.8h0.6v0.6h-0.6zM135.7 202.5h0.6v0.6h-0.6zM136.5 203.5h0.6v0.6h-0.6zM136.6 203.7h0.6v0.6h-0.6zM143.9 204.2h0.6v0.6h-0.6zM146.7 203.7h0.6v0.6h-0.6zM148.3 206.2h0.6v0.6h-0.6zM138.5 204.9h0.6v0.6h-0.6zM136.4 202.3h0.6v0.6h-0.6zM139.4 200.8h0.6v0.6h-0.6zM141.2 202.6h0.6v0.6h-0.6zM148.9 204.9h0.6v0.6h-0.6zM138.6 201.1h0.6v0.6h-0.6zM137.3 201.1h0.6v0.6h-0.6zM136.3 202.9h0.6v0.6h-0.6zM133.6 202.1h0.6v0.6h-0.6zM142.0 201.4h0.6v0.6h-0.6zM134.6 201.6h0.6v0.6h-0.6zM143.7 200.9h0.6v0.6h-0.6zM146.9 198.6h0.6v0.6h-0.6zM136.1 204.4h0.6v0.6h-0.6zM145.9 202.3h0.6v0.6h-0.6zM132.2 202.1h0.6v0.6h-0.6zM135.6 201.1h0.6v0.6h-0.6zM138.0 201.3h0.6v0.6h-0.6zM139.6 203.2h0.6v0.6h-0.6zM138.4 198.2h0.6v0.6h-0.6zM138.9 196.1h0.6v0.6h-0.6zM140.1 201.8h0.6v0.6h-0.6zM147.4 206.3h0.6v0.6h-0.6zM140.8 201.6h0.6v0.6h-0.6zM141.9 207.1h0.6v0.6h-0.6zM139.4 202.5h0.6v0.6h-0.6zM137.1 202.7h0.6v0.6h-0.6zM143.6 200.5h0.6v0.6h-0.6zM144.6 203.2h0.6v0.6h-0.6zM150.0 203.4h0.6v0.6h-0.6zM145.6 200.3h0.6v0.6h-0.6zM150.8 203.1h0.6v0.6h-0.6zM139.4 206.8h0.6v0.6h-0.6zM140.5 199.7h0.6v0.6h-0.6zM142.6 204.3h0.6v0.6h-0.6zM139.7 201.7h0.6v0.6h-0.6zM132.4 207.2h0.6v0.6h-0.6zM137.8 203.8h0.6v0.6h-0.6zM137.5 201.0h0.6v0.6h-0.6zM141.1 200.6h0.6v0.6h-0.6zM144.1 198.7h0.6v0.6h-0.6zM142.5 205.9h0.6v0.6h-0.6zM137.8 203.4h0.6v0.6h-0.6zM143.6 201.8h0.6v0.6h-0.6zM138.8 202.4h0.6v0.6h-0.6zM152.3 200.8h0.6v0.6h-0.6zM139.0 201.7h0.6v0.6h-0.6zM137.3 200.5h0.6v0.6h-0.6zM136.8 203.3h0.6v0.6h-0.6zM145.1 207.1h0.6v0.6h-0.6zM133.9 200.4h0.6v0.6h-0.6zM139.7 200.4h0.6v0.6h-0.6zM136.3 202.3h0.6v0.6h-0.6zM137.3 200.7h0.6v0.6h-0.6zM140.8 200.9h0.6v0.6h-0.6zM138.6 203.7h0.6v0.6h-0.6zM143.1 203.4h0.6v0.6h-0.6zM144.8 203.3h0.6v0.6h-0.6zM133.1 206.7h0.6v0.6h-0.6zM152.9 205.0h0.6v0.6h-0.6zM147.2 205.8h0.6v0.6h-0.6zM137.8 204.5h0.6v0.6h-0.6zM136.7 201.4h0.6v0.6h-0.6zM142.4 203.1h0.6v0.6h-0.6zM136.8 199.3h0.6v0.6h-0.6zM143.5 202.9h0.6v0.6h-0.6z" fill="#000" fill-opacity="0.6" filter="url(#b3)"/>
<path d="M152.6 200.3h0.6v0.6h-0.6zM148.0 202.0h0.6v0.6h-0.6zM142.6 204.7h0.6v0.6h-0.6zM151.9 204.4h0.6v0.6h-0.6zM156.6 200.9h0.6v0.6h-0.6zM154.4 199.8h0.6v0.6h-0.6zM147.3 204.9h0.6v0.6h-0.6zM149.2 200.5h0.6v0.6h-0.6zM154.2 202.2h0.6v0.6h-0.6zM156.7 199.5h0.6v0.6h-0.6zM150.6 199.9h0.6v0.6h-0.6zM152.0 201.6h0.6v0.6h-0.6zM147.2 198.5h0.6v0.6h-0.6zM145.1 204.1h0.6v0.6h-0.6zM150.0 199.9h0.6v0.6h-0.6zM152.7 199.8h0.6v0.6h-0.6zM156.4 204.0h0.6v0.6h-0.6zM152.1 200.9h0.6v0.6h-0.6zM142.8 203.2h0.6v0.6h-0.6zM161.9 202.5h0.6v0.6h-0.6zM149.2 203.8h0.6v0.6h-0.6zM149.9 199.6h0.6v0.6h-0.6zM151.3 203.4h0.6v0.6h-0.6zM142.8 204.3h0.6v0.6h-0.6zM159.9 202.1h0.6v0.6h-0.6zM149.5 199.2h0.6v0.6h-0.6zM154.5 201.6h0.6v0.6h-0.6zM157.9 205.4h0.6v0.6h-0.6zM158.0 202.5h0.6v0.6h-0.6zM142.8 204.9h0.6v0.6h-0.6zM149.5 201.1h0.6v0.6h-0.6zM157.2 203.1h0.6v0.6h-0.6zM146.7 201.4h0.6v0.6h-0.6zM150.4 201.8h0.6v0.6h-0.6zM146.0 205.3h0.6v0.6h-0.6zM151.2 203.5h0.6v0.6h-0.6zM157.1 206.7h0.6v0.6h-0.6zM155.5 200.6h0.6v0.6h-0.6zM149.7 204.0h0.6v0.6h-0.6zM160.1 199.1h0.6v0.6h-0.6zM161.4 201.0h0.6v0.6h-0.6zM150.9 201.3h0.6v0.6h-0.6zM154.8 201.7h0.6v0.6h-0.6zM151.7 200.2h0.6v0.6h-0.6zM159.1 202.9h0.6v0.6h-0.6zM151.7 206.6h0.6v0.6h-0.6zM155.1 205.0h0.6v0.6h-0.6zM150.6 202.5h0.6v0.6h-0.6zM151.1 204.0h0.6v0.6h-0.6zM153.3 198.6h0.6v0.6h-0.6zM154.8 201.7h0.6v0.6h-0.6zM153.2 204.2h0.6v0.6h-0.6zM150.5 203.5h0.6v0.6h-0.6zM152.0 202.0h0.6v0.6h-0.6zM149.4 201.9h0.6v0.6h-0.6zM150.4 203.8h0.6v0.6h-0.6zM140.5 203.4h0.6v0.6h-0.6zM151.5 200.0h0.6v0.6h-0.6zM155.8 202.1h0.6v0.6h-0.6zM154.7 205.0h0.6v0.6h-0.6zM153.0 198.9h0.6v0.6h-0.6zM144.0 202.1h0.6v0.6h-0.6zM146.0 206.6h0.6v0.6h-0.6zM151.5 198.4h0.6v0.6h-0.6zM141.2 201.0h0.6v0.6h-0.6zM139.9 203.2h0.6v0.6h-0.6zM140.5 204.0h0.6v0.6h-0.6zM149.5 204.5h0.6v0.6h-0.6zM146.1 201.2h0.6v0.6h-0.6zM157.4 198.8h0.6v0.6h-0.6zM155.3 205.2h0.6v0.6h-0.6zM147.0 201.9h0.6v0.6h-0.6zM160.2 205.3h0.6v0.6h-0.6zM160.0 202.0h0.6v0.6h-0.6zM150.1 201.8h0.6v0.6h-0.6zM150.1 203.9h0.6v0.6h-0.6zM156.1 203.3h0.6v0.6h-0.6zM148.6 203.8h0.6v0.6h-0.6zM154.4 202.7h0.6v0.6h-0.6zM158.1 201.4h0.6v0.6h-0.6zM152.6 204.5h0.6v0.6h-0.6zM148.2 204.0h0.6v0.6h-0.6zM155.6 205.3h0.6v0.6h-0.6zM158.4 201.0h0.6v0.6h-0.6zM160.9 201.2h0.6v0.6h-0.6zM146.1 201.6h0.6v0.6h-0.6zM150.3 200.3h0.6v0.6h-0.6zM156.9 203.3h0.6v0.6h-0.6zM155.1 199.3h0.6v0.6h-0.6zM161.1 203.2h0.6v0.6h-0.6zM157.8 202.9h0.6v0.6h-0.6zM153.9 203.8h0.6v0.6h-0.6zM152.8 205.1h0.6v0.6h-0.6zM149.5 198.0h0.6v0.6h-0.6zM150.2 202.2h0.6v0.6h-0.6zM154.0 202.4h0.6v0.6h-0.6zM154.2 203.1h0.6v0.6h-0.6zM151.2 203.3h0.6v0.6h-0.6zM154.8 200.6h0.6v0.6h-0.6zM143.3 202.7h0.6v0.6h-0.6zM154.5 204.4h0.6v0.6h-0.6zM157.6 202.8h0.6v0.6h-0.6zM157.8 201.0h0.6v0.6h-0.6zM149.7 205.0h0.6v0.6h-0.6zM146.1 202.2h0.6v0.6h-0.6zM146.8 199.7h0.6v0.6h-0.6zM162.6 198.5h0.6v0.6h-0.6zM160.9 201.3h0.6v0.6h-0.6zM148.3 198.8h0.6v0.6h-0.6zM153.1 203.5h0.6v0.6h-0.6zM154.9 200.3h0.6v0.6h-0.6zM160.2 202.6h0.6v0.6h-0.6zM154.7 203.4h0.6v0.6h-0.6zM154.9 201.6h0.6v0.6h-0.6zM153.8 200.7h0.6v0.6h-0.6zM153.3 200.2h0.6v0.6h-0.6zM145.0 201.0h0.6v0.6h-0.6zM151.3 200.8h0.6v0.6h-0.6zM150.6 201.1h0.6v0.6h-0.6zM152.3 205.8h0.6v0.6h-0.6zM155.0 204.0h0.6v0.6h-0.6zM157.0 204.0h0.6v0.6h-0.6zM154.1 204.0h0.6v0.6h-0.6zM157.4 201.9h0.6v0.6h-0.6zM150.7 202.2h0.6v0.6h-0.6zM151.8 203.2h0.6v0.6h-0.6zM149.9 201.4h0.6v0.6h-0.6zM153.2 203.2h0.6v0.6h-0.6zM151.6 199.2h0.6v0.6h-0.6zM150.9 204.0h0.6v0.6h-0.6zM151.0 204.8h0.6v0.6h-0.6zM149.6 201.7h0.6v0.6h-0.6zM156.0 204.6h0.6v0.6h-0.6zM150.6 205.3h0.6v0.6h-0.6zM153.0 203.1h0.6v0.6h-0.6zM160.9 204.0h0.6v0.6h-0.6zM151.0 202.1h0.6v0.6h-0.6zM147.6 204.5h0.6v0.6h-0.6zM153.8 206.1h0.6v0.6h-0.6zM158.1 202.3h0.6v0.6h-0.6zM149.1 201.6h0.6v0.6h-0.6zM158.3 202.0h0.6v0.6h-0.6zM157.7 204.8h0.6v0.6h-0.6zM159.4 202.8h0.6v0.6h-0.6zM155.6 199.6h0.6v0.6h-0.6zM153.8 202.3h0.6v0.6h-0.6zM156.7 198.6h0.6v0.6h-0.6zM150.6 207.0h0.6v0.6h-0.6zM152.9 201.3h0.6v0.6h-0.6zM152.6 202.0h0.6v0.6h-0.6zM150.5 203.5h0.6v0.6h-0.6zM153.5 204.6h0.6v0.6h-0.6zM164.4 203.7h0.6v0.6h-0.6zM153.9 205.3h0.6v0.6h-0.6zM145.3 206.0h0.6v0.6h-0.6zM146.6 201.3h0.6v0.6h-0.6zM152.4 199.5h0.6v0.6h-0.6zM149.1 202.6h0.6v0.6h-0.6zM154.2 199.4h0.6v0.6h-0.6zM137.5 203.6h0.6v0.6h-0.6zM144.0 203.0h0.6v0.6h-0.6zM154.4 203.9h0.6v0.6h-0.6zM149.4 201.0h0.6v0.6h-0.6zM167.3 202.0h0.6v0.6h-0.6zM147.1 199.6h0.6v0.6h-0.6zM150.9 205.8h0.6v0.6h-0.6zM155.5 200.4h0.6v0.6h-0.6zM145.3 201.0h0.6v0.6h-0.6zM152.0 202.8h0.6v0.6h-0.6zM154.5 204.5h0.6v0.6h-0.6zM145.6 199.1h0.6v0.6h-0.6zM151.7 203.5h0.6v0.6h-0.6zM149.4 202.8h0.6v0.6h-0.6zM151.7 204.6h0.6v0.6h-0.6zM151.1 201.3h0.6v0.6h-0.6zM154.6 204.3h0.6v0.6h-0.6zM148.9 202.0h0.6v0.6h-0.6zM148.6 199.9h0.6v0.6h-0.6zM164.1 201.0h0.6v0.6h-0.6zM150.5 201.6h0.6v0.6h-0.6zM148.1 202.0h0.6v0.6h-0.6zM151.6 203.0h0.6v0.6h-0.6zM149.4 199.3h0.6v0.6h-0.6zM151.4 203.7h0.6v0.6h-0.6zM158.3 202.1h0.6v0.6h-0.6zM150.8 200.7h0.6v0.6h-0.6zM159.4 201.0h0.6v0.6h-0.6zM149.6 202.1h0.6v0.6h-0.6zM151.0 202.4h0.6v0.6h-0.6zM154.2 205.7h0.6v0.6h-0.6zM154.6 203.1h0.6v0.6h-0.6zM144.9 206.8h0.6v0.6h-0.6zM154.7 204.1h0.6v0.6h-0.6zM150.5 202.1h0.6v0.6h-0.6zM150.2 201.9h0.6v0.6h-0.6zM150.1 203.9h0.6v0.6h-0.6zM157.4 202.2h0.6v0.6h-0.6zM150.6 204.0h0.6v0.6h-0.6zM151.1 203.4h0.6v0.6h-0.6zM148.9 205.1h0.6v0.6h-0.6zM149.8 203.4h0.6v0.6h-0.6zM160.5 203.1h0.6v0.6h-0.6zM150.8 203.8h0.6v0.6h-0.6zM159.6 197.7h0.6v0.6h-0.6zM150.2 202.0h0.6v0.6h-0.6zM156.4 199.1h0.6v0.6h-0.6zM156.1 202.4h0.6v0.6h-0.6zM154.9 200.1h0.6v0.6h-0.6zM158.4 207.6h0.6v0.6h-0.6zM152.7 203.5h0.6v0.6h-0.6zM147.0 196.4h0.6v0.6h-0.6zM151.7 201.8h0.6v0.6h-0.6zM155.4 202.4h0.6v0.6h-0.6zM145.6 197.6h0.6v0.6h-0.6zM157.6 204.3h0.6v0.6h-0.6zM151.4 201.7h0.6v0.6h-0.6zM155.6 201.2h0.6v0.6h-0.6zM145.8 204.8h0.6v0.6h-0.6zM145.2 201.4h0.6v0.6h-0.6zM158.5 203.2h0.6v0.6h-0.6zM157.5 205.4h0.6v0.6h-0.6zM153.1 199.2h0.6v0.6h-0.6zM143.6 197.7h0.6v0.6h-0.6zM155.8 199.3h0.6v0.6h-0.6zM151.5 202.5h0.6v0.6h-0.6zM153.8 202.2h0.6v0.6h-0.6zM158.5 203.0h0.6v0.6h-0.6zM157.4 202.1h0.6v0.6h-0.6zM152.2 202.6h0.6v0.6h-0.6zM154.5 203.9h0.6v0.6h-0.6zM149.7 203.6h0.6v0.6h-0.6zM165.9 196.6h0.6v0.6h-0.6zM155.3 202.0h0.6v0.6h-0.6zM151.0 201.0h0.6v0.6h-0.6zM146.3 202.8h0.6v0.6h-0.6zM148.5 205.6h0.6v0.6h-0.6zM153.7 205.9h0.6v0.6h-0.6zM152.7 199.3h0.6v0.6h-0.6zM154.3 202.7h0.6v0.6h-0.6zM156.4 197.2h0.6v0.6h-0.6zM152.5 205.3h0.6v0.6h-0.6zM152.5 198.0h0.6v0.6h-0.6zM154.2 203.3h0.6v0.6h-0.6zM159.1 203.4h0.6v0.6h-0.6zM147.1 204.7h0.6v0.6h-0.6zM155.6 204.8h0.6v0.6h-0.6zM151.2 204.4h0.6v0.6h-0.6zM141.7 199.4h0.6v0.6h-0.6zM155.1 205.6h0.6v0.6h-0.6zM155.0 202.6h0.6v0.6h-0.6zM151.3 201.4h0.6v0.6h-0.6zM157.7 198.5h0.6v0.6h-0.6zM153.5 205.4h0.6v0.6h-0.6zM143.8 197.5h0.6v0.6h-0.6zM147.2 202.3h0.6v0.6h-0.6zM154.8 201.1h0.6v0.6h-0.6zM156.1 201.2h0.6v0.6h-0.6zM144.1 204.4h0.6v0.6h-0.6zM152.1 200.9h0.6v0.6h-0.6zM143.9 196.9h0.6v0.6h-0.6zM146.8 203.8h0.6v0.6h-0.6zM147.6 199.4h0.6v0.6h-0.6zM148.2 203.5h0.6v0.6h-0.6zM155.1 204.8h0.6v0.6h-0.6zM147.8 205.4h0.6v0.6h-0.6zM160.1 203.2h0.6v0.6h-0.6zM157.4 205.8h0.6v0.6h-0.6zM154.1 200.4h0.6v0.6h-0.6zM154.8 203.0h0.6v0.6h-0.6zM155.6 207.8h0.6v0.6h-0.6zM152.4 201.8h0.6v0.6h-0.6zM158.4 202.3h0.6v0.6h-0.6zM145.9 202.9h0.6v0.6h-0.6zM157.2 198.8h0.6v0.6h-0.6zM160.7 206.3h0.6v0.6h-0.6zM146.6 202.8h0.6v0.6h-0.6zM154.2 203.5h0.6v0.6h-0.6zM153.6 203.8h0.6v0.6h-0.6zM148.3 201.8h0.6v0.6h-0.6zM151.7 203.2h0.6v0.6h-0.6zM162.0 204.1h0.6v0.6h-0.6zM146.9 203.1h0.6v0.6h-0.6zM161.8 206.6h0.6v0.6h-0.6zM160.7 202.5h0.6v0.6h-0.6zM156.0 202.7h0.6v0.6h-0.6zM146.5 202.4h0.6v0.6h-0.6zM150.2 199.6h0.6v0.6h-0.6zM151.4 201.5h0.6v0.6h-0.6zM150.9 203.8h0.6v0.6h-0.6zM146.8 202.5h0.6v0.6h-0.6zM154.0 202.9h0.6v0.6h-0.6zM153.6 202.5h0.6v0.6h-0.6zM144.2 197.9h0.6v0.6h-0.6zM149.2 201.4h0.6v0.6h-0.6zM147.5 200.6h0.6v0.6h-0.6zM150.1 205.9h0.6v0.6h-0.6zM151.7 204.0h0.6v0.6h-0.6zM155.6 202.6h0.6v0.6h-0.6zM157.0 201.1h0.6v0.6h-0.6zM151.2 199.8h0.6v0.6h-0.6z" fill="#000" fill-opacity="0.5" filter="url(#b3)"/>
<path d="M160.7 203.3h0.6v0.6h-0.6zM157.7 201.4h0.6v0.6h-0.6zM160.1 201.5h0.6v0.6h-0.6zM159.6 202.1h0.6v0.6h-0.6zM156.4 201.8h0.6v0.6h-0.6zM167.5 199.5h0.6v0.6h-0.6zM164.2 200.2h0.6v0.6h-0.6zM158.9 205.0h0.6v0.6h-0.6zM163.7 202.8h0.6v0.6h-0.6zM167.4 202.8h0.6v0.6h-0.6zM160.7 197.2h0.6v0.6h-0.6zM163.8 204.8h0.6v0.6h-0.6zM159.5 199.2h0.6v0.6h-0.6zM154.6 202.7h0.6v0.6h-0.6zM152.0 202.3h0.6v0.6h-0.6zM164.2 200.7h0.6v0.6h-0.6zM157.1 201.0h0.6v0.6h-0.6zM167.1 199.3h0.6v0.6h-0.6zM158.0 202.6h0.6v0.6h-0.6zM158.7 204.1h0.6v0.6h-0.6zM158.3 199.2h0.6v0.6h-0.6zM155.4 201.1h0.6v0.6h-0.6zM165.3 201.6h0.6v0.6h-0.6zM158.9 198.6h0.6v0.6h-0.6zM162.1 200.3h0.6v0.6h-0.6zM170.0 199.3h0.6v0.6h-0.6zM155.9 199.1h0.6v0.6h-0.6zM161.8 202.7h0.6v0.6h-0.6zM162.0 203.8h0.6v0.6h-0.6zM163.8 200.4h0.6v0.6h-0.6zM167.5 200.0h0.6v0.6h-0.6zM161.9 201.6h0.6v0.6h-0.6zM165.5 201.5h0.6v0.6h-0.6zM162.4 197.8h0.6v0.6h-0.6zM160.8 201.8h0.6v0.6h-0.6zM166.9 198.2h0.6v0.6h-0.6zM156.5 203.2h0.6v0.6h-0.6zM170.0 201.8h0.6v0.6h-0.6zM153.0 198.1h0.6v0.6h-0.6zM159.6 199.8h0.6v0.6h-0.6zM163.0 203.6h0.6v0.6h-0.6zM164.1 199.7h0.6v0.6h-0.6zM158.4 201.2h0.6v0.6h-0.6zM162.7 202.6h0.6v0.6h-0.6zM159.6 203.5h0.6v0.6h-0.6zM163.8 201.0h0.6v0.6h-0.6zM161.9 204.6h0.6v0.6h-0.6zM163.6 201.0h0.6v0.6h-0.6zM159.8 203.4h0.6v0.6h-0.6zM162.6 201.8h0.6v0.6h-0.6z" fill="#000" fill-opacity="0.35" filter="url(#b3)"/>
</g>
<rect x="130.5" y="174.5" width="56.0" height="46.0" fill="none" stroke="#707070" stroke-width="0.8"/>
<line x1="145.5" y1="174.5" x2="145.5" y2="220.5" stroke="#8a8a8a" stroke-width="1"/>
<line x1="130.5" y1="208.4" x2="186.5" y2="208.4" stroke="#999" stroke-width="1.2"/>
<path d="M128.5 220.5H130.5M130.5 220.5V222.0M129.6 217.0H130.5M129.6 215.0H130.5M129.6 213.6H130.5M129.6 212.5H130.5M129.6 211.6H130.5M129.6 210.8H130.5M129.6 210.1H130.5M129.6 209.5H130.5M128.5 209.0H130.5M144.5 220.5V222.0M129.6 205.5H130.5M129.6 203.5H130.5M129.6 202.1H130.5M129.6 201.0H130.5M129.6 200.1H130.5M129.6 199.3H130.5M129.6 198.6H130.5M129.6 198.0H130.5M128.5 197.5H130.5M158.5 220.5V222.0M129.6 194.0H130.5M129.6 192.0H130.5M129.6 190.6H130.5M129.6 189.5H130.5M129.6 188.6H130.5M129.6 187.8H130.5M129.6 187.1H130.5M129.6 186.5H130.5M128.5 186.0H130.5M172.5 220.5V222.0M129.6 182.5H130.5M129.6 180.5H130.5M129.6 179.1H130.5M129.6 178.0H130.5M129.6 177.1H130.5M129.6 176.3H130.5M129.6 175.6H130.5M129.6 175.0H130.5M128.5 174.5H130.5M186.5 220.5V222.0" stroke="#555" stroke-width="0.5" fill="none"/>
<clipPath id="cb3"><rect x="53.5" y="234.5" width="56.0" height="34.69999999999999"/></clipPath>
<g clip-path="url(#cb3)">
<ellipse cx="62.5" cy="264.8" rx="7.2" ry="7.2" fill="#000" fill-opacity="1.0" filter="url(#b1)"/>
<path d="M59.3 263.0a1.0 1.0 0 1 0 2.0 0a1.0 1.0 0 1 0 -2.0 0zM62.6 260.7a1.3 1.3 0 1 0 2.5 0a1.3 1.3 0 1 0 -2.5 0zM58.0 259.9a1.5 1.5 0 1 0 3.1 0a1.5 1.5 0 1 0 -3.1 0zM62.8 263.4a1.4 1.4 0 1 0 2.8 0a1.4 1.4 0 1 0 -2.8 0zM63.2 263.8a1.0 1.0 0 1 0 2.0 0a1.0 1.0 0 1 0 -2.0 0zM62.9 264.7a1.0 1.0 0 1 0 2.0 0a1.0 1.0 0 1 0 -2.0 0zM63.6 259.3a1.2 1.2 0 1 0 2.4 0a1.2 1.2 0 1 0 -2.4 0zM56.1 262.2a1.3 1.3 0 1 0 2.5 0a1.3 1.3 0 1 0 -2.5 0zM64.9 265.0a1.0 1.0 0 1 0 1.9 0a1.0 1.0 0 1 0 -1.9 0zM56.0 265.0a1.0 1.0 0 1 0 1.9 0a1.0 1.0 0 1 0 -1.9 0zM59.4 266.8a1.3 1.3 0 1 0 2.7 0a1.3 1.3 0 1 0 -2.7 0zM60.3 266.1a1.2 1.2 0 1 0 2.4 0a1.2 1.2 0 1 0 -2.4 0zM62.0 263.2a1.5 1.5 0 1 0 3.0 0a1.5 1.5 0 1 0 -3.0 0zM55.9 261.5a1.1 1.1 0 1 0 2.2 0a1.1 1.1 0 1 0 -2.2 0zM61.2 263.1a1.0 1.0 0 1 0 2.0 0a1.0 1.0 0 1 0 -2.0 0zM59.6 261.7a1.2 1.2 0 1 0 2.4 0a1.2 1.2 0 1 0 -2.4 0zM65.5 263.2a1.3 1.3 0 1 0 2.7 0a1.3 1.3 0 1 0 -2.7 0zM58.7 262.8a1.6 1.6 0 1 0 3.2 0a1.6 1.6 0 1 0 -3.2 0zM60.9 264.0a1.1 1.1 0 1 0 2.3 0a1.1 1.1 0 1 0 -2.3 0zM59.5 264.5a1.1 1.1 0 1 0 2.3 0a1.1 1.1 0 1 0 -2.3 0zM67.0 266.4a1.2 1.2 0 1 0 2.4 0a1.2 1.2 0 1 0 -2.4 0zM60.4 266.9a1.3 1.3 0 1 0 2.5 0a1.3 1.3 0 1 0 -2.5 0zM56.8 266.8a1.2 1.2 0 1 0 2.3 0a1.2 1.2 0 1 0 -2.3 0zM66.2 261.5a1.4 1.4 0 1 0 2.7 0a1.4 1.4 0 1 0 -2.7 0zM63.7 267.2a1.6 1.6 0 1 0 3.2 0a1.6 1.6 0 1 0 -3.2 0zM62.0 262.9a1.0 1.0 0 1 0 2.1 0a1.0 1.0 0 1 0 -2.1 0zM66.0 263.6a1.5 1.5 0 1 0 3.0 0a1.5 1.5 0 1 0 -3.0 0zM59.5 259.9a1.2 1.2 0 1 0 2.5 0a1.2 1.2 0 1 0 -2.5 0zM60.6 260.2a1.4 1.4 0 1 0 2.9 0a1.4 1.4 0 1 0 -2.9 0zM63.4 266.1a1.3 1.3 0 1 0 2.6 0a1.3 1.3 0 1 0 -2.6 0zM64.9 265.1a1.5 1.5 0 1 0 3.1 0a1.5 1.5 0 1 0 -3.1 0zM65.8 265.9a1.4 1.4 0 1 0 2.8 0a1.4 1.4 0 1 0 -2.8 0zM66.9 259.3a1.3 1.3 0 1 0 2.6 0a1.3 1.3 0 1 0 -2.6 0zM58.4 261.8a1.2 1.2 0 1 0 2.3 0a1.2 1.2 0 1 0 -2.3 0zM58.8 262.1a1.4 1.4 0 1 0 2.9 0a1.4 1.4 0 1 0 -2.9 0zM58.0 262.8a1.2 1.2 0 1 0 2.4 0a1.2 1.2 0 1 0 -2.4 0zM59.6 259.3a1.5 1.5 0 1 0 2.9 0a1.5 1.5 0 1 0 -2.9 0zM61.2 261.6a0.8 0.8 0 1 0 1.6 0a0.8 0.8 0 1 0 -1.6 0zM62.4 264.4a1.2 1.2 0 1 0 2.4 0a1.2 1.2 0 1 0 -2.4 0zM64.5 265.0a1.4 1.4 0 1 0 2.8 0a1.4 1.4 0 1 0 -2.8 0zM55.9 265.6a1.1 1.1 0 1 0 2.2 0a1.1 1.1 0 1 0 -2.2 0zM59.1 263.8a0.9 0.9 0 1 0 1.8 0a0.9 0.9 0 1 0 -1.8 0zM60.2 262.9a0.9 0.9 0 1 0 1.8 0a0.9 0.9 0 1 0 -1.8 0zM59.7 267.7a1.6 1.6 0 1 0 3.2 0a1.6 1.6 0 1 0 -3.2 0zM61.5 265.6a1.6 1.6 0 1 0 3.2 0a1.6 1.6 0 1 0 -3.2 0z" fill="#000" fill-opacity="1.0" filter="url(#b3)"/>
<path d="M55.5 260.3h0.6v0.6h-0.6zM70.0 263.2h0.6v0.6h-0.6zM63.3 263.0h0.6v0.6h-0.6zM69.8 262.2h0.6v0.6h-0.6zM63.6 266.9h0.6v0.6h-0.6zM60.4 268.6h0.6v0.6h-0.6zM61.4 264.0h0.6v0.6h-0.6zM66.3 261.3h0.6v0.6h-0.6zM66.4 267.7h0.6v0.6h-0.6zM67.5 266.5h0.6v0.6h-0.6zM60.7 263.8h0.6v0.6h-0.6zM70.1 261.8h0.6v0.6h-0.6zM72.7 265.6h0.6v0.6h-0.6zM57.5 258.4h0.6v0.6h-0.6zM63.4 261.2h0.6v0.6h-0.6zM61.8 265.1h0.6v0.6h-0.6zM67.4 255.8h0.6v0.6h-0.6zM56.6 261.0h0.6v0.6h-0.6zM68.8 262.6h0.6v0.6h-0.6zM59.4 264.2h0.6v0.6h-0.6zM65.4 263.1h0.6v0.6h-0.6zM66.1 263.6h0.6v0.6h-0.6zM59.5 262.8h0.6v0.6h-0.6zM62.2 263.7h0.6v0.6h-0.6zM62.1 262.1h0.6v0.6h-0.6zM62.5 264.7h0.6v0.6h-0.6zM61.9 261.0h0.6v0.6h-0.6zM61.8 262.9h0.6v0.6h-0.6zM59.0 262.0h0.6v0.6h-0.6zM65.6 262.0h0.6v0.6h-0.6zM68.2 264.6h0.6v0.6h-0.6zM59.0 263.5h0.6v0.6h-0.6zM65.8 266.6h0.6v0.6h-0.6zM63.7 263.3h0.6v0.6h-0.6zM62.0 266.3h0.6v0.6h-0.6zM62.6 268.4h0.6v0.6h-0.6zM57.3 265.5h0.6v0.6h-0.6zM56.6 260.4h0.6v0.6h-0.6zM68.6 261.4h0.6v0.6h-0.6zM60.9 259.2h0.6v0.6h-0.6zM71.1 266.1h0.6v0.6h-0.6zM61.7 263.0h0.6v0.6h-0.6zM62.7 259.3h0.6v0.6h-0.6zM67.7 262.1h0.6v0.6h-0.6zM53.0 264.5h0.6v0.6h-0.6zM70.4 260.7h0.6v0.6h-0.6zM58.2 264.4h0.6v0.6h-0.6zM62.1 256.2h0.6v0.6h-0.6zM55.8 264.5h0.6v0.6h-0.6zM57.4 261.6h0.6v0.6h-0.6zM63.9 265.8h0.6v0.6h-0.6zM66.3 263.6h0.6v0.6h-0.6zM61.0 260.7h0.6v0.6h-0.6zM68.6 266.3h0.6v0.6h-0.6zM62.8 258.5h0.6v0.6h-0.6zM61.6 258.9h0.6v0.6h-0.6zM71.4 264.3h0.6v0.6h-0.6zM65.0 261.8h0.6v0.6h-0.6zM71.7 262.3h0.6v0.6h-0.6zM64.5 261.6h0.6v0.6h-0.6zM69.3 258.9h0.6v0.6h-0.6zM67.1 256.4h0.6v0.6h-0.6zM64.7 262.3h0.6v0.6h-0.6zM67.2 268.4h0.6v0.6h-0.6zM65.1 265.9h0.6v0.6h-0.6zM65.2 257.2h0.6v0.6h-0.6zM59.0 265.2h0.6v0.6h-0.6zM57.7 252.9h0.6v0.6h-0.6zM59.9 261.0h0.6v0.6h-0.6zM63.2 265.3h0.6v0.6h-0.6zM57.1 259.8h0.6v0.6h-0.6zM64.4 268.6h0.6v0.6h-0.6zM58.0 260.6h0.6v0.6h-0.6zM58.1 262.6h0.6v0.6h-0.6zM68.9 263.6h0.6v0.6h-0.6zM57.7 257.3h0.6v0.6h-0.6zM69.8 262.4h0.6v0.6h-0.6zM68.1 268.7h0.6v0.6h-0.6zM52.4 267.6h0.6v0.6h-0.6zM65.0 262.7h0.6v0.6h-0.6zM64.4 263.5h0.6v0.6h-0.6zM60.5 259.8h0.6v0.6h-0.6zM60.0 261.1h0.6v0.6h-0.6zM61.2 262.4h0.6v0.6h-0.6zM65.1 268.4h0.6v0.6h-0.6zM63.3 264.8h0.6v0.6h-0.6zM54.9 255.6h0.6v0.6h-0.6zM72.1 260.5h0.6v0.6h-0.6zM62.9 262.8h0.6v0.6h-0.6zM66.5 266.8h0.6v0.6h-0.6zM54.0 261.9h0.6v0.6h-0.6zM69.6 264.1h0.6v0.6h-0.6zM70.2 265.6h0.6v0.6h-0.6zM67.7 265.2h0.6v0.6h-0.6zM64.9 253.7h0.6v0.6h-0.6zM65.4 257.7h0.6v0.6h-0.6zM61.0 267.7h0.6v0.6h-0.6zM57.6 262.2h0.6v0.6h-0.6zM58.7 261.2h0.6v0.6h-0.6zM57.1 267.1h0.6v0.6h-0.6zM55.1 256.0h0.6v0.6h-0.6zM70.7 260.6h0.6v0.6h-0.6zM67.4 265.7h0.6v0.6h-0.6zM54.5 263.3h0.6v0.6h-0.6zM65.7 262.0h0.6v0.6h-0.6zM72.7 263.6h0.6v0.6h-0.6zM67.3 262.7h0.6v0.6h-0.6zM59.2 261.3h0.6v0.6h-0.6zM57.9 266.3h0.6v0.6h-0.6zM59.3 256.6h0.6v0.6h-0.6zM59.3 266.1h0.6v0.6h-0.6zM49.6 266.1h0.6v0.6h-0.6zM52.3 262.4h0.6v0.6h-0.6zM64.1 263.0h0.6v0.6h-0.6zM63.3 261.6h0.6v0.6h-0.6zM56.2 263.3h0.6v0.6h-0.6zM68.6 265.3h0.6v0.6h-0.6zM61.4 260.3h0.6v0.6h-0.6zM58.3 262.4h0.6v0.6h-0.6zM65.1 265.3h0.6v0.6h-0.6zM69.4 261.5h0.6v0.6h-0.6zM54.6 261.7h0.6v0.6h-0.6zM67.2 258.5h0.6v0.6h-0.6zM58.1 265.6h0.6v0.6h-0.6zM62.2 264.3h0.6v0.6h-0.6zM64.7 262.6h0.6v0.6h-0.6zM56.5 267.8h0.6v0.6h-0.6zM65.7 263.5h0.6v0.6h-0.6zM56.5 264.7h0.6v0.6h-0.6zM65.7 256.4h0.6v0.6h-0.6zM64.3 261.3h0.6v0.6h-0.6zM64.5 263.1h0.6v0.6h-0.6zM58.7 263.8h0.6v0.6h-0.6zM66.2 263.5h0.6v0.6h-0.6zM75.7 262.9h0.6v0.6h-0.6zM62.9 262.3h0.6v0.6h-0.6zM60.4 261.9h0.6v0.6h-0.6zM61.7 268.4h0.6v0.6h-0.6zM64.2 266.2h0.6v0.6h-0.6zM67.2 263.3h0.6v0.6h-0.6zM62.2 264.7h0.6v0.6h-0.6zM67.0 265.1h0.6v0.6h-0.6zM72.8 267.0h0.6v0.6h-0.6zM62.8 266.4h0.6v0.6h-0.6zM71.1 265.6h0.6v0.6h-0.6zM63.7 264.4h0.6v0.6h-0.6zM55.7 268.5h0.6v0.6h-0.6zM67.7 261.4h0.6v0.6h-0.6zM61.4 262.6h0.6v0.6h-0.6zM69.6 260.0h0.6v0.6h-0.6zM66.0 266.4h0.6v0.6h-0.6zM61.6 267.4h0.6v0.6h-0.6zM63.0 267.3h0.6v0.6h-0.6zM63.0 263.8h0.6v0.6h-0.6zM69.4 267.0h0.6v0.6h-0.6zM57.6 264.5h0.6v0.6h-0.6zM61.0 261.1h0.6v0.6h-0.6zM64.9 266.3h0.6v0.6h-0.6zM63.1 257.8h0.6v0.6h-0.6zM56.6 264.3h0.6v0.6h-0.6zM57.5 258.6h0.6v0.6h-0.6zM58.7 266.4h0.6v0.6h-0.6zM61.5 259.3h0.6v0.6h-0.6zM63.3 260.6h0.6v0.6h-0.6zM63.9 260.4h0.6v0.6h-0.6zM60.3 263.0h0.6v0.6h-0.6zM54.8 267.1h0.6v0.6h-0.6zM66.0 263.6h0.6v0.6h-0.6zM56.2 261.9h0.6v0.6h-0.6zM60.2 258.6h0.6v0.6h-0.6zM61.8 258.8h0.6v0.6h-0.6zM66.4 266.6h0.6v0.6h-0.6zM62.9 263.5h0.6v0.6h-0.6zM50.0 262.8h0.6v0.6h-0.6zM55.1 264.4h0.6v0.6h-0.6zM62.1 262.6h0.6v0.6h-0.6zM49.3 260.2h0.6v0.6h-0.6zM60.7 260.9h0.6v0.6h-0.6zM68.9 260.4h0.6v0.6h-0.6zM71.5 260.6h0.6v0.6h-0.6zM58.3 261.3h0.6v0.6h-0.6zM58.9 262.7h0.6v0.6h-0.6zM64.5 261.8h0.6v0.6h-0.6zM67.4 263.0h0.6v0.6h-0.6zM56.9 264.9h0.6v0.6h-0.6zM60.5 267.4h0.6v0.6h-0.6zM72.1 265.4h0.6v0.6h-0.6zM70.7 267.3h0.6v0.6h-0.6zM68.3 258.7h0.6v0.6h-0.6zM63.0 261.1h0.6v0.6h-0.6zM61.4 262.7h0.6v0.6h-0.6zM62.8 257.4h0.6v0.6h-0.6zM64.3 266.7h0.6v0.6h-0.6zM69.0 265.8h0.6v0.6h-0.6zM62.5 262.1h0.6v0.6h-0.6zM55.5 258.8h0.6v0.6h-0.6zM62.9 263.8h0.6v0.6h-0.6zM70.0 266.0h0.6v0.6h-0.6zM61.2 263.7h0.6v0.6h-0.6zM64.7 260.5h0.6v0.6h-0.6zM63.3 263.4h0.6v0.6h-0.6zM61.3 266.7h0.6v0.6h-0.6zM56.7 263.3h0.6v0.6h-0.6zM63.3 263.3h0.6v0.6h-0.6zM66.8 260.9h0.6v0.6h-0.6zM61.3 256.3h0.6v0.6h-0.6zM56.5 260.2h0.6v0.6h-0.6zM63.6 265.4h0.6v0.6h-0.6zM49.0 262.4h0.6v0.6h-0.6zM66.4 262.8h0.6v0.6h-0.6zM60.4 261.2h0.6v0.6h-0.6zM60.5 265.3h0.6v0.6h-0.6zM67.7 263.1h0.6v0.6h-0.6zM61.0 263.5h0.6v0.6h-0.6zM64.2 262.1h0.6v0.6h-0.6zM64.7 261.1h0.6v0.6h-0.6zM63.1 264.2h0.6v0.6h-0.6zM60.2 265.5h0.6v0.6h-0.6zM62.9 260.8h0.6v0.6h-0.6zM63.6 254.6h0.6v0.6h-0.6zM63.9 262.5h0.6v0.6h-0.6zM64.7 257.5h0.6v0.6h-0.6zM64.7 259.0h0.6v0.6h-0.6zM68.6 266.3h0.6v0.6h-0.6zM58.2 261.4h0.6v0.6h-0.6zM63.3 261.1h0.6v0.6h-0.6zM58.2 266.5h0.6v0.6h-0.6zM74.7 257.1h0.6v0.6h-0.6zM65.8 261.5h0.6v0.6h-0.6zM57.8 265.1h0.6v0.6h-0.6zM61.1 263.5h0.6v0.6h-0.6zM55.6 268.9h0.6v0.6h-0.6zM56.0 268.0h0.6v0.6h-0.6zM67.5 260.7h0.6v0.6h-0.6zM74.4 258.7h0.6v0.6h-0.6zM69.4 263.5h0.6v0.6h-0.6zM67.0 262.4h0.6v0.6h-0.6zM61.2 264.6h0.6v0.6h-0.6zM67.6 260.3h0.6v0.6h-0.6zM57.6 260.8h0.6v0.6h-0.6zM67.6 260.8h0.6v0.6h-0.6zM58.0 262.1h0.6v0.6h-0.6zM59.6 260.1h0.6v0.6h-0.6zM68.8 265.7h0.6v0.6h-0.6zM68.2 264.2h0.6v0.6h-0.6zM64.2 266.4h0.6v0.6h-0.6zM63.6 265.5h0.6v0.6h-0.6zM60.8 263.8h0.6v0.6h-0.6zM62.9 268.5h0.6v0.6h-0.6zM70.5 267.0h0.6v0.6h-0.6zM60.2 264.4h0.6v0.6h-0.6zM63.7 260.0h0.6v0.6h-0.6zM62.9 263.3h0.6v0.6h-0.6zM57.9 263.3h0.6v0.6h-0.6zM61.2 262.4h0.6v0.6h-0.6zM68.5 268.5h0.6v0.6h-0.6zM60.1 261.1h0.6v0.6h-0.6zM65.6 261.1h0.6v0.6h-0.6zM55.1 265.1h0.6v0.6h-0.6zM65.3 261.1h0.6v0.6h-0.6zM66.3 262.9h0.6v0.6h-0.6zM62.4 267.1h0.6v0.6h-0.6zM57.5 261.6h0.6v0.6h-0.6zM54.8 264.4h0.6v0.6h-0.6z" fill="#000" fill-opacity="0.6" filter="url(#b3)"/>
<path d="M74.0 267.6h0.6v0.6h-0.6zM69.7 260.5h0.6v0.6h-0.6zM73.9 267.2h0.6v0.6h-0.6zM70.5 265.4h0.6v0.6h-0.6zM63.4 264.6h0.6v0.6h-0.6zM78.0 263.2h0.6v0.6h-0.6zM72.7 266.0h0.6v0.6h-0.6zM65.7 263.6h0.6v0.6h-0.6zM71.5 266.2h0.6v0.6h-0.6zM75.3 263.8h0.6v0.6h-0.6zM66.9 263.4h0.6v0.6h-0.6zM70.3 264.9h0.6v0.6h-0.6zM70.7 263.7h0.6v0.6h-0.6zM70.1 261.3h0.6v0.6h-0.6zM76.5 261.1h0.6v0.6h-0.6zM76.5 266.3h0.6v0.6h-0.6zM70.8 262.0h0.6v0.6h-0.6zM77.8 263.4h0.6v0.6h-0.6zM75.6 265.3h0.6v0.6h-0.6zM79.3 265.9h0.6v0.6h-0.6zM73.4 265.6h0.6v0.6h-0.6zM75.4 264.5h0.6v0.6h-0.6zM69.5 268.4h0.6v0.6h-0.6zM72.7 263.5h0.6v0.6h-0.6zM78.8 264.4h0.6v0.6h-0.6zM76.1 262.7h0.6v0.6h-0.6zM67.2 260.2h0.6v0.6h-0.6zM79.4 266.1h0.6v0.6h-0.6zM64.1 261.6h0.6v0.6h-0.6zM71.2 263.9h0.6v0.6h-0.6zM77.7 267.3h0.6v0.6h-0.6zM76.1 266.9h0.6v0.6h-0.6zM76.8 264.6h0.6v0.6h-0.6zM75.9 268.4h0.6v0.6h-0.6zM64.2 264.9h0.6v0.6h-0.6zM70.5 268.6h0.6v0.6h-0.6zM61.6 268.9h0.6v0.6h-0.6zM76.6 264.2h0.6v0.6h-0.6zM70.5 267.0h0.6v0.6h-0.6zM68.1 265.6h0.6v0.6h-0.6zM73.1 263.7h0.6v0.6h-0.6zM69.0 261.4h0.6v0.6h-0.6zM71.0 266.0h0.6v0.6h-0.6zM73.9 268.3h0.6v0.6h-0.6zM76.3 266.1h0.6v0.6h-0.6zM71.8 268.5h0.6v0.6h-0.6zM73.7 262.0h0.6v0.6h-0.6zM76.5 266.8h0.6v0.6h-0.6zM88.1 268.0h0.6v0.6h-0.6zM65.7 266.1h0.6v0.6h-0.6zM74.1 266.9h0.6v0.6h-0.6zM76.8 266.9h0.6v0.6h-0.6zM71.8 262.2h0.6v0.6h-0.6zM73.0 266.1h0.6v0.6h-0.6zM75.4 263.8h0.6v0.6h-0.6zM82.4 265.1h0.6v0.6h-0.6zM80.5 266.0h0.6v0.6h-0.6zM69.4 265.0h0.6v0.6h-0.6zM73.3 264.8h0.6v0.6h-0.6zM74.0 260.4h0.6v0.6h-0.6zM77.6 265.5h0.6v0.6h-0.6zM75.6 263.7h0.6v0.6h-0.6zM79.0 268.4h0.6v0.6h-0.6zM87.4 264.5h0.6v0.6h-0.6zM74.8 266.2h0.6v0.6h-0.6zM76.3 265.1h0.6v0.6h-0.6zM74.1 263.5h0.6v0.6h-0.6zM69.5 266.8h0.6v0.6h-0.6zM74.8 265.7h0.6v0.6h-0.6zM75.4 266.9h0.6v0.6h-0.6zM85.9 266.5h0.6v0.6h-0.6zM79.0 264.6h0.6v0.6h-0.6zM68.8 266.2h0.6v0.6h-0.6zM76.3 262.9h0.6v0.6h-0.6zM83.9 262.1h0.6v0.6h-0.6zM73.0 268.1h0.6v0.6h-0.6zM77.7 264.4h0.6v0.6h-0.6zM79.3 264.9h0.6v0.6h-0.6zM73.0 264.1h0.6v0.6h-0.6zM68.8 267.1h0.6v0.6h-0.6zM69.4 266.9h0.6v0.6h-0.6zM74.7 263.0h0.6v0.6h-0.6zM71.8 261.3h0.6v0.6h-0.6zM74.6 262.9h0.6v0.6h-0.6zM70.8 267.7h0.6v0.6h-0.6zM69.2 265.9h0.6v0.6h-0.6zM67.1 263.4h0.6v0.6h-0.6zM75.9 266.3h0.6v0.6h-0.6zM77.8 267.1h0.6v0.6h-0.6zM75.3 267.5h0.6v0.6h-0.6zM74.4 263.1h0.6v0.6h-0.6zM76.9 265.8h0.6v0.6h-0.6zM72.8 262.9h0.6v0.6h-0.6zM76.5 264.5h0.6v0.6h-0.6zM72.3 267.6h0.6v0.6h-0.6zM72.1 266.7h0.6v0.6h-0.6zM78.3 266.7h0.6v0.6h-0.6zM74.0 262.7h0.6v0.6h-0.6zM80.2 264.7h0.6v0.6h-0.6zM71.2 266.7h0.6v0.6h-0.6zM73.6 266.1h0.6v0.6h-0.6zM68.5 265.5h0.6v0.6h-0.6zM74.5 264.1h0.6v0.6h-0.6zM83.6 266.0h0.6v0.6h-0.6zM69.4 268.0h0.6v0.6h-0.6zM76.6 263.6h0.6v0.6h-0.6zM77.4 268.8h0.6v0.6h-0.6zM72.3 267.7h0.6v0.6h-0.6zM80.0 265.0h0.6v0.6h-0.6zM71.1 265.6h0.6v0.6h-0.6zM77.1 263.8h0.6v0.6h-0.6zM72.3 267.0h0.6v0.6h-0.6zM71.5 266.9h0.6v0.6h-0.6zM74.8 264.9h0.6v0.6h-0.6zM70.3 267.3h0.6v0.6h-0.6zM70.9 263.6h0.6v0.6h-0.6zM73.1 262.5h0.6v0.6h-0.6zM75.9 268.6h0.6v0.6h-0.6zM76.5 264.4h0.6v0.6h-0.6zM74.3 260.8h0.6v0.6h-0.6zM77.5 267.2h0.6v0.6h-0.6zM79.4 264.6h0.6v0.6h-0.6zM77.2 263.3h0.6v0.6h-0.6zM70.9 262.8h0.6v0.6h-0.6zM72.2 261.2h0.6v0.6h-0.6zM72.5 261.0h0.6v0.6h-0.6zM75.5 268.4h0.6v0.6h-0.6zM76.0 261.2h0.6v0.6h-0.6zM76.5 267.7h0.6v0.6h-0.6zM85.9 265.6h0.6v0.6h-0.6zM72.0 263.6h0.6v0.6h-0.6zM70.9 263.8h0.6v0.6h-0.6zM66.6 263.5h0.6v0.6h-0.6zM82.0 259.7h0.6v0.6h-0.6zM71.0 262.5h0.6v0.6h-0.6zM71.4 264.9h0.6v0.6h-0.6zM83.2 266.1h0.6v0.6h-0.6zM82.4 264.3h0.6v0.6h-0.6zM76.4 268.1h0.6v0.6h-0.6zM75.3 267.0h0.6v0.6h-0.6zM76.6 259.6h0.6v0.6h-0.6zM81.8 265.3h0.6v0.6h-0.6zM72.3 261.4h0.6v0.6h-0.6zM76.5 266.8h0.6v0.6h-0.6zM73.9 263.4h0.6v0.6h-0.6zM76.5 267.4h0.6v0.6h-0.6zM75.7 266.6h0.6v0.6h-0.6zM75.7 266.4h0.6v0.6h-0.6zM77.7 266.5h0.6v0.6h-0.6zM72.7 266.1h0.6v0.6h-0.6zM76.0 267.2h0.6v0.6h-0.6zM77.4 265.9h0.6v0.6h-0.6zM81.1 266.1h0.6v0.6h-0.6zM77.6 266.9h0.6v0.6h-0.6zM78.5 267.7h0.6v0.6h-0.6zM80.9 264.4h0.6v0.6h-0.6zM76.5 265.8h0.6v0.6h-0.6zM80.6 267.0h0.6v0.6h-0.6zM75.1 260.5h0.6v0.6h-0.6zM69.8 266.1h0.6v0.6h-0.6zM70.1 267.8h0.6v0.6h-0.6zM67.0 265.4h0.6v0.6h-0.6zM66.0 266.8h0.6v0.6h-0.6zM71.1 263.9h0.6v0.6h-0.6zM71.1 265.8h0.6v0.6h-0.6zM75.2 264.6h0.6v0.6h-0.6zM70.1 266.5h0.6v0.6h-0.6zM72.4 264.3h0.6v0.6h-0.6zM72.9 263.9h0.6v0.6h-0.6zM73.3 267.0h0.6v0.6h-0.6zM88.8 268.9h0.6v0.6h-0.6zM83.0 266.9h0.6v0.6h-0.6zM69.9 259.9h0.6v0.6h-0.6zM69.3 263.3h0.6v0.6h-0.6zM68.6 266.0h0.6v0.6h-0.6zM72.6 266.3h0.6v0.6h-0.6zM67.1 262.8h0.6v0.6h-0.6zM83.7 264.3h0.6v0.6h-0.6zM71.6 264.0h0.6v0.6h-0.6zM71.5 264.5h0.6v0.6h-0.6zM78.8 261.9h0.6v0.6h-0.6zM71.2 266.5h0.6v0.6h-0.6zM77.7 263.4h0.6v0.6h-0.6zM79.9 266.7h0.6v0.6h-0.6zM72.0 265.6h0.6v0.6h-0.6zM75.9 263.7h0.6v0.6h-0.6zM76.0 267.7h0.6v0.6h-0.6zM74.0 267.2h0.6v0.6h-0.6zM64.1 266.7h0.6v0.6h-0.6zM70.0 263.6h0.6v0.6h-0.6zM79.0 260.2h0.6v0.6h-0.6zM74.9 264.7h0.6v0.6h-0.6zM76.6 261.1h0.6v0.6h-0.6zM72.3 261.2h0.6v0.6h-0.6zM72.3 263.6h0.6v0.6h-0.6zM81.3 263.2h0.6v0.6h-0.6zM74.3 268.0h0.6v0.6h-0.6zM75.3 266.6h0.6v0.6h-0.6zM72.3 264.1h0.6v0.6h-0.6zM80.2 265.2h0.6v0.6h-0.6zM66.7 261.5h0.6v0.6h-0.6zM77.8 265.4h0.6v0.6h-0.6zM81.3 268.6h0.6v0.6h-0.6zM74.9 263.7h0.6v0.6h-0.6zM67.2 265.7h0.6v0.6h-0.6zM70.2 263.1h0.6v0.6h-0.6zM71.0 264.6h0.6v0.6h-0.6zM76.4 265.5h0.6v0.6h-0.6zM71.5 264.9h0.6v0.6h-0.6zM76.8 263.7h0.6v0.6h-0.6z" fill="#000" fill-opacity="0.35" filter="url(#b3)"/>
</g>
<rect x="53.5" y="234.5" width="56.0" height="46.0" fill="none" stroke="#707070" stroke-width="0.8"/>
<line x1="70.5" y1="234.5" x2="70.5" y2="280.5" stroke="#8a8a8a" stroke-width="1"/>
<line x1="53.5" y1="269.3" x2="109.5" y2="269.3" stroke="#999" stroke-width="1.2"/>
<path d="M51.5 280.5H53.5M53.5 280.5V282.0M52.6 277.0H53.5M52.6 275.0H53.5M52.6 273.6H53.5M52.6 272.5H53.5M52.6 271.6H53.5M52.6 270.8H53.5M52.6 270.1H53.5M52.6 269.5H53.5M51.5 269.0H53.5M67.5 280.5V282.0M52.6 265.5H53.5M52.6 263.5H53.5M52.6 262.1H53.5M52.6 261.0H53.5M52.6 260.1H53.5M52.6 259.3H53.5M52.6 258.6H53.5M52.6 258.0H53.5M51.5 257.5H53.5M81.5 280.5V282.0M52.6 254.0H53.5M52.6 252.0H53.5M52.6 250.6H53.5M52.6 249.5H53.5M52.6 248.6H53.5M52.6 247.8H53.5M52.6 247.1H53.5M52.6 246.5H53.5M51.5 246.0H53.5M95.5 280.5V282.0M52.6 242.5H53.5M52.6 240.5H53.5M52.6 239.1H53.5M52.6 238.0H53.5M52.6 237.1H53.5M52.6 236.3H53.5M52.6 235.6H53.5M52.6 235.0H53.5M51.5 234.5H53.5M109.5 280.5V282.0" stroke="#555" stroke-width="0.5" fill="none"/>
<clipPath id="cb4"><rect x="130.5" y="234.5" width="56.0" height="34.69999999999999"/></clipPath>
<g clip-path="url(#cb4)">
<ellipse cx="140.1" cy="264.8" rx="6.9" ry="7.2" fill="#000" fill-opacity="1.0" filter="url(#b1)"/>
<path d="M143.4 263.5a1.3 1.3 0 1 0 2.7 0a1.3 1.3 0 1 0 -2.7 0zM138.4 260.3a1.5 1.5 0 1 0 3.1 0a1.5 1.5 0 1 0 -3.1 0zM135.3 258.9a1.4 1.4 0 1 0 2.9 0a1.4 1.4 0 1 0 -2.9 0zM138.6 266.0a1.0 1.0 0 1 0 1.9 0a1.0 1.0 0 1 0 -1.9 0zM136.8 261.2a1.2 1.2 0 1 0 2.3 0a1.2 1.2 0 1 0 -2.3 0zM137.5 264.4a1.3 1.3 0 1 0 2.5 0a1.3 1.3 0 1 0 -2.5 0zM138.7 260.7a0.9 0.9 0 1 0 1.8 0a0.9 0.9 0 1 0 -1.8 0zM135.5 260.7a1.2 1.2 0 1 0 2.5 0a1.2 1.2 0 1 0 -2.5 0zM142.3 258.9a1.4 1.4 0 1 0 2.8 0a1.4 1.4 0 1 0 -2.8 0zM133.4 259.5a1.3 1.3 0 1 0 2.5 0a1.3 1.3 0 1 0 -2.5 0zM136.9 263.0a1.1 1.1 0 1 0 2.1 0a1.1 1.1 0 1 0 -2.1 0zM137.4 264.8a1.0 1.0 0 1 0 2.0 0a1.0 1.0 0 1 0 -2.0 0zM139.5 264.4a1.2 1.2 0 1 0 2.5 0a1.2 1.2 0 1 0 -2.5 0zM133.4 265.1a1.4 1.4 0 1 0 2.8 0a1.4 1.4 0 1 0 -2.8 0zM144.7 260.7a0.9 0.9 0 1 0 1.8 0a0.9 0.9 0 1 0 -1.8 0zM135.2 258.9a0.9 0.9 0 1 0 1.7 0a0.9 0.9 0 1 0 -1.7 0zM139.6 263.6a0.9 0.9 0 1 0 1.9 0a0.9 0.9 0 1 0 -1.9 0zM144.6 261.4a0.9 0.9 0 1 0 1.8 0a0.9 0.9 0 1 0 -1.8 0zM140.1 263.2a1.5 1.5 0 1 0 3.0 0a1.5 1.5 0 1 0 -3.0 0zM137.2 266.3a1.1 1.1 0 1 0 2.2 0a1.1 1.1 0 1 0 -2.2 0zM134.6 265.0a1.6 1.6 0 1 0 3.1 0a1.6 1.6 0 1 0 -3.1 0zM141.8 264.3a1.4 1.4 0 1 0 2.7 0a1.4 1.4 0 1 0 -2.7 0zM140.1 259.5a1.0 1.0 0 1 0 2.0 0a1.0 1.0 0 1 0 -2.0 0zM141.1 263.5a1.2 1.2 0 1 0 2.5 0a1.2 1.2 0 1 0 -2.5 0zM142.2 261.0a1.3 1.3 0 1 0 2.6 0a1.3 1.3 0 1 0 -2.6 0zM134.6 266.2a1.6 1.6 0 1 0 3.2 0a1.6 1.6 0 1 0 -3.2 0zM134.3 263.8a1.2 1.2 0 1 0 2.4 0a1.2 1.2 0 1 0 -2.4 0zM139.1 267.5a0.9 0.9 0 1 0 1.7 0a0.9 0.9 0 1 0 -1.7 0zM133.4 266.1a1.3 1.3 0 1 0 2.5 0a1.3 1.3 0 1 0 -2.5 0zM137.3 264.4a1.1 1.1 0 1 0 2.2 0a1.1 1.1 0 1 0 -2.2 0zM138.7 259.1a1.3 1.3 0 1 0 2.6 0a1.3 1.3 0 1 0 -2.6 0zM142.0 262.4a1.0 1.0 0 1 0 2.1 0a1.0 1.0 0 1 0 -2.1 0zM133.4 258.9a1.4 1.4 0 1 0 2.7 0a1.4 1.4 0 1 0 -2.7 0zM143.0 259.2a0.8 0.8 0 1 0 1.6 0a0.8 0.8 0 1 0 -1.6 0zM137.2 261.7a1.3 1.3 0 1 0 2.7 0a1.3 1.3 0 1 0 -2.7 0zM140.5 258.9a1.0 1.0 0 1 0 1.9 0a1.0 1.0 0 1 0 -1.9 0zM137.3 264.3a1.5 1.5 0 1 0 2.9 0a1.5 1.5 0 1 0 -2.9 0zM137.7 259.9a1.2 1.2 0 1 0 2.5 0a1.2 1.2 0 1 0 -2.5 0zM138.9 260.2a0.9 0.9 0 1 0 1.9 0a0.9 0.9 0 1 0 -1.9 0zM144.2 261.9a1.2 1.2 0 1 0 2.4 0a1.2 1.2 0 1 0 -2.4 0zM137.1 262.5a1.0 1.0 0 1 0 2.0 0a1.0 1.0 0 1 0 -2.0 0zM143.1 264.5a1.5 1.5 0 1 0 2.9 0a1.5 1.5 0 1 0 -2.9 0zM138.8 265.0a1.1 1.1 0 1 0 2.3 0a1.1 1.1 0 1 0 -2.3 0zM138.0 267.5a1.0 1.0 0 1 0 2.0 0a1.0 1.0 0 1 0 -2.0 0zM138.4 265.9a1.5 1.5 0 1 0 3.0 0a1.5 1.5 0 1 0 -3.0 0z" fill="#000" fill-opacity="1.0" filter="url(#b3)"/>
<path d="M140.4 261.2h0.6v0.6h-0.6zM142.0 263.6h0.6v0.6h-0.6zM137.6 258.6h0.6v0.6h-0.6zM143.0 265.1h0.6v0.6h-0.6zM141.9 262.0h0.6v0.6h-0.6zM140.0 256.6h0.6v0.6h-0.6zM138.6 260.4h0.6v0.6h-0.6zM140.3 255.4h0.6v0.6h-0.6zM134.7 261.2h0.6v0.6h-0.6zM132.1 258.3h0.6v0.6h-0.6zM148.0 262.0h0.6v0.6h-0.6zM138.5 262.9h0.6v0.6h-0.6zM136.0 263.1h0.6v0.6h-0.6zM138.6 259.4h0.6v0.6h-0.6zM141.2 265.0h0.6v0.6h-0.6zM141.0 258.5h0.6v0.6h-0.6zM141.4 260.7h0.6v0.6h-0.6zM138.7 263.3h0.6v0.6h-0.6zM143.1 265.5h0.6v0.6h-0.6zM145.5 265.2h0.6v0.6h-0.6zM149.3 266.6h0.6v0.6h-0.6zM148.5 266.7h0.6v0.6h-0.6zM139.2 265.6h0.6v0.6h-0.6zM146.5 265.5h0.6v0.6h-0.6zM147.4 264.9h0.6v0.6h-0.6zM137.2 262.3h0.6v0.6h-0.6zM136.6 258.6h0.6v0.6h-0.6zM150.7 265.7h0.6v0.6h-0.6zM147.1 258.6h0.6v0.6h-0.6zM144.9 261.4h0.6v0.6h-0.6zM144.5 265.3h0.6v0.6h-0.6zM147.3 260.3h0.6v0.6h-0.6zM147.2 266.3h0.6v0.6h-0.6zM142.9 259.4h0.6v0.6h-0.6zM135.2 257.4h0.6v0.6h-0.6zM133.5 265.5h0.6v0.6h-0.6zM133.4 260.3h0.6v0.6h-0.6zM142.6 261.3h0.6v0.6h-0.6zM143.4 266.9h0.6v0.6h-0.6zM138.7 265.1h0.6v0.6h-0.6zM146.2 262.8h0.6v0.6h-0.6zM145.9 262.8h0.6v0.6h-0.6zM142.0 265.9h0.6v0.6h-0.6zM140.1 262.4h0.6v0.6h-0.6zM143.8 266.3h0.6v0.6h-0.6zM136.1 266.6h0.6v0.6h-0.6zM142.2 263.7h0.6v0.6h-0.6zM147.8 259.9h0.6v0.6h-0.6zM137.0 259.3h0.6v0.6h-0.6zM142.0 264.6h0.6v0.6h-0.6zM134.2 264.5h0.6v0.6h-0.6zM135.5 263.7h0.6v0.6h-0.6zM151.3 266.7h0.6v0.6h-0.6zM141.3 266.1h0.6v0.6h-0.6zM144.9 255.3h0.6v0.6h-0.6zM137.5 265.5h0.6v0.6h-0.6zM144.0 259.6h0.6v0.6h-0.6zM143.5 264.4h0.6v0.6h-0.6zM140.8 263.0h0.6v0.6h-0.6zM150.4 265.5h0.6v0.6h-0.6zM145.5 257.4h0.6v0.6h-0.6zM139.5 265.7h0.6v0.6h-0.6zM142.5 262.4h0.6v0.6h-0.6zM136.8 264.1h0.6v0.6h-0.6zM140.7 257.8h0.6v0.6h-0.6zM153.5 262.5h0.6v0.6h-0.6zM132.6 258.2h0.6v0.6h-0.6zM138.3 261.5h0.6v0.6h-0.6zM137.2 262.7h0.6v0.6h-0.6zM148.3 259.6h0.6v0.6h-0.6zM146.6 265.7h0.6v0.6h-0.6zM135.9 258.3h0.6v0.6h-0.6zM144.8 266.3h0.6v0.6h-0.6zM144.9 265.0h0.6v0.6h-0.6zM138.1 265.2h0.6v0.6h-0.6zM136.2 265.0h0.6v0.6h-0.6zM145.5 265.4h0.6v0.6h-0.6zM147.6 265.1h0.6v0.6h-0.6zM146.4 263.7h0.6v0.6h-0.6zM149.4 262.9h0.6v0.6h-0.6zM148.4 260.9h0.6v0.6h-0.6zM135.9 263.8h0.6v0.6h-0.6zM141.1 261.5h0.6v0.6h-0.6zM137.6 265.8h0.6v0.6h-0.6zM143.5 266.0h0.6v0.6h-0.6zM139.4 264.3h0.6v0.6h-0.6zM136.6 260.9h0.6v0.6h-0.6zM145.2 265.7h0.6v0.6h-0.6zM141.9 267.0h0.6v0.6h-0.6zM137.8 267.6h0.6v0.6h-0.6zM140.7 262.7h0.6v0.6h-0.6zM136.8 267.6h0.6v0.6h-0.6zM136.7 267.6h0.6v0.6h-0.6zM148.1 257.1h0.6v0.6h-0.6zM141.1 259.3h0.6v0.6h-0.6zM139.0 263.0h0.6v0.6h-0.6zM140.0 265.3h0.6v0.6h-0.6zM143.5 257.3h0.6v0.6h-0.6zM135.4 258.7h0.6v0.6h-0.6zM134.8 264.8h0.6v0.6h-0.6zM140.5 263.2h0.6v0.6h-0.6zM131.3 261.8h0.6v0.6h-0.6zM130.6 262.9h0.6v0.6h-0.6zM138.2 264.5h0.6v0.6h-0.6zM143.8 265.7h0.6v0.6h-0.6zM140.1 264.3h0.6v0.6h-0.6zM141.9 259.4h0.6v0.6h-0.6zM141.5 266.6h0.6v0.6h-0.6zM137.7 266.8h0.6v0.6h-0.6zM139.7 267.3h0.6v0.6h-0.6zM141.4 260.1h0.6v0.6h-0.6zM142.1 267.0h0.6v0.6h-0.6zM132.1 259.8h0.6v0.6h-0.6zM143.1 259.4h0.6v0.6h-0.6zM132.6 263.0h0.6v0.6h-0.6zM138.8 262.0h0.6v0.6h-0.6zM139.2 263.9h0.6v0.6h-0.6zM137.0 257.8h0.6v0.6h-0.6zM139.9 262.0h0.6v0.6h-0.6zM140.3 263.1h0.6v0.6h-0.6zM137.7 257.8h0.6v0.6h-0.6zM143.3 267.8h0.6v0.6h-0.6zM143.6 263.4h0.6v0.6h-0.6zM144.0 261.8h0.6v0.6h-0.6zM134.3 256.6h0.6v0.6h-0.6zM141.5 259.2h0.6v0.6h-0.6zM136.6 264.3h0.6v0.6h-0.6zM145.7 267.6h0.6v0.6h-0.6zM132.9 262.1h0.6v0.6h-0.6zM137.5 263.1h0.6v0.6h-0.6zM140.9 264.5h0.6v0.6h-0.6zM139.9 259.0h0.6v0.6h-0.6zM131.2 268.7h0.6v0.6h-0.6zM138.0 265.1h0.6v0.6h-0.6zM141.7 265.4h0.6v0.6h-0.6zM141.1 266.7h0.6v0.6h-0.6zM136.3 264.6h0.6v0.6h-0.6zM143.3 260.2h0.6v0.6h-0.6zM136.5 260.3h0.6v0.6h-0.6zM147.1 261.4h0.6v0.6h-0.6zM145.1 261.5h0.6v0.6h-0.6zM142.1 264.9h0.6v0.6h-0.6zM142.0 261.3h0.6v0.6h-0.6zM138.7 269.0h0.6v0.6h-0.6zM147.9 264.8h0.6v0.6h-0.6zM138.3 264.3h0.6v0.6h-0.6zM150.0 260.6h0.6v0.6h-0.6zM141.6 264.5h0.6v0.6h-0.6zM139.2 262.4h0.6v0.6h-0.6zM145.0 261.8h0.6v0.6h-0.6zM140.3 263.8h0.6v0.6h-0.6zM134.9 263.1h0.6v0.6h-0.6zM146.2 266.5h0.6v0.6h-0.6zM132.1 262.3h0.6v0.6h-0.6zM149.5 259.6h0.6v0.6h-0.6zM136.9 263.9h0.6v0.6h-0.6zM137.8 260.2h0.6v0.6h-0.6zM137.5 263.5h0.6v0.6h-0.6zM142.3 264.0h0.6v0.6h-0.6zM134.0 257.4h0.6v0.6h-0.6zM144.8 262.5h0.6v0.6h-0.6zM141.6 264.1h0.6v0.6h-0.6zM148.0 266.5h0.6v0.6h-0.6zM138.4 265.4h0.6v0.6h-0.6zM143.5 267.6h0.6v0.6h-0.6zM151.9 263.9h0.6v0.6h-0.6zM136.6 264.7h0.6v0.6h-0.6zM137.5 262.8h0.6v0.6h-0.6zM146.0 260.8h0.6v0.6h-0.6zM131.6 260.9h0.6v0.6h-0.6zM136.1 257.5h0.6v0.6h-0.6zM144.0 264.7h0.6v0.6h-0.6zM142.3 266.6h0.6v0.6h-0.6zM142.2 266.0h0.6v0.6h-0.6zM137.5 264.4h0.6v0.6h-0.6zM139.6 259.1h0.6v0.6h-0.6zM142.3 259.9h0.6v0.6h-0.6zM145.7 257.4h0.6v0.6h-0.6zM131.7 267.2h0.6v0.6h-0.6zM144.1 261.8h0.6v0.6h-0.6zM131.8 260.7h0.6v0.6h-0.6zM138.1 268.6h0.6v0.6h-0.6zM132.7 268.3h0.6v0.6h-0.6zM144.4 260.6h0.6v0.6h-0.6zM147.6 263.2h0.6v0.6h-0.6zM137.3 261.7h0.6v0.6h-0.6zM145.3 261.1h0.6v0.6h-0.6zM137.6 262.4h0.6v0.6h-0.6zM140.3 258.7h0.6v0.6h-0.6zM140.5 264.6h0.6v0.6h-0.6zM140.1 259.4h0.6v0.6h-0.6zM142.7 259.5h0.6v0.6h-0.6zM133.8 261.0h0.6v0.6h-0.6zM143.0 261.4h0.6v0.6h-0.6zM145.2 265.2h0.6v0.6h-0.6zM145.9 267.6h0.6v0.6h-0.6zM138.6 265.4h0.6v0.6h-0.6zM144.3 264.1h0.6v0.6h-0.6zM138.6 264.8h0.6v0.6h-0.6zM141.9 265.4h0.6v0.6h-0.6zM140.6 261.1h0.6v0.6h-0.6zM134.1 262.7h0.6v0.6h-0.6zM149.8 263.6h0.6v0.6h-0.6zM141.2 260.3h0.6v0.6h-0.6zM142.7 263.3h0.6v0.6h-0.6zM142.0 262.1h0.6v0.6h-0.6zM136.0 260.1h0.6v0.6h-0.6zM138.1 259.8h0.6v0.6h-0.6zM135.9 263.9h0.6v0.6h-0.6zM141.1 261.3h0.6v0.6h-0.6zM140.3 266.6h0.6v0.6h-0.6zM135.3 265.1h0.6v0.6h-0.6zM131.2 268.2h0.6v0.6h-0.6zM149.7 263.4h0.6v0.6h-0.6zM144.2 264.4h0.6v0.6h-0.6zM131.6 266.1h0.6v0.6h-0.6zM144.9 265.7h0.6v0.6h-0.6zM142.4 259.1h0.6v0.6h-0.6zM137.9 250.6h0.6v0.6h-0.6zM142.2 260.4h0.6v0.6h-0.6zM138.2 266.5h0.6v0.6h-0.6zM141.0 253.5h0.6v0.6h-0.6zM145.8 258.1h0.6v0.6h-0.6zM135.2 259.5h0.6v0.6h-0.6zM147.0 258.5h0.6v0.6h-0.6zM142.6 264.9h0.6v0.6h-0.6zM130.7 267.5h0.6v0.6h-0.6zM137.5 268.4h0.6v0.6h-0.6zM138.9 267.8h0.6v0.6h-0.6zM151.0 255.6h0.6v0.6h-0.6zM135.2 260.9h0.6v0.6h-0.6zM145.6 268.4h0.6v0.6h-0.6zM141.6 264.5h0.6v0.6h-0.6zM144.8 259.7h0.6v0.6h-0.6zM138.0 263.3h0.6v0.6h-0.6zM147.5 260.5h0.6v0.6h-0.6zM144.1 260.3h0.6v0.6h-0.6zM135.3 263.3h0.6v0.6h-0.6zM141.8 263.2h0.6v0.6h-0.6zM137.3 261.1h0.6v0.6h-0.6zM145.5 258.1h0.6v0.6h-0.6zM137.9 259.0h0.6v0.6h-0.6zM141.3 267.2h0.6v0.6h-0.6zM139.1 260.6h0.6v0.6h-0.6zM139.2 263.1h0.6v0.6h-0.6zM138.6 259.7h0.6v0.6h-0.6zM142.5 267.9h0.6v0.6h-0.6zM142.0 260.6h0.6v0.6h-0.6zM147.4 263.0h0.6v0.6h-0.6zM143.0 262.4h0.6v0.6h-0.6zM143.1 258.5h0.6v0.6h-0.6zM140.8 262.3h0.6v0.6h-0.6zM139.9 263.4h0.6v0.6h-0.6zM154.5 259.6h0.6v0.6h-0.6zM139.5 258.5h0.6v0.6h-0.6zM141.4 261.1h0.6v0.6h-0.6zM145.7 262.5h0.6v0.6h-0.6zM140.3 263.0h0.6v0.6h-0.6zM150.6 266.5h0.6v0.6h-0.6zM142.9 266.5h0.6v0.6h-0.6zM139.8 257.5h0.6v0.6h-0.6zM134.1 264.6h0.6v0.6h-0.6zM142.6 260.9h0.6v0.6h-0.6zM136.3 265.7h0.6v0.6h-0.6zM138.8 258.8h0.6v0.6h-0.6zM144.5 263.3h0.6v0.6h-0.6zM135.0 268.0h0.6v0.6h-0.6zM138.2 261.0h0.6v0.6h-0.6zM137.3 261.7h0.6v0.6h-0.6zM148.2 261.8h0.6v0.6h-0.6zM144.5 260.5h0.6v0.6h-0.6zM146.8 267.1h0.6v0.6h-0.6zM144.9 268.7h0.6v0.6h-0.6z" fill="#000" fill-opacity="0.6" filter="url(#b3)"/>
<path d="M154.2 256.9h0.6v0.6h-0.6zM145.9 260.7h0.6v0.6h-0.6zM157.4 262.9h0.6v0.6h-0.6zM154.4 263.2h0.6v0.6h-0.6zM151.1 262.3h0.6v0.6h-0.6zM149.8 262.6h0.6v0.6h-0.6zM156.7 267.2h0.6v0.6h-0.6zM160.8 262.2h0.6v0.6h-0.6zM150.4 261.3h0.6v0.6h-0.6zM142.7 265.2h0.6v0.6h-0.6zM157.8 263.7h0.6v0.6h-0.6zM153.2 264.5h0.6v0.6h-0.6zM158.2 266.2h0.6v0.6h-0.6zM149.2 266.5h0.6v0.6h-0.6zM146.8 266.1h0.6v0.6h-0.6zM167.7 265.5h0.6v0.6h-0.6zM153.1 267.1h0.6v0.6h-0.6zM152.5 263.0h0.6v0.6h-0.6zM150.2 262.2h0.6v0.6h-0.6zM153.8 260.6h0.6v0.6h-0.6zM159.5 263.6h0.6v0.6h-0.6zM146.2 260.4h0.6v0.6h-0.6zM152.6 261.6h0.6v0.6h-0.6zM161.3 259.6h0.6v0.6h-0.6zM153.0 262.2h0.6v0.6h-0.6zM152.1 264.3h0.6v0.6h-0.6zM156.2 261.0h0.6v0.6h-0.6zM150.0 263.7h0.6v0.6h-0.6zM152.7 261.1h0.6v0.6h-0.6zM144.0 263.5h0.6v0.6h-0.6zM150.5 264.0h0.6v0.6h-0.6zM149.4 262.4h0.6v0.6h-0.6zM151.6 257.4h0.6v0.6h-0.6zM153.2 263.4h0.6v0.6h-0.6zM152.4 262.8h0.6v0.6h-0.6zM160.9 256.9h0.6v0.6h-0.6zM147.4 260.6h0.6v0.6h-0.6zM148.6 261.1h0.6v0.6h-0.6zM145.6 261.5h0.6v0.6h-0.6zM155.7 260.6h0.6v0.6h-0.6zM156.6 264.9h0.6v0.6h-0.6zM157.5 263.2h0.6v0.6h-0.6zM142.2 262.1h0.6v0.6h-0.6zM139.2 258.2h0.6v0.6h-0.6zM156.5 254.6h0.6v0.6h-0.6zM156.6 260.8h0.6v0.6h-0.6zM156.6 266.4h0.6v0.6h-0.6zM152.6 259.6h0.6v0.6h-0.6zM156.4 258.9h0.6v0.6h-0.6zM153.1 262.3h0.6v0.6h-0.6zM159.0 257.6h0.6v0.6h-0.6zM154.1 267.8h0.6v0.6h-0.6zM152.1 267.9h0.6v0.6h-0.6zM158.2 257.9h0.6v0.6h-0.6zM156.0 263.5h0.6v0.6h-0.6zM149.1 261.9h0.6v0.6h-0.6zM142.8 267.3h0.6v0.6h-0.6zM155.8 261.6h0.6v0.6h-0.6zM157.7 266.7h0.6v0.6h-0.6zM152.3 262.3h0.6v0.6h-0.6zM156.4 262.1h0.6v0.6h-0.6zM162.8 265.5h0.6v0.6h-0.6zM154.2 261.4h0.6v0.6h-0.6zM141.3 259.4h0.6v0.6h-0.6zM165.0 262.3h0.6v0.6h-0.6zM159.9 256.9h0.6v0.6h-0.6zM146.0 265.1h0.6v0.6h-0.6zM159.3 258.4h0.6v0.6h-0.6zM144.4 259.4h0.6v0.6h-0.6zM153.6 256.2h0.6v0.6h-0.6zM162.3 259.3h0.6v0.6h-0.6zM155.0 264.8h0.6v0.6h-0.6zM152.5 262.5h0.6v0.6h-0.6zM150.7 268.1h0.6v0.6h-0.6zM159.3 262.0h0.6v0.6h-0.6zM150.3 262.4h0.6v0.6h-0.6zM140.6 261.0h0.6v0.6h-0.6zM150.1 266.3h0.6v0.6h-0.6zM155.5 259.7h0.6v0.6h-0.6zM145.1 264.3h0.6v0.6h-0.6zM155.2 264.8h0.6v0.6h-0.6zM153.2 263.5h0.6v0.6h-0.6zM153.4 267.8h0.6v0.6h-0.6zM153.0 259.7h0.6v0.6h-0.6zM158.0 264.7h0.6v0.6h-0.6zM151.3 266.3h0.6v0.6h-0.6zM156.2 260.4h0.6v0.6h-0.6zM148.2 267.1h0.6v0.6h-0.6zM158.3 259.1h0.6v0.6h-0.6zM146.6 268.0h0.6v0.6h-0.6zM168.1 265.8h0.6v0.6h-0.6zM152.7 261.5h0.6v0.6h-0.6zM157.8 266.9h0.6v0.6h-0.6zM155.3 262.0h0.6v0.6h-0.6zM145.0 258.7h0.6v0.6h-0.6zM146.7 256.9h0.6v0.6h-0.6zM155.5 261.3h0.6v0.6h-0.6zM163.0 265.5h0.6v0.6h-0.6zM153.3 268.2h0.6v0.6h-0.6zM158.2 261.8h0.6v0.6h-0.6zM153.4 260.6h0.6v0.6h-0.6zM150.2 262.4h0.6v0.6h-0.6zM150.9 261.4h0.6v0.6h-0.6zM151.9 262.8h0.6v0.6h-0.6zM160.5 262.0h0.6v0.6h-0.6zM150.9 264.2h0.6v0.6h-0.6zM154.3 259.3h0.6v0.6h-0.6zM151.5 262.2h0.6v0.6h-0.6zM148.9 264.9h0.6v0.6h-0.6zM155.0 260.9h0.6v0.6h-0.6zM159.5 263.6h0.6v0.6h-0.6zM153.3 263.3h0.6v0.6h-0.6zM157.9 264.5h0.6v0.6h-0.6zM149.1 263.5h0.6v0.6h-0.6zM152.5 261.6h0.6v0.6h-0.6zM151.3 265.7h0.6v0.6h-0.6zM149.8 265.1h0.6v0.6h-0.6zM159.3 261.5h0.6v0.6h-0.6zM153.6 265.7h0.6v0.6h-0.6zM163.4 262.2h0.6v0.6h-0.6zM152.2 263.5h0.6v0.6h-0.6zM157.1 261.4h0.6v0.6h-0.6zM158.0 263.9h0.6v0.6h-0.6zM153.4 259.8h0.6v0.6h-0.6zM157.2 256.3h0.6v0.6h-0.6zM147.7 257.4h0.6v0.6h-0.6zM151.0 261.9h0.6v0.6h-0.6zM151.1 260.6h0.6v0.6h-0.6zM157.2 256.9h0.6v0.6h-0.6zM144.6 263.4h0.6v0.6h-0.6zM159.9 263.6h0.6v0.6h-0.6zM146.4 257.2h0.6v0.6h-0.6zM156.3 263.3h0.6v0.6h-0.6zM153.5 258.7h0.6v0.6h-0.6zM139.1 264.8h0.6v0.6h-0.6zM163.0 264.9h0.6v0.6h-0.6zM156.1 263.9h0.6v0.6h-0.6zM152.0 261.7h0.6v0.6h-0.6zM153.5 260.1h0.6v0.6h-0.6zM155.1 258.9h0.6v0.6h-0.6zM152.6 267.5h0.6v0.6h-0.6zM161.5 260.1h0.6v0.6h-0.6zM157.9 264.2h0.6v0.6h-0.6zM158.5 263.8h0.6v0.6h-0.6zM151.6 265.9h0.6v0.6h-0.6zM159.1 259.1h0.6v0.6h-0.6zM153.5 261.6h0.6v0.6h-0.6zM147.3 262.8h0.6v0.6h-0.6zM151.2 256.7h0.6v0.6h-0.6zM163.9 262.8h0.6v0.6h-0.6zM152.3 263.1h0.6v0.6h-0.6zM148.0 260.1h0.6v0.6h-0.6zM162.6 261.3h0.6v0.6h-0.6zM143.6 263.5h0.6v0.6h-0.6zM158.1 260.4h0.6v0.6h-0.6zM149.7 266.2h0.6v0.6h-0.6zM158.1 258.9h0.6v0.6h-0.6zM150.6 261.4h0.6v0.6h-0.6zM152.0 258.7h0.6v0.6h-0.6zM152.0 259.4h0.6v0.6h-0.6zM157.1 263.0h0.6v0.6h-0.6zM150.3 261.6h0.6v0.6h-0.6zM150.4 265.1h0.6v0.6h-0.6zM155.8 264.3h0.6v0.6h-0.6zM141.5 264.4h0.6v0.6h-0.6zM152.5 261.2h0.6v0.6h-0.6zM145.2 265.7h0.6v0.6h-0.6zM161.6 262.5h0.6v0.6h-0.6zM152.2 260.4h0.6v0.6h-0.6zM157.7 262.7h0.6v0.6h-0.6zM149.2 266.1h0.6v0.6h-0.6zM155.9 263.3h0.6v0.6h-0.6zM152.7 261.7h0.6v0.6h-0.6zM148.6 261.0h0.6v0.6h-0.6zM150.1 265.0h0.6v0.6h-0.6zM147.7 266.7h0.6v0.6h-0.6zM159.2 260.7h0.6v0.6h-0.6zM148.8 257.6h0.6v0.6h-0.6zM157.8 264.5h0.6v0.6h-0.6zM162.1 263.3h0.6v0.6h-0.6zM155.3 261.6h0.6v0.6h-0.6zM146.2 264.3h0.6v0.6h-0.6zM151.2 262.3h0.6v0.6h-0.6zM148.8 263.9h0.6v0.6h-0.6zM143.7 258.9h0.6v0.6h-0.6zM159.0 264.2h0.6v0.6h-0.6zM147.7 263.2h0.6v0.6h-0.6zM155.1 265.4h0.6v0.6h-0.6zM159.1 265.3h0.6v0.6h-0.6zM149.9 268.0h0.6v0.6h-0.6zM153.2 264.4h0.6v0.6h-0.6zM156.4 266.7h0.6v0.6h-0.6zM159.0 257.7h0.6v0.6h-0.6zM145.2 262.1h0.6v0.6h-0.6zM148.8 265.2h0.6v0.6h-0.6zM161.5 266.2h0.6v0.6h-0.6zM147.4 264.0h0.6v0.6h-0.6zM158.3 264.5h0.6v0.6h-0.6zM157.6 263.7h0.6v0.6h-0.6zM156.3 263.4h0.6v0.6h-0.6zM150.9 262.5h0.6v0.6h-0.6zM148.0 259.7h0.6v0.6h-0.6zM153.5 260.0h0.6v0.6h-0.6zM149.7 260.6h0.6v0.6h-0.6zM146.8 254.8h0.6v0.6h-0.6zM156.6 266.3h0.6v0.6h-0.6zM154.2 260.5h0.6v0.6h-0.6zM159.3 263.5h0.6v0.6h-0.6zM145.5 262.2h0.6v0.6h-0.6zM153.3 260.0h0.6v0.6h-0.6zM156.0 258.4h0.6v0.6h-0.6zM153.1 264.5h0.6v0.6h-0.6zM142.6 264.1h0.6v0.6h-0.6zM157.8 260.1h0.6v0.6h-0.6zM146.7 261.9h0.6v0.6h-0.6zM153.0 261.9h0.6v0.6h-0.6zM151.3 259.2h0.6v0.6h-0.6zM143.0 260.4h0.6v0.6h-0.6zM158.1 264.6h0.6v0.6h-0.6zM156.9 261.9h0.6v0.6h-0.6zM149.7 261.0h0.6v0.6h-0.6zM153.9 258.5h0.6v0.6h-0.6zM154.9 263.7h0.6v0.6h-0.6zM149.6 265.0h0.6v0.6h-0.6zM156.9 256.1h0.6v0.6h-0.6zM150.7 262.1h0.6v0.6h-0.6zM140.2 264.2h0.6v0.6h-0.6zM158.2 263.9h0.6v0.6h-0.6zM152.2 266.5h0.6v0.6h-0.6zM153.4 263.3h0.6v0.6h-0.6zM155.6 265.6h0.6v0.6h-0.6zM143.7 265.0h0.6v0.6h-0.6zM154.9 266.5h0.6v0.6h-0.6zM154.1 262.2h0.6v0.6h-0.6zM149.3 262.6h0.6v0.6h-0.6zM149.8 263.9h0.6v0.6h-0.6zM153.2 260.3h0.6v0.6h-0.6zM156.7 262.3h0.6v0.6h-0.6zM150.8 266.3h0.6v0.6h-0.6zM155.4 263.7h0.6v0.6h-0.6zM148.9 266.1h0.6v0.6h-0.6zM156.2 259.1h0.6v0.6h-0.6zM151.4 266.0h0.6v0.6h-0.6zM158.2 262.2h0.6v0.6h-0.6zM154.2 263.0h0.6v0.6h-0.6zM140.2 264.5h0.6v0.6h-0.6zM160.9 260.9h0.6v0.6h-0.6zM153.6 265.2h0.6v0.6h-0.6zM154.4 265.4h0.6v0.6h-0.6zM153.2 261.8h0.6v0.6h-0.6zM149.2 262.2h0.6v0.6h-0.6zM145.9 259.1h0.6v0.6h-0.6zM153.5 259.9h0.6v0.6h-0.6zM153.7 262.2h0.6v0.6h-0.6zM152.1 264.0h0.6v0.6h-0.6zM150.4 259.6h0.6v0.6h-0.6zM151.5 261.9h0.6v0.6h-0.6z" fill="#000" fill-opacity="0.28" filter="url(#b3)"/>
</g>
<rect x="130.5" y="234.5" width="56.0" height="46.0" fill="none" stroke="#707070" stroke-width="0.8"/>
<line x1="147.5" y1="234.5" x2="147.5" y2="280.5" stroke="#8a8a8a" stroke-width="1"/>
<line x1="130.5" y1="269.3" x2="186.5" y2="269.3" stroke="#999" stroke-width="1.2"/>
<path d="M128.5 280.5H130.5M130.5 280.5V282.0M129.6 277.0H130.5M129.6 275.0H130.5M129.6 273.6H130.5M129.6 272.5H130.5M129.6 271.6H130.5M129.6 270.8H130.5M129.6 270.1H130.5M129.6 269.5H130.5M128.5 269.0H130.5M144.5 280.5V282.0M129.6 265.5H130.5M129.6 263.5H130.5M129.6 262.1H130.5M129.6 261.0H130.5M129.6 260.1H130.5M129.6 259.3H130.5M129.6 258.6H130.5M129.6 258.0H130.5M128.5 257.5H130.5M158.5 280.5V282.0M129.6 254.0H130.5M129.6 252.0H130.5M129.6 250.6H130.5M129.6 249.5H130.5M129.6 248.6H130.5M129.6 247.8H130.5M129.6 247.1H130.5M129.6 246.5H130.5M128.5 246.0H130.5M172.5 280.5V282.0M129.6 242.5H130.5M129.6 240.5H130.5M129.6 239.1H130.5M129.6 238.0H130.5M129.6 237.1H130.5M129.6 236.3H130.5M129.6 235.6H130.5M129.6 235.0H130.5M128.5 234.5H130.5M186.5 280.5V282.0" stroke="#555" stroke-width="0.5" fill="none"/>
<line x1="39.5" y1="281.7" x2="39.5" y2="249.4" stroke="#333" stroke-width="1.1"/>
<path d="M39.5 246.4l-3.2 5.6l3.2 -1.2l3.2 1.2z" fill="#000"/>
<line x1="58" y1="290.7" x2="83.5" y2="290.7" stroke="#333" stroke-width="1.1"/>
<path d="M86.5 290.7l-6.2 -3.2l1.3 3.2l-1.3 3.2z" fill="#000"/>
<path d="M184.3 190.9H190.4V254.2H184.3" stroke="#111" stroke-width="1.3" fill="none"/>
<path d="M267.4 22.6V16.0M264.6 16.0H270.2" stroke="#333" stroke-width="0.8" fill="none"/>
<rect x="262.5" y="22.6" width="9.8" height="63.2" fill="#000"/>
<rect x="276.7" y="78.6" width="9.8" height="7.2" fill="#fff" stroke="#111" stroke-width="0.8"/>
<rect x="301.2" y="79.7" width="10.2" height="6.1" fill="#000"/>
<rect x="315.4" y="86.1" width="9.7" height="0.3" fill="#fff" stroke="#111" stroke-width="0.8"/>
<path d="M345.4 33.7V28.8M342.6 28.8H348.2" stroke="#333" stroke-width="0.8" fill="none"/>
<rect x="340.8" y="33.7" width="9.2" height="52.1" fill="#000"/>
<rect x="354.9" y="79.8" width="9.5" height="6.0" fill="#fff" stroke="#111" stroke-width="0.8"/>
<path d="M254.6 7.6V85.8H372.4" stroke="#222" stroke-width="1" fill="none"/>
<line x1="251.6" y1="85.8" x2="254.6" y2="85.8" stroke="#222" stroke-width="0.8"/>
<line x1="251.6" y1="66.3" x2="254.6" y2="66.3" stroke="#222" stroke-width="0.8"/>
<line x1="251.6" y1="46.9" x2="254.6" y2="46.9" stroke="#222" stroke-width="0.8"/>
<line x1="251.6" y1="27.5" x2="254.6" y2="27.5" stroke="#222" stroke-width="0.8"/>
<line x1="251.6" y1="8.0" x2="254.6" y2="8.0" stroke="#222" stroke-width="0.8"/>
<line x1="274.3" y1="85.8" x2="274.3" y2="87.8" stroke="#222" stroke-width="0.8"/>
<line x1="313.5" y1="85.8" x2="313.5" y2="87.8" stroke="#222" stroke-width="0.8"/>
<line x1="352.8" y1="85.8" x2="352.8" y2="87.8" stroke="#222" stroke-width="0.8"/>
<path d="M408.4 11.1V8.3M405.6 8.3H411.2" stroke="#333" stroke-width="0.8" fill="none"/>
<rect x="403.2" y="11.1" width="10.3" height="74.7" fill="#000"/>
<path d="M422.6 77.0V76.5M419.8 76.5H425.4" stroke="#333" stroke-width="0.8" fill="none"/>
<rect x="417.7" y="77.4" width="9.9" height="8.4" fill="#fff" stroke="#111" stroke-width="0.8"/>
<path d="M447.1 77.2V75.4M444.3 75.4H449.9" stroke="#333" stroke-width="0.8" fill="none"/>
<rect x="442" y="77.2" width="10.2" height="8.6" fill="#000"/>
<path d="M460.8 85.3V84.9M457.9 84.9H463.6" stroke="#333" stroke-width="0.8" fill="none"/>
<rect x="455.9" y="85.7" width="9.7" height="0.3" fill="#fff" stroke="#111" stroke-width="0.8"/>
<path d="M485.8 57.1V53.2M482.9 53.2H488.6" stroke="#333" stroke-width="0.8" fill="none"/>
<rect x="480.7" y="57.1" width="10.1" height="28.7" fill="#000"/>
<rect x="495.2" y="82.3" width="9.6" height="3.5" fill="#fff" stroke="#111" stroke-width="0.8"/>
<path d="M395.6 7.5V85.8H518.8" stroke="#222" stroke-width="1" fill="none"/>
<line x1="392.6" y1="85.8" x2="395.6" y2="85.8" stroke="#222" stroke-width="0.8"/>
<line x1="392.6" y1="72.8" x2="395.6" y2="72.8" stroke="#222" stroke-width="0.8"/>
<line x1="392.6" y1="59.8" x2="395.6" y2="59.8" stroke="#222" stroke-width="0.8"/>
<line x1="392.6" y1="46.9" x2="395.6" y2="46.9" stroke="#222" stroke-width="0.8"/>
<line x1="392.6" y1="33.9" x2="395.6" y2="33.9" stroke="#222" stroke-width="0.8"/>
<line x1="392.6" y1="20.9" x2="395.6" y2="20.9" stroke="#222" stroke-width="0.8"/>
<line x1="392.6" y1="7.9" x2="395.6" y2="7.9" stroke="#222" stroke-width="0.8"/>
<line x1="415.1" y1="85.8" x2="415.1" y2="87.8" stroke="#222" stroke-width="0.8"/>
<line x1="453.9" y1="85.8" x2="453.9" y2="87.8" stroke="#222" stroke-width="0.8"/>
<line x1="492.5" y1="85.8" x2="492.5" y2="87.8" stroke="#222" stroke-width="0.8"/>
<path d="M269.2 163.0V161.0M266.4 161.0H272.1" stroke="#333" stroke-width="0.8" fill="none"/>
<rect x="264.3" y="163.0" width="9.9" height="20.8" fill="#000"/>
<path d="M283.2 174.1V171.2M280.4 171.2H286.1" stroke="#333" stroke-width="0.8" fill="none"/>
<rect x="278.29999999999995" y="174.5" width="9.9" height="9.3" fill="#fff" stroke="#111" stroke-width="0.8"/>
<path d="M308.0 112.5V110.5M305.2 110.5H310.8" stroke="#333" stroke-width="0.8" fill="none"/>
<rect x="302.8" y="112.5" width="10.3" height="71.3" fill="#000"/>
<path d="M322.4 160.5V148.2M319.6 148.2H325.2" stroke="#333" stroke-width="0.8" fill="none"/>
<rect x="317.7" y="160.9" width="9.4" height="22.9" fill="#fff" stroke="#111" stroke-width="0.8"/>
<path d="M347.1 115.0V106.1M344.2 106.1H349.9" stroke="#333" stroke-width="0.8" fill="none"/>
<rect x="342.1" y="115.0" width="9.9" height="68.8" fill="#000"/>
<path d="M361.5 154.7V152.8M358.7 152.8H364.3" stroke="#333" stroke-width="0.8" fill="none"/>
<rect x="356.7" y="155.1" width="9.5" height="28.7" fill="#fff" stroke="#111" stroke-width="0.8"/>
<path d="M256.7 105.69999999999999V183.8H374" stroke="#222" stroke-width="1" fill="none"/>
<line x1="253.7" y1="183.8" x2="256.7" y2="183.8" stroke="#222" stroke-width="0.8"/>
<line x1="253.7" y1="172.7" x2="256.7" y2="172.7" stroke="#222" stroke-width="0.8"/>
<line x1="253.7" y1="161.6" x2="256.7" y2="161.6" stroke="#222" stroke-width="0.8"/>
<line x1="253.7" y1="150.5" x2="256.7" y2="150.5" stroke="#222" stroke-width="0.8"/>
<line x1="253.7" y1="139.4" x2="256.7" y2="139.4" stroke="#222" stroke-width="0.8"/>
<line x1="253.7" y1="128.3" x2="256.7" y2="128.3" stroke="#222" stroke-width="0.8"/>
<line x1="253.7" y1="117.2" x2="256.7" y2="117.2" stroke="#222" stroke-width="0.8"/>
<line x1="253.7" y1="106.1" x2="256.7" y2="106.1" stroke="#222" stroke-width="0.8"/>
<line x1="275.5" y1="183.8" x2="275.5" y2="185.8" stroke="#222" stroke-width="0.8"/>
<line x1="315.8" y1="183.8" x2="315.8" y2="185.8" stroke="#222" stroke-width="0.8"/>
<line x1="354.3" y1="183.8" x2="354.3" y2="185.8" stroke="#222" stroke-width="0.8"/>
<rect x="416.59999999999997" y="182.6" width="9.9" height="1.2" fill="#fff" stroke="#111" stroke-width="0.8"/>
<rect x="440.6" y="152.2" width="10.0" height="31.6" fill="#000"/>
<rect x="455.5" y="175.9" width="9.7" height="7.9" fill="#fff" stroke="#111" stroke-width="0.8"/>
<rect x="480" y="106.9" width="10.1" height="76.9" fill="#000"/>
<rect x="494.79999999999995" y="165.9" width="9.5" height="17.9" fill="#fff" stroke="#111" stroke-width="0.8"/>
<path d="M394.6 105.69999999999999V183.8H511.9" stroke="#222" stroke-width="1" fill="none"/>
<line x1="391.6" y1="183.8" x2="394.6" y2="183.8" stroke="#222" stroke-width="0.8"/>
<line x1="391.6" y1="157.9" x2="394.6" y2="157.9" stroke="#222" stroke-width="0.8"/>
<line x1="391.6" y1="132.0" x2="394.6" y2="132.0" stroke="#222" stroke-width="0.8"/>
<line x1="391.6" y1="106.1" x2="394.6" y2="106.1" stroke="#222" stroke-width="0.8"/>
<line x1="414.2" y1="183.8" x2="414.2" y2="185.8" stroke="#222" stroke-width="0.8"/>
<line x1="453.5" y1="183.8" x2="453.5" y2="185.8" stroke="#222" stroke-width="0.8"/>
<line x1="492.4" y1="183.8" x2="492.4" y2="185.8" stroke="#222" stroke-width="0.8"/>
<rect x="478.7" y="10.9" width="11.5" height="3.8" fill="#000"/>
<rect x="479.1" y="20.6" width="11" height="4.5" fill="#fff" stroke="#111" stroke-width="0.8"/>
<clipPath id="cd1"><rect x="294.5" y="224.5" width="62.0" height="52.0"/></clipPath>
<g clip-path="url(#cd1)">
<ellipse cx="312" cy="251" rx="11" ry="4.8" fill="#000" fill-opacity="0.5" filter="url(#b2)"/>
<ellipse cx="310.7" cy="251" rx="7.7" ry="4.6" fill="#000" fill-opacity="1.0" filter="url(#b1)"/>
<path d="M314.4 253.0a1.3 1.3 0 1 0 2.6 0a1.3 1.3 0 1 0 -2.6 0zM313.0 250.0a1.3 1.3 0 1 0 2.6 0a1.3 1.3 0 1 0 -2.6 0zM303.2 252.8a1.0 1.0 0 1 0 2.1 0a1.0 1.0 0 1 0 -2.1 0zM303.1 251.2a1.1 1.1 0 1 0 2.2 0a1.1 1.1 0 1 0 -2.2 0zM307.5 251.4a1.6 1.6 0 1 0 3.1 0a1.6 1.6 0 1 0 -3.1 0zM305.5 251.0a0.9 0.9 0 1 0 1.9 0a0.9 0.9 0 1 0 -1.9 0zM306.8 252.0a0.9 0.9 0 1 0 1.9 0a0.9 0.9 0 1 0 -1.9 0zM307.1 252.4a1.3 1.3 0 1 0 2.6 0a1.3 1.3 0 1 0 -2.6 0zM315.7 253.8a1.5 1.5 0 1 0 2.9 0a1.5 1.5 0 1 0 -2.9 0zM313.5 251.1a1.4 1.4 0 1 0 2.8 0a1.4 1.4 0 1 0 -2.8 0zM315.6 252.1a1.6 1.6 0 1 0 3.1 0a1.6 1.6 0 1 0 -3.1 0zM312.2 251.7a1.6 1.6 0 1 0 3.1 0a1.6 1.6 0 1 0 -3.1 0zM307.9 254.2a1.4 1.4 0 1 0 2.9 0a1.4 1.4 0 1 0 -2.9 0zM314.0 251.1a1.1 1.1 0 1 0 2.1 0a1.1 1.1 0 1 0 -2.1 0zM310.1 250.3a1.3 1.3 0 1 0 2.7 0a1.3 1.3 0 1 0 -2.7 0zM314.7 251.4a1.2 1.2 0 1 0 2.4 0a1.2 1.2 0 1 0 -2.4 0zM315.7 248.4a1.5 1.5 0 1 0 2.9 0a1.5 1.5 0 1 0 -2.9 0zM308.3 249.2a1.3 1.3 0 1 0 2.5 0a1.3 1.3 0 1 0 -2.5 0zM303.6 252.5a1.6 1.6 0 1 0 3.2 0a1.6 1.6 0 1 0 -3.2 0zM308.3 250.1a1.2 1.2 0 1 0 2.5 0a1.2 1.2 0 1 0 -2.5 0zM303.2 250.2a1.1 1.1 0 1 0 2.1 0a1.1 1.1 0 1 0 -2.1 0zM304.8 252.9a1.3 1.3 0 1 0 2.6 0a1.3 1.3 0 1 0 -2.6 0zM304.6 251.1a1.0 1.0 0 1 0 2.0 0a1.0 1.0 0 1 0 -2.0 0zM312.9 252.1a1.2 1.2 0 1 0 2.4 0a1.2 1.2 0 1 0 -2.4 0zM309.1 249.0a1.1 1.1 0 1 0 2.1 0a1.1 1.1 0 1 0 -2.1 0zM316.2 249.9a1.0 1.0 0 1 0 1.9 0a1.0 1.0 0 1 0 -1.9 0zM312.0 249.6a0.8 0.8 0 1 0 1.7 0a0.8 0.8 0 1 0 -1.7 0zM310.5 248.7a1.5 1.5 0 1 0 3.1 0a1.5 1.5 0 1 0 -3.1 0zM308.6 251.2a1.1 1.1 0 1 0 2.2 0a1.1 1.1 0 1 0 -2.2 0zM308.5 249.6a1.3 1.3 0 1 0 2.7 0a1.3 1.3 0 1 0 -2.7 0zM310.7 253.9a0.8 0.8 0 1 0 1.6 0a0.8 0.8 0 1 0 -1.6 0zM308.9 249.7a1.1 1.1 0 1 0 2.2 0a1.1 1.1 0 1 0 -2.2 0zM311.6 250.8a0.9 0.9 0 1 0 1.7 0a0.9 0.9 0 1 0 -1.7 0zM315.9 250.3a1.3 1.3 0 1 0 2.5 0a1.3 1.3 0 1 0 -2.5 0zM305.2 250.6a1.3 1.3 0 1 0 2.6 0a1.3 1.3 0 1 0 -2.6 0zM310.5 250.0a1.1 1.1 0 1 0 2.2 0a1.1 1.1 0 1 0 -2.2 0zM307.6 251.0a0.9 0.9 0 1 0 1.8 0a0.9 0.9 0 1 0 -1.8 0zM302.8 247.8a1.5 1.5 0 1 0 2.9 0a1.5 1.5 0 1 0 -2.9 0zM307.7 252.7a1.6 1.6 0 1 0 3.2 0a1.6 1.6 0 1 0 -3.2 0zM312.1 248.6a0.9 0.9 0 1 0 1.7 0a0.9 0.9 0 1 0 -1.7 0zM313.9 253.4a1.1 1.1 0 1 0 2.2 0a1.1 1.1 0 1 0 -2.2 0zM308.1 250.0a1.3 1.3 0 1 0 2.7 0a1.3 1.3 0 1 0 -2.7 0zM308.0 250.9a0.9 0.9 0 1 0 1.8 0a0.9 0.9 0 1 0 -1.8 0zM309.5 253.0a1.2 1.2 0 1 0 2.5 0a1.2 1.2 0 1 0 -2.5 0zM312.1 250.6a1.0 1.0 0 1 0 1.9 0a1.0 1.0 0 1 0 -1.9 0z" fill="#000" fill-opacity="1.0" filter="url(#b3)"/>
<path d="M318.9 250.8a0.6 0.6 0 1 0 1.2 0a0.6 0.6 0 1 0 -1.2 0zM317.6 250.9a1.0 1.0 0 1 0 2.0 0a1.0 1.0 0 1 0 -2.0 0zM319.5 251.0a0.9 0.9 0 1 0 1.7 0a0.9 0.9 0 1 0 -1.7 0zM321.3 251.3a1.1 1.1 0 1 0 2.2 0a1.1 1.1 0 1 0 -2.2 0zM325.2 249.2a1.0 1.0 0 1 0 2.1 0a1.0 1.0 0 1 0 -2.1 0zM318.1 250.0a0.9 0.9 0 1 0 1.8 0a0.9 0.9 0 1 0 -1.8 0zM318.3 253.1a0.9 0.9 0 1 0 1.8 0a0.9 0.9 0 1 0 -1.8 0zM323.0 250.4a0.7 0.7 0 1 0 1.5 0a0.7 0.7 0 1 0 -1.5 0zM317.8 249.5a0.9 0.9 0 1 0 1.8 0a0.9 0.9 0 1 0 -1.8 0zM320.7 251.5a1.0 1.0 0 1 0 2.0 0a1.0 1.0 0 1 0 -2.0 0zM324.2 252.9a0.9 0.9 0 1 0 1.8 0a0.9 0.9 0 1 0 -1.8 0zM320.0 250.0a1.1 1.1 0 1 0 2.3 0a1.1 1.1 0 1 0 -2.3 0zM321.4 253.1a0.6 0.6 0 1 0 1.3 0a0.6 0.6 0 1 0 -1.3 0zM320.1 249.9a1.2 1.2 0 1 0 2.3 0a1.2 1.2 0 1 0 -2.3 0zM317.0 249.7a0.9 0.9 0 1 0 1.9 0a0.9 0.9 0 1 0 -1.9 0zM320.9 249.9a0.8 0.8 0 1 0 1.7 0a0.8 0.8 0 1 0 -1.7 0zM320.2 250.6a0.8 0.8 0 1 0 1.5 0a0.8 0.8 0 1 0 -1.5 0zM321.3 251.8a0.8 0.8 0 1 0 1.5 0a0.8 0.8 0 1 0 -1.5 0zM324.2 251.3a0.9 0.9 0 1 0 1.7 0a0.9 0.9 0 1 0 -1.7 0zM320.1 248.9a1.0 1.0 0 1 0 1.9 0a1.0 1.0 0 1 0 -1.9 0zM317.1 248.9a1.2 1.2 0 1 0 2.4 0a1.2 1.2 0 1 0 -2.4 0zM315.9 251.9a0.9 0.9 0 1 0 1.7 0a0.9 0.9 0 1 0 -1.7 0zM318.4 251.2a1.0 1.0 0 1 0 2.1 0a1.0 1.0 0 1 0 -2.1 0zM320.6 252.1a0.9 0.9 0 1 0 1.7 0a0.9 0.9 0 1 0 -1.7 0zM325.7 251.2a0.6 0.6 0 1 0 1.2 0a0.6 0.6 0 1 0 -1.2 0zM324.4 253.1a1.1 1.1 0 1 0 2.1 0a1.1 1.1 0 1 0 -2.1 0zM322.6 251.1a0.8 0.8 0 1 0 1.7 0a0.8 0.8 0 1 0 -1.7 0zM322.7 251.1a0.8 0.8 0 1 0 1.6 0a0.8 0.8 0 1 0 -1.6 0zM321.4 250.9a1.0 1.0 0 1 0 2.0 0a1.0 1.0 0 1 0 -2.0 0zM321.8 252.8a0.6 0.6 0 1 0 1.2 0a0.6 0.6 0 1 0 -1.2 0zM321.0 248.9a0.6 0.6 0 1 0 1.3 0a0.6 0.6 0 1 0 -1.3 0zM325.5 250.6a0.8 0.8 0 1 0 1.6 0a0.8 0.8 0 1 0 -1.6 0zM320.5 251.0a0.7 0.7 0 1 0 1.4 0a0.7 0.7 0 1 0 -1.4 0zM323.2 251.4a0.8 0.8 0 1 0 1.5 0a0.8 0.8 0 1 0 -1.5 0zM321.7 251.2a0.7 0.7 0 1 0 1.4 0a0.7 0.7 0 1 0 -1.4 0zM321.8 251.3a1.1 1.1 0 1 0 2.2 0a1.1 1.1 0 1 0 -2.2 0zM319.3 251.3a1.1 1.1 0 1 0 2.2 0a1.1 1.1 0 1 0 -2.2 0zM321.8 251.8a0.6 0.6 0 1 0 1.3 0a0.6 0.6 0 1 0 -1.3 0zM322.1 249.8a0.9 0.9 0 1 0 1.9 0a0.9 0.9 0 1 0 -1.9 0zM315.6 250.8a1.1 1.1 0 1 0 2.3 0a1.1 1.1 0 1 0 -2.3 0z" fill="#000" fill-opacity="0.75" filter="url(#b3)"/>
<path d="M313.7 248.1h0.6v0.6h-0.6zM310.2 249.3h0.6v0.6h-0.6zM315.9 248.7h0.6v0.6h-0.6zM316.4 251.4h0.6v0.6h-0.6zM315.9 250.3h0.6v0.6h-0.6zM323.4 256.0h0.6v0.6h-0.6zM304.9 252.4h0.6v0.6h-0.6zM308.7 252.5h0.6v0.6h-0.6zM305.8 256.2h0.6v0.6h-0.6zM302.7 251.3h0.6v0.6h-0.6zM308.3 249.8h0.6v0.6h-0.6zM321.9 247.9h0.6v0.6h-0.6zM312.6 251.6h0.6v0.6h-0.6zM311.0 249.6h0.6v0.6h-0.6zM315.8 248.9h0.6v0.6h-0.6zM307.0 250.8h0.6v0.6h-0.6zM306.9 250.3h0.6v0.6h-0.6zM318.4 251.3h0.6v0.6h-0.6zM317.3 248.3h0.6v0.6h-0.6zM300.9 252.0h0.6v0.6h-0.6zM315.2 251.5h0.6v0.6h-0.6zM310.7 251.4h0.6v0.6h-0.6zM320.0 253.4h0.6v0.6h-0.6zM303.5 251.7h0.6v0.6h-0.6zM316.4 256.0h0.6v0.6h-0.6zM316.0 249.9h0.6v0.6h-0.6zM313.1 253.2h0.6v0.6h-0.6zM310.3 253.4h0.6v0.6h-0.6zM307.7 247.1h0.6v0.6h-0.6zM317.8 249.0h0.6v0.6h-0.6zM315.0 247.7h0.6v0.6h-0.6zM314.5 251.7h0.6v0.6h-0.6zM311.7 252.2h0.6v0.6h-0.6zM311.0 254.7h0.6v0.6h-0.6zM311.2 248.3h0.6v0.6h-0.6zM303.8 250.0h0.6v0.6h-0.6zM309.1 248.6h0.6v0.6h-0.6zM307.1 253.3h0.6v0.6h-0.6zM308.9 250.3h0.6v0.6h-0.6zM305.1 251.7h0.6v0.6h-0.6zM311.8 249.0h0.6v0.6h-0.6zM320.2 250.0h0.6v0.6h-0.6zM306.7 249.0h0.6v0.6h-0.6zM313.9 253.0h0.6v0.6h-0.6zM309.2 253.6h0.6v0.6h-0.6zM312.5 251.2h0.6v0.6h-0.6zM312.2 251.0h0.6v0.6h-0.6zM309.7 253.4h0.6v0.6h-0.6zM316.6 250.8h0.6v0.6h-0.6zM309.9 253.8h0.6v0.6h-0.6zM303.6 247.3h0.6v0.6h-0.6zM310.7 250.1h0.6v0.6h-0.6zM321.5 247.9h0.6v0.6h-0.6zM319.7 253.8h0.6v0.6h-0.6zM320.7 248.5h0.6v0.6h-0.6zM315.9 250.1h0.6v0.6h-0.6zM305.1 247.7h0.6v0.6h-0.6zM315.3 248.0h0.6v0.6h-0.6zM317.6 248.6h0.6v0.6h-0.6zM301.5 255.1h0.6v0.6h-0.6zM309.3 251.6h0.6v0.6h-0.6zM316.1 249.7h0.6v0.6h-0.6zM314.7 246.0h0.6v0.6h-0.6zM313.2 247.3h0.6v0.6h-0.6zM308.5 253.7h0.6v0.6h-0.6zM303.5 253.8h0.6v0.6h-0.6zM309.1 253.5h0.6v0.6h-0.6zM311.9 249.8h0.6v0.6h-0.6zM313.2 247.9h0.6v0.6h-0.6zM307.8 247.6h0.6v0.6h-0.6zM312.0 256.2h0.6v0.6h-0.6zM307.7 249.4h0.6v0.6h-0.6zM314.5 252.1h0.6v0.6h-0.6zM316.0 251.5h0.6v0.6h-0.6zM312.4 251.5h0.6v0.6h-0.6zM314.0 251.4h0.6v0.6h-0.6zM312.0 252.1h0.6v0.6h-0.6zM310.6 252.1h0.6v0.6h-0.6zM315.5 253.8h0.6v0.6h-0.6zM305.5 253.7h0.6v0.6h-0.6zM312.5 254.6h0.6v0.6h-0.6zM310.3 253.6h0.6v0.6h-0.6zM311.5 252.1h0.6v0.6h-0.6zM315.8 251.0h0.6v0.6h-0.6zM319.2 251.1h0.6v0.6h-0.6zM313.9 251.4h0.6v0.6h-0.6zM312.0 252.7h0.6v0.6h-0.6zM308.0 252.6h0.6v0.6h-0.6zM308.0 255.0h0.6v0.6h-0.6zM302.7 254.6h0.6v0.6h-0.6zM308.0 246.0h0.6v0.6h-0.6zM306.9 251.9h0.6v0.6h-0.6zM293.6 246.6h0.6v0.6h-0.6zM318.9 252.8h0.6v0.6h-0.6zM314.7 248.2h0.6v0.6h-0.6zM325.6 257.2h0.6v0.6h-0.6zM305.6 256.0h0.6v0.6h-0.6zM308.7 251.2h0.6v0.6h-0.6zM306.9 250.6h0.6v0.6h-0.6zM307.2 255.9h0.6v0.6h-0.6zM317.5 249.1h0.6v0.6h-0.6zM306.9 247.9h0.6v0.6h-0.6zM302.4 252.3h0.6v0.6h-0.6zM297.8 246.1h0.6v0.6h-0.6zM315.3 246.1h0.6v0.6h-0.6zM317.6 251.6h0.6v0.6h-0.6zM314.3 252.7h0.6v0.6h-0.6zM321.6 253.2h0.6v0.6h-0.6zM304.6 251.9h0.6v0.6h-0.6zM315.9 247.2h0.6v0.6h-0.6zM312.5 250.5h0.6v0.6h-0.6zM316.6 252.7h0.6v0.6h-0.6zM297.6 247.3h0.6v0.6h-0.6zM309.7 252.1h0.6v0.6h-0.6zM311.6 252.3h0.6v0.6h-0.6zM311.4 247.9h0.6v0.6h-0.6zM311.5 255.2h0.6v0.6h-0.6zM308.8 252.1h0.6v0.6h-0.6zM320.2 252.9h0.6v0.6h-0.6zM315.7 247.5h0.6v0.6h-0.6zM325.5 249.4h0.6v0.6h-0.6zM314.5 251.0h0.6v0.6h-0.6zM304.8 250.9h0.6v0.6h-0.6zM309.1 252.4h0.6v0.6h-0.6zM310.0 257.8h0.6v0.6h-0.6zM305.6 251.1h0.6v0.6h-0.6zM310.9 247.0h0.6v0.6h-0.6zM314.5 246.8h0.6v0.6h-0.6zM310.0 252.7h0.6v0.6h-0.6zM302.3 250.9h0.6v0.6h-0.6zM310.1 256.4h0.6v0.6h-0.6zM314.5 252.3h0.6v0.6h-0.6zM308.9 252.0h0.6v0.6h-0.6zM314.8 252.6h0.6v0.6h-0.6zM319.1 251.2h0.6v0.6h-0.6zM308.5 250.6h0.6v0.6h-0.6zM311.2 248.4h0.6v0.6h-0.6zM300.4 249.5h0.6v0.6h-0.6zM308.8 251.0h0.6v0.6h-0.6zM309.9 252.2h0.6v0.6h-0.6zM314.6 249.8h0.6v0.6h-0.6zM317.0 252.2h0.6v0.6h-0.6zM306.5 254.8h0.6v0.6h-0.6zM315.4 251.2h0.6v0.6h-0.6zM310.4 252.1h0.6v0.6h-0.6zM299.7 250.6h0.6v0.6h-0.6zM318.1 249.5h0.6v0.6h-0.6zM319.5 251.2h0.6v0.6h-0.6zM315.6 253.5h0.6v0.6h-0.6zM301.7 246.8h0.6v0.6h-0.6zM307.6 250.2h0.6v0.6h-0.6zM319.5 253.1h0.6v0.6h-0.6zM308.6 252.7h0.6v0.6h-0.6zM303.4 250.0h0.6v0.6h-0.6zM310.8 250.8h0.6v0.6h-0.6zM315.8 247.9h0.6v0.6h-0.6zM317.2 248.3h0.6v0.6h-0.6zM309.1 249.3h0.6v0.6h-0.6zM304.1 255.8h0.6v0.6h-0.6zM306.6 256.1h0.6v0.6h-0.6zM311.1 253.8h0.6v0.6h-0.6zM319.3 250.2h0.6v0.6h-0.6zM310.7 251.0h0.6v0.6h-0.6zM309.2 251.8h0.6v0.6h-0.6zM297.3 248.2h0.6v0.6h-0.6zM310.7 256.7h0.6v0.6h-0.6zM314.6 250.3h0.6v0.6h-0.6zM318.1 248.4h0.6v0.6h-0.6zM313.0 252.2h0.6v0.6h-0.6zM302.9 247.7h0.6v0.6h-0.6zM308.4 255.1h0.6v0.6h-0.6zM309.6 250.0h0.6v0.6h-0.6zM310.2 249.0h0.6v0.6h-0.6zM314.5 253.4h0.6v0.6h-0.6zM322.6 252.1h0.6v0.6h-0.6zM327.2 252.6h0.6v0.6h-0.6zM323.2 250.6h0.6v0.6h-0.6zM297.9 246.8h0.6v0.6h-0.6zM316.7 251.7h0.6v0.6h-0.6zM308.2 251.2h0.6v0.6h-0.6zM307.5 246.7h0.6v0.6h-0.6zM309.7 251.3h0.6v0.6h-0.6zM306.1 255.3h0.6v0.6h-0.6zM317.0 250.8h0.6v0.6h-0.6zM322.8 251.4h0.6v0.6h-0.6zM311.0 250.3h0.6v0.6h-0.6zM306.2 251.0h0.6v0.6h-0.6zM318.8 250.8h0.6v0.6h-0.6zM316.8 249.9h0.6v0.6h-0.6zM307.6 253.5h0.6v0.6h-0.6zM316.3 252.4h0.6v0.6h-0.6zM310.1 252.4h0.6v0.6h-0.6zM315.3 248.2h0.6v0.6h-0.6zM310.0 247.7h0.6v0.6h-0.6zM312.2 253.0h0.6v0.6h-0.6zM314.6 254.2h0.6v0.6h-0.6zM310.5 252.2h0.6v0.6h-0.6zM312.8 249.8h0.6v0.6h-0.6zM316.4 250.7h0.6v0.6h-0.6zM304.0 244.6h0.6v0.6h-0.6zM312.0 256.1h0.6v0.6h-0.6zM308.1 253.7h0.6v0.6h-0.6zM304.8 251.9h0.6v0.6h-0.6zM307.6 247.1h0.6v0.6h-0.6zM305.2 253.6h0.6v0.6h-0.6zM316.2 248.9h0.6v0.6h-0.6zM305.4 251.5h0.6v0.6h-0.6zM314.6 254.1h0.6v0.6h-0.6zM311.1 253.4h0.6v0.6h-0.6zM315.7 250.1h0.6v0.6h-0.6zM307.4 254.2h0.6v0.6h-0.6zM302.8 248.1h0.6v0.6h-0.6zM314.6 252.4h0.6v0.6h-0.6zM312.9 252.2h0.6v0.6h-0.6zM304.0 253.6h0.6v0.6h-0.6zM313.3 249.6h0.6v0.6h-0.6zM310.6 249.4h0.6v0.6h-0.6zM308.7 251.4h0.6v0.6h-0.6zM312.3 255.6h0.6v0.6h-0.6zM310.2 248.1h0.6v0.6h-0.6zM313.6 250.2h0.6v0.6h-0.6zM309.1 254.6h0.6v0.6h-0.6zM315.7 253.0h0.6v0.6h-0.6zM308.4 251.7h0.6v0.6h-0.6zM310.8 252.9h0.6v0.6h-0.6zM306.6 250.4h0.6v0.6h-0.6zM307.0 250.1h0.6v0.6h-0.6zM309.4 246.0h0.6v0.6h-0.6zM303.6 247.8h0.6v0.6h-0.6zM309.2 251.2h0.6v0.6h-0.6zM314.5 250.0h0.6v0.6h-0.6zM319.8 252.9h0.6v0.6h-0.6zM317.0 252.7h0.6v0.6h-0.6zM309.9 251.4h0.6v0.6h-0.6zM308.9 251.4h0.6v0.6h-0.6zM308.2 246.4h0.6v0.6h-0.6zM305.3 252.6h0.6v0.6h-0.6zM305.6 253.1h0.6v0.6h-0.6zM315.5 250.6h0.6v0.6h-0.6zM310.7 250.8h0.6v0.6h-0.6zM313.1 250.6h0.6v0.6h-0.6zM306.7 252.0h0.6v0.6h-0.6zM307.4 250.5h0.6v0.6h-0.6zM314.4 253.8h0.6v0.6h-0.6zM317.4 244.9h0.6v0.6h-0.6zM307.9 252.0h0.6v0.6h-0.6zM310.3 252.1h0.6v0.6h-0.6zM318.6 247.8h0.6v0.6h-0.6zM319.5 255.2h0.6v0.6h-0.6zM304.0 251.1h0.6v0.6h-0.6zM305.2 248.0h0.6v0.6h-0.6zM312.7 253.3h0.6v0.6h-0.6zM304.0 249.9h0.6v0.6h-0.6zM310.8 249.2h0.6v0.6h-0.6zM314.3 254.5h0.6v0.6h-0.6zM297.9 254.1h0.6v0.6h-0.6zM325.2 249.3h0.6v0.6h-0.6zM323.1 250.4h0.6v0.6h-0.6zM312.0 250.2h0.6v0.6h-0.6zM314.7 246.4h0.6v0.6h-0.6zM312.8 252.1h0.6v0.6h-0.6zM314.3 250.1h0.6v0.6h-0.6zM316.5 251.7h0.6v0.6h-0.6zM308.7 252.7h0.6v0.6h-0.6zM313.9 253.5h0.6v0.6h-0.6zM312.3 250.4h0.6v0.6h-0.6zM298.4 251.8h0.6v0.6h-0.6zM312.0 250.4h0.6v0.6h-0.6zM308.2 250.3h0.6v0.6h-0.6zM317.9 255.1h0.6v0.6h-0.6zM327.7 246.7h0.6v0.6h-0.6zM312.5 251.0h0.6v0.6h-0.6zM308.6 253.1h0.6v0.6h-0.6zM321.2 254.5h0.6v0.6h-0.6zM295.6 252.6h0.6v0.6h-0.6zM317.5 251.8h0.6v0.6h-0.6zM323.3 255.1h0.6v0.6h-0.6zM313.7 250.3h0.6v0.6h-0.6zM302.4 256.3h0.6v0.6h-0.6zM306.8 249.6h0.6v0.6h-0.6zM306.6 249.2h0.6v0.6h-0.6zM312.9 250.1h0.6v0.6h-0.6zM300.5 248.5h0.6v0.6h-0.6zM316.2 251.4h0.6v0.6h-0.6zM304.9 252.7h0.6v0.6h-0.6zM315.0 248.3h0.6v0.6h-0.6zM323.5 254.2h0.6v0.6h-0.6zM315.5 255.2h0.6v0.6h-0.6zM313.5 251.8h0.6v0.6h-0.6zM308.6 248.8h0.6v0.6h-0.6zM312.6 250.3h0.6v0.6h-0.6zM313.3 251.6h0.6v0.6h-0.6zM308.3 251.5h0.6v0.6h-0.6zM314.7 253.3h0.6v0.6h-0.6zM313.2 246.6h0.6v0.6h-0.6zM307.3 252.4h0.6v0.6h-0.6zM311.0 254.8h0.6v0.6h-0.6zM305.4 253.8h0.6v0.6h-0.6zM314.5 252.2h0.6v0.6h-0.6zM310.9 250.9h0.6v0.6h-0.6zM320.1 248.1h0.6v0.6h-0.6zM309.1 251.5h0.6v0.6h-0.6zM307.8 252.6h0.6v0.6h-0.6zM307.9 253.1h0.6v0.6h-0.6zM312.7 251.7h0.6v0.6h-0.6zM314.2 251.6h0.6v0.6h-0.6zM313.4 253.4h0.6v0.6h-0.6zM313.4 252.1h0.6v0.6h-0.6zM305.2 249.4h0.6v0.6h-0.6zM309.9 254.8h0.6v0.6h-0.6zM307.8 250.7h0.6v0.6h-0.6zM316.2 248.5h0.6v0.6h-0.6zM315.7 253.3h0.6v0.6h-0.6zM316.1 251.6h0.6v0.6h-0.6zM315.7 249.4h0.6v0.6h-0.6zM310.1 251.0h0.6v0.6h-0.6zM300.9 252.8h0.6v0.6h-0.6zM316.8 249.5h0.6v0.6h-0.6zM326.9 250.4h0.6v0.6h-0.6zM319.4 254.0h0.6v0.6h-0.6z" fill="#000" fill-opacity="0.6" filter="url(#b3)"/>
<path d="M322.1 253.6h0.6v0.6h-0.6zM319.1 251.2h0.6v0.6h-0.6zM326.1 256.2h0.6v0.6h-0.6zM325.0 249.6h0.6v0.6h-0.6zM324.7 248.3h0.6v0.6h-0.6zM316.5 253.5h0.6v0.6h-0.6zM324.1 249.5h0.6v0.6h-0.6zM325.4 250.1h0.6v0.6h-0.6zM323.8 254.9h0.6v0.6h-0.6zM322.9 249.7h0.6v0.6h-0.6zM319.6 250.8h0.6v0.6h-0.6zM322.3 250.1h0.6v0.6h-0.6zM331.1 250.9h0.6v0.6h-0.6zM316.0 254.2h0.6v0.6h-0.6zM316.5 251.8h0.6v0.6h-0.6zM322.7 250.8h0.6v0.6h-0.6zM325.6 251.1h0.6v0.6h-0.6zM315.3 250.3h0.6v0.6h-0.6zM322.5 251.7h0.6v0.6h-0.6zM322.4 251.0h0.6v0.6h-0.6zM324.7 255.4h0.6v0.6h-0.6zM319.1 251.7h0.6v0.6h-0.6zM323.8 252.9h0.6v0.6h-0.6zM322.1 252.3h0.6v0.6h-0.6zM317.8 251.6h0.6v0.6h-0.6zM326.3 250.7h0.6v0.6h-0.6zM323.4 251.2h0.6v0.6h-0.6zM320.9 248.7h0.6v0.6h-0.6zM313.2 248.4h0.6v0.6h-0.6zM321.2 252.1h0.6v0.6h-0.6zM313.1 253.5h0.6v0.6h-0.6zM326.2 249.5h0.6v0.6h-0.6zM321.9 249.4h0.6v0.6h-0.6zM319.2 251.3h0.6v0.6h-0.6zM316.0 249.1h0.6v0.6h-0.6zM314.3 249.6h0.6v0.6h-0.6zM322.5 254.3h0.6v0.6h-0.6zM319.8 247.3h0.6v0.6h-0.6zM318.6 250.5h0.6v0.6h-0.6zM317.0 253.0h0.6v0.6h-0.6zM319.1 256.0h0.6v0.6h-0.6zM317.7 244.8h0.6v0.6h-0.6zM317.6 252.1h0.6v0.6h-0.6zM323.6 246.0h0.6v0.6h-0.6zM329.0 253.3h0.6v0.6h-0.6zM325.7 250.3h0.6v0.6h-0.6zM320.7 251.7h0.6v0.6h-0.6zM319.9 249.2h0.6v0.6h-0.6zM320.1 251.9h0.6v0.6h-0.6zM322.7 250.6h0.6v0.6h-0.6zM324.0 250.5h0.6v0.6h-0.6zM318.9 251.6h0.6v0.6h-0.6zM323.5 251.3h0.6v0.6h-0.6zM322.6 251.2h0.6v0.6h-0.6zM322.1 252.6h0.6v0.6h-0.6zM313.4 249.5h0.6v0.6h-0.6zM313.7 250.7h0.6v0.6h-0.6zM315.2 252.9h0.6v0.6h-0.6zM322.3 252.9h0.6v0.6h-0.6zM322.6 252.8h0.6v0.6h-0.6zM310.0 251.3h0.6v0.6h-0.6zM322.1 249.1h0.6v0.6h-0.6zM320.6 254.0h0.6v0.6h-0.6zM314.6 247.2h0.6v0.6h-0.6zM323.4 250.6h0.6v0.6h-0.6zM323.4 250.5h0.6v0.6h-0.6zM320.5 252.5h0.6v0.6h-0.6zM322.4 252.9h0.6v0.6h-0.6zM323.1 253.1h0.6v0.6h-0.6zM321.3 253.3h0.6v0.6h-0.6zM323.4 250.9h0.6v0.6h-0.6zM324.0 251.7h0.6v0.6h-0.6zM324.5 255.7h0.6v0.6h-0.6zM323.9 249.0h0.6v0.6h-0.6zM323.3 251.0h0.6v0.6h-0.6zM324.5 251.3h0.6v0.6h-0.6zM324.5 247.7h0.6v0.6h-0.6zM317.2 254.4h0.6v0.6h-0.6zM317.4 252.5h0.6v0.6h-0.6zM323.2 247.8h0.6v0.6h-0.6zM318.5 250.3h0.6v0.6h-0.6zM324.2 252.7h0.6v0.6h-0.6zM334.8 249.5h0.6v0.6h-0.6zM326.8 248.9h0.6v0.6h-0.6zM326.8 251.2h0.6v0.6h-0.6zM327.0 250.8h0.6v0.6h-0.6zM318.5 248.9h0.6v0.6h-0.6zM316.3 249.9h0.6v0.6h-0.6zM317.6 251.1h0.6v0.6h-0.6zM325.9 250.4h0.6v0.6h-0.6zM314.5 247.8h0.6v0.6h-0.6zM321.4 252.0h0.6v0.6h-0.6zM324.0 251.1h0.6v0.6h-0.6zM322.6 253.2h0.6v0.6h-0.6zM331.0 251.6h0.6v0.6h-0.6zM316.5 249.9h0.6v0.6h-0.6zM325.4 250.6h0.6v0.6h-0.6zM312.6 253.3h0.6v0.6h-0.6zM328.2 249.1h0.6v0.6h-0.6zM320.2 255.0h0.6v0.6h-0.6zM324.1 251.1h0.6v0.6h-0.6zM320.8 250.8h0.6v0.6h-0.6zM330.6 254.5h0.6v0.6h-0.6zM320.7 251.8h0.6v0.6h-0.6zM323.7 250.1h0.6v0.6h-0.6zM324.3 249.5h0.6v0.6h-0.6zM321.3 254.5h0.6v0.6h-0.6zM323.2 255.8h0.6v0.6h-0.6zM323.3 251.3h0.6v0.6h-0.6zM328.4 254.6h0.6v0.6h-0.6zM321.7 252.4h0.6v0.6h-0.6zM321.4 251.3h0.6v0.6h-0.6zM318.4 249.9h0.6v0.6h-0.6zM326.5 247.9h0.6v0.6h-0.6zM316.3 250.8h0.6v0.6h-0.6zM325.7 250.4h0.6v0.6h-0.6zM326.8 250.1h0.6v0.6h-0.6zM324.3 251.5h0.6v0.6h-0.6zM323.0 245.1h0.6v0.6h-0.6zM324.3 251.1h0.6v0.6h-0.6zM323.3 247.4h0.6v0.6h-0.6zM324.4 252.5h0.6v0.6h-0.6zM317.4 249.6h0.6v0.6h-0.6zM317.4 252.4h0.6v0.6h-0.6zM330.3 249.5h0.6v0.6h-0.6zM319.0 256.2h0.6v0.6h-0.6zM321.2 252.6h0.6v0.6h-0.6zM314.5 252.4h0.6v0.6h-0.6zM330.9 252.3h0.6v0.6h-0.6zM323.4 248.9h0.6v0.6h-0.6zM315.5 252.2h0.6v0.6h-0.6zM323.6 248.5h0.6v0.6h-0.6zM326.4 251.6h0.6v0.6h-0.6zM320.3 253.0h0.6v0.6h-0.6zM324.1 250.3h0.6v0.6h-0.6zM326.0 250.5h0.6v0.6h-0.6zM320.7 248.2h0.6v0.6h-0.6zM322.9 247.8h0.6v0.6h-0.6zM322.3 253.8h0.6v0.6h-0.6zM314.9 254.7h0.6v0.6h-0.6zM323.3 251.6h0.6v0.6h-0.6zM322.7 251.4h0.6v0.6h-0.6zM325.4 252.2h0.6v0.6h-0.6zM318.3 249.8h0.6v0.6h-0.6zM324.0 251.4h0.6v0.6h-0.6zM327.7 251.5h0.6v0.6h-0.6zM320.8 253.3h0.6v0.6h-0.6zM317.5 254.2h0.6v0.6h-0.6zM319.1 251.3h0.6v0.6h-0.6zM323.3 248.9h0.6v0.6h-0.6zM314.7 248.2h0.6v0.6h-0.6zM325.5 251.8h0.6v0.6h-0.6zM320.0 252.3h0.6v0.6h-0.6zM325.8 251.5h0.6v0.6h-0.6zM321.6 245.6h0.6v0.6h-0.6zM327.3 248.0h0.6v0.6h-0.6zM322.5 251.6h0.6v0.6h-0.6zM312.5 248.3h0.6v0.6h-0.6zM326.5 251.5h0.6v0.6h-0.6zM317.0 253.5h0.6v0.6h-0.6zM324.1 247.9h0.6v0.6h-0.6zM322.2 250.7h0.6v0.6h-0.6zM319.8 247.4h0.6v0.6h-0.6zM321.5 251.5h0.6v0.6h-0.6zM326.4 247.5h0.6v0.6h-0.6zM327.3 251.3h0.6v0.6h-0.6zM319.9 253.8h0.6v0.6h-0.6zM313.8 251.2h0.6v0.6h-0.6zM323.3 249.9h0.6v0.6h-0.6zM320.1 250.3h0.6v0.6h-0.6zM326.9 252.9h0.6v0.6h-0.6zM314.3 253.0h0.6v0.6h-0.6zM328.8 249.3h0.6v0.6h-0.6zM319.8 251.2h0.6v0.6h-0.6zM321.7 251.2h0.6v0.6h-0.6zM314.5 250.8h0.6v0.6h-0.6zM332.3 252.1h0.6v0.6h-0.6zM333.4 251.1h0.6v0.6h-0.6zM320.8 252.4h0.6v0.6h-0.6zM326.3 250.0h0.6v0.6h-0.6z" fill="#000" fill-opacity="0.55" filter="url(#b3)"/>
<path d="M296.2 251.8h0.6v0.6h-0.6zM302.6 250.9h0.6v0.6h-0.6zM301.4 250.3h0.6v0.6h-0.6zM299.6 250.2h0.6v0.6h-0.6zM302.4 248.1h0.6v0.6h-0.6zM299.1 248.3h0.6v0.6h-0.6zM299.9 251.5h0.6v0.6h-0.6zM304.5 251.7h0.6v0.6h-0.6zM302.0 250.5h0.6v0.6h-0.6zM300.4 256.6h0.6v0.6h-0.6zM297.8 254.5h0.6v0.6h-0.6zM301.6 249.8h0.6v0.6h-0.6zM301.8 254.2h0.6v0.6h-0.6zM301.3 249.6h0.6v0.6h-0.6zM298.0 250.8h0.6v0.6h-0.6zM299.6 248.1h0.6v0.6h-0.6zM296.9 253.3h0.6v0.6h-0.6zM299.7 249.3h0.6v0.6h-0.6zM305.4 250.5h0.6v0.6h-0.6zM301.2 250.9h0.6v0.6h-0.6zM307.1 252.3h0.6v0.6h-0.6zM299.4 250.8h0.6v0.6h-0.6zM302.8 251.9h0.6v0.6h-0.6zM299.7 252.3h0.6v0.6h-0.6zM301.2 250.2h0.6v0.6h-0.6zM302.5 252.7h0.6v0.6h-0.6zM305.1 252.0h0.6v0.6h-0.6zM305.0 247.7h0.6v0.6h-0.6zM300.7 250.1h0.6v0.6h-0.6zM304.9 249.7h0.6v0.6h-0.6zM302.7 250.0h0.6v0.6h-0.6zM303.3 251.3h0.6v0.6h-0.6zM305.2 251.4h0.6v0.6h-0.6zM296.8 250.7h0.6v0.6h-0.6zM300.0 249.4h0.6v0.6h-0.6zM307.6 251.4h0.6v0.6h-0.6zM301.3 251.1h0.6v0.6h-0.6zM297.5 248.6h0.6v0.6h-0.6zM305.6 252.0h0.6v0.6h-0.6zM302.0 251.0h0.6v0.6h-0.6zM302.0 251.9h0.6v0.6h-0.6zM299.1 251.4h0.6v0.6h-0.6zM300.7 253.6h0.6v0.6h-0.6zM302.3 250.7h0.6v0.6h-0.6zM300.6 251.9h0.6v0.6h-0.6zM299.5 250.7h0.6v0.6h-0.6zM301.5 249.2h0.6v0.6h-0.6zM304.4 253.6h0.6v0.6h-0.6zM301.6 252.8h0.6v0.6h-0.6zM302.5 249.3h0.6v0.6h-0.6z" fill="#000" fill-opacity="0.4" filter="url(#b3)"/>
<path d="M330.9 252.2h0.6v0.6h-0.6zM331.8 252.3h0.6v0.6h-0.6zM330.9 251.1h0.6v0.6h-0.6zM330.6 249.2h0.6v0.6h-0.6zM323.0 252.0h0.6v0.6h-0.6zM330.7 251.8h0.6v0.6h-0.6zM328.5 253.5h0.6v0.6h-0.6zM328.4 251.3h0.6v0.6h-0.6zM328.5 251.4h0.6v0.6h-0.6zM331.3 252.0h0.6v0.6h-0.6zM331.3 250.2h0.6v0.6h-0.6zM326.2 250.0h0.6v0.6h-0.6zM323.4 251.0h0.6v0.6h-0.6zM329.7 251.7h0.6v0.6h-0.6zM329.4 252.4h0.6v0.6h-0.6zM328.5 252.0h0.6v0.6h-0.6zM330.3 252.9h0.6v0.6h-0.6zM326.3 252.6h0.6v0.6h-0.6zM330.2 252.2h0.6v0.6h-0.6zM330.9 253.7h0.6v0.6h-0.6zM328.6 252.3h0.6v0.6h-0.6zM331.7 252.4h0.6v0.6h-0.6zM328.3 253.2h0.6v0.6h-0.6zM325.8 252.3h0.6v0.6h-0.6zM322.3 250.5h0.6v0.6h-0.6z" fill="#000" fill-opacity="0.4" filter="url(#b3)"/>
</g>
<rect x="294.5" y="224.5" width="62.0" height="52.0" fill="none" stroke="#707070" stroke-width="0.8"/>
<line x1="311.5" y1="224.5" x2="311.5" y2="276.5" stroke="#8a8a8a" stroke-width="1"/>
<line x1="294.5" y1="260.5" x2="356.5" y2="260.5" stroke="#999" stroke-width="1.2"/>
<path d="M292.5 276.5H294.5M294.5 276.5V278.0M293.6 272.6H294.5M293.6 270.3H294.5M293.6 268.7H294.5M293.6 267.4H294.5M293.6 266.4H294.5M293.6 265.5H294.5M293.6 264.8H294.5M293.6 264.1H294.5M292.5 263.5H294.5M310.0 276.5V278.0M293.6 259.6H294.5M293.6 257.3H294.5M293.6 255.7H294.5M293.6 254.4H294.5M293.6 253.4H294.5M293.6 252.5H294.5M293.6 251.8H294.5M293.6 251.1H294.5M292.5 250.5H294.5M325.5 276.5V278.0M293.6 246.6H294.5M293.6 244.3H294.5M293.6 242.7H294.5M293.6 241.4H294.5M293.6 240.4H294.5M293.6 239.5H294.5M293.6 238.8H294.5M293.6 238.1H294.5M292.5 237.5H294.5M341.0 276.5V278.0M293.6 233.6H294.5M293.6 231.3H294.5M293.6 229.7H294.5M293.6 228.4H294.5M293.6 227.4H294.5M293.6 226.5H294.5M293.6 225.8H294.5M293.6 225.1H294.5M292.5 224.5H294.5M356.5 276.5V278.0" stroke="#555" stroke-width="0.5" fill="none"/>
<clipPath id="cd2"><rect x="370.5" y="224.5" width="62.0" height="52.0"/></clipPath>
<g clip-path="url(#cd2)">
<ellipse cx="385.5" cy="251" rx="10" ry="4.8" fill="#000" fill-opacity="0.45" filter="url(#b2)"/>
<ellipse cx="384.6" cy="251" rx="7.1" ry="4.6" fill="#000" fill-opacity="1.0" filter="url(#b1)"/>
<path d="M383.5 254.2a1.0 1.0 0 1 0 1.9 0a1.0 1.0 0 1 0 -1.9 0zM378.4 250.0a0.8 0.8 0 1 0 1.6 0a0.8 0.8 0 1 0 -1.6 0zM382.2 252.9a0.9 0.9 0 1 0 1.8 0a0.9 0.9 0 1 0 -1.8 0zM383.3 250.0a1.1 1.1 0 1 0 2.3 0a1.1 1.1 0 1 0 -2.3 0zM385.1 253.9a1.4 1.4 0 1 0 2.7 0a1.4 1.4 0 1 0 -2.7 0zM384.2 248.6a1.3 1.3 0 1 0 2.6 0a1.3 1.3 0 1 0 -2.6 0zM385.9 249.8a1.6 1.6 0 1 0 3.1 0a1.6 1.6 0 1 0 -3.1 0zM382.0 253.0a1.5 1.5 0 1 0 3.0 0a1.5 1.5 0 1 0 -3.0 0zM386.3 252.2a1.4 1.4 0 1 0 2.8 0a1.4 1.4 0 1 0 -2.8 0zM382.6 250.8a1.1 1.1 0 1 0 2.2 0a1.1 1.1 0 1 0 -2.2 0zM385.1 249.1a1.1 1.1 0 1 0 2.1 0a1.1 1.1 0 1 0 -2.1 0zM383.6 254.2a0.8 0.8 0 1 0 1.7 0a0.8 0.8 0 1 0 -1.7 0zM383.4 249.4a1.2 1.2 0 1 0 2.4 0a1.2 1.2 0 1 0 -2.4 0zM386.1 247.9a1.4 1.4 0 1 0 2.8 0a1.4 1.4 0 1 0 -2.8 0zM383.8 252.0a1.5 1.5 0 1 0 3.0 0a1.5 1.5 0 1 0 -3.0 0zM380.5 250.4a1.1 1.1 0 1 0 2.2 0a1.1 1.1 0 1 0 -2.2 0zM377.8 253.5a1.4 1.4 0 1 0 2.8 0a1.4 1.4 0 1 0 -2.8 0zM377.4 252.3a1.4 1.4 0 1 0 2.9 0a1.4 1.4 0 1 0 -2.9 0zM382.8 252.3a1.2 1.2 0 1 0 2.4 0a1.2 1.2 0 1 0 -2.4 0zM388.8 252.1a1.1 1.1 0 1 0 2.2 0a1.1 1.1 0 1 0 -2.2 0zM377.3 253.1a1.0 1.0 0 1 0 2.0 0a1.0 1.0 0 1 0 -2.0 0zM389.0 253.8a0.8 0.8 0 1 0 1.6 0a0.8 0.8 0 1 0 -1.6 0zM387.6 249.6a0.8 0.8 0 1 0 1.7 0a0.8 0.8 0 1 0 -1.7 0zM383.8 249.4a1.1 1.1 0 1 0 2.2 0a1.1 1.1 0 1 0 -2.2 0zM384.6 250.5a1.1 1.1 0 1 0 2.1 0a1.1 1.1 0 1 0 -2.1 0zM386.9 250.0a1.3 1.3 0 1 0 2.5 0a1.3 1.3 0 1 0 -2.5 0zM389.2 252.6a1.3 1.3 0 1 0 2.6 0a1.3 1.3 0 1 0 -2.6 0zM384.6 250.3a0.9 0.9 0 1 0 1.8 0a0.9 0.9 0 1 0 -1.8 0zM382.8 254.2a0.8 0.8 0 1 0 1.7 0a0.8 0.8 0 1 0 -1.7 0zM389.4 249.3a1.1 1.1 0 1 0 2.2 0a1.1 1.1 0 1 0 -2.2 0zM379.2 252.7a1.3 1.3 0 1 0 2.5 0a1.3 1.3 0 1 0 -2.5 0zM385.3 252.9a0.9 0.9 0 1 0 1.8 0a0.9 0.9 0 1 0 -1.8 0zM385.4 250.9a1.5 1.5 0 1 0 3.0 0a1.5 1.5 0 1 0 -3.0 0zM379.2 250.8a1.1 1.1 0 1 0 2.2 0a1.1 1.1 0 1 0 -2.2 0zM386.1 249.4a0.9 0.9 0 1 0 1.8 0a0.9 0.9 0 1 0 -1.8 0zM382.2 251.5a1.0 1.0 0 1 0 2.1 0a1.0 1.0 0 1 0 -2.1 0zM382.8 254.2a1.2 1.2 0 1 0 2.3 0a1.2 1.2 0 1 0 -2.3 0zM383.4 250.6a1.1 1.1 0 1 0 2.1 0a1.1 1.1 0 1 0 -2.1 0zM384.2 248.3a1.6 1.6 0 1 0 3.1 0a1.6 1.6 0 1 0 -3.1 0zM377.7 253.5a0.9 0.9 0 1 0 1.9 0a0.9 0.9 0 1 0 -1.9 0zM379.1 250.3a1.2 1.2 0 1 0 2.3 0a1.2 1.2 0 1 0 -2.3 0zM389.2 248.5a1.3 1.3 0 1 0 2.6 0a1.3 1.3 0 1 0 -2.6 0zM386.1 250.4a1.1 1.1 0 1 0 2.1 0a1.1 1.1 0 1 0 -2.1 0zM385.9 250.8a1.6 1.6 0 1 0 3.2 0a1.6 1.6 0 1 0 -3.2 0zM385.8 251.7a1.3 1.3 0 1 0 2.6 0a1.3 1.3 0 1 0 -2.6 0z" fill="#000" fill-opacity="1.0" filter="url(#b3)"/>
<path d="M394.2 250.8a0.6 0.6 0 1 0 1.2 0a0.6 0.6 0 1 0 -1.2 0zM395.3 251.1a0.8 0.8 0 1 0 1.6 0a0.8 0.8 0 1 0 -1.6 0zM393.7 251.6a0.9 0.9 0 1 0 1.8 0a0.9 0.9 0 1 0 -1.8 0zM397.9 252.9a1.0 1.0 0 1 0 2.0 0a1.0 1.0 0 1 0 -2.0 0zM397.9 249.3a1.0 1.0 0 1 0 2.1 0a1.0 1.0 0 1 0 -2.1 0zM395.5 250.3a0.5 0.5 0 1 0 1.0 0a0.5 0.5 0 1 0 -1.0 0zM394.0 251.1a0.7 0.7 0 1 0 1.4 0a0.7 0.7 0 1 0 -1.4 0zM390.0 251.8a0.7 0.7 0 1 0 1.5 0a0.7 0.7 0 1 0 -1.5 0zM395.9 251.6a0.9 0.9 0 1 0 1.8 0a0.9 0.9 0 1 0 -1.8 0zM393.3 250.8a0.8 0.8 0 1 0 1.5 0a0.8 0.8 0 1 0 -1.5 0zM393.5 250.3a0.7 0.7 0 1 0 1.4 0a0.7 0.7 0 1 0 -1.4 0zM395.0 249.1a0.7 0.7 0 1 0 1.3 0a0.7 0.7 0 1 0 -1.3 0zM395.2 251.4a1.0 1.0 0 1 0 1.9 0a1.0 1.0 0 1 0 -1.9 0zM393.8 250.3a0.7 0.7 0 1 0 1.4 0a0.7 0.7 0 1 0 -1.4 0zM391.1 251.7a0.7 0.7 0 1 0 1.4 0a0.7 0.7 0 1 0 -1.4 0zM396.2 251.3a0.8 0.8 0 1 0 1.7 0a0.8 0.8 0 1 0 -1.7 0zM393.7 251.0a1.0 1.0 0 1 0 2.0 0a1.0 1.0 0 1 0 -2.0 0zM392.0 251.4a1.0 1.0 0 1 0 2.0 0a1.0 1.0 0 1 0 -2.0 0zM395.5 251.0a0.8 0.8 0 1 0 1.5 0a0.8 0.8 0 1 0 -1.5 0zM392.3 252.8a0.5 0.5 0 1 0 1.0 0a0.5 0.5 0 1 0 -1.0 0zM392.8 250.9a0.5 0.5 0 1 0 1.0 0a0.5 0.5 0 1 0 -1.0 0zM394.2 251.5a0.6 0.6 0 1 0 1.1 0a0.6 0.6 0 1 0 -1.1 0zM389.0 252.9a1.1 1.1 0 1 0 2.2 0a1.1 1.1 0 1 0 -2.2 0zM393.7 251.9a0.7 0.7 0 1 0 1.5 0a0.7 0.7 0 1 0 -1.5 0zM395.3 252.8a0.8 0.8 0 1 0 1.6 0a0.8 0.8 0 1 0 -1.6 0zM391.8 250.1a0.6 0.6 0 1 0 1.3 0a0.6 0.6 0 1 0 -1.3 0zM394.8 251.5a0.7 0.7 0 1 0 1.5 0a0.7 0.7 0 1 0 -1.5 0zM393.1 251.0a0.8 0.8 0 1 0 1.5 0a0.8 0.8 0 1 0 -1.5 0z" fill="#000" fill-opacity="0.6" filter="url(#b3)"/>
<path d="M385.9 254.8h0.6v0.6h-0.6zM390.3 250.0h0.6v0.6h-0.6zM391.5 252.3h0.6v0.6h-0.6zM380.3 249.6h0.6v0.6h-0.6zM375.5 249.2h0.6v0.6h-0.6zM385.4 253.4h0.6v0.6h-0.6zM385.0 250.1h0.6v0.6h-0.6zM383.7 249.6h0.6v0.6h-0.6zM383.0 255.4h0.6v0.6h-0.6zM385.8 248.4h0.6v0.6h-0.6zM384.8 249.4h0.6v0.6h-0.6zM379.6 249.0h0.6v0.6h-0.6zM394.8 249.0h0.6v0.6h-0.6zM381.0 250.7h0.6v0.6h-0.6zM391.0 256.5h0.6v0.6h-0.6zM388.4 252.2h0.6v0.6h-0.6zM383.4 250.7h0.6v0.6h-0.6zM392.6 249.5h0.6v0.6h-0.6zM388.7 248.9h0.6v0.6h-0.6zM384.6 250.7h0.6v0.6h-0.6zM389.9 246.6h0.6v0.6h-0.6zM377.1 251.1h0.6v0.6h-0.6zM385.9 253.0h0.6v0.6h-0.6zM377.6 253.5h0.6v0.6h-0.6zM388.3 250.6h0.6v0.6h-0.6zM392.6 249.7h0.6v0.6h-0.6zM391.0 254.4h0.6v0.6h-0.6zM384.6 251.6h0.6v0.6h-0.6zM382.9 251.7h0.6v0.6h-0.6zM387.8 250.0h0.6v0.6h-0.6zM385.1 252.0h0.6v0.6h-0.6zM378.6 251.3h0.6v0.6h-0.6zM386.0 254.9h0.6v0.6h-0.6zM387.8 250.4h0.6v0.6h-0.6zM384.7 252.7h0.6v0.6h-0.6zM380.0 252.3h0.6v0.6h-0.6zM380.9 253.6h0.6v0.6h-0.6zM390.9 249.2h0.6v0.6h-0.6zM389.6 253.1h0.6v0.6h-0.6zM378.8 250.3h0.6v0.6h-0.6zM384.8 253.4h0.6v0.6h-0.6zM381.7 253.9h0.6v0.6h-0.6zM390.8 250.8h0.6v0.6h-0.6zM383.8 251.7h0.6v0.6h-0.6zM387.6 252.4h0.6v0.6h-0.6zM377.8 249.8h0.6v0.6h-0.6zM377.4 254.0h0.6v0.6h-0.6zM390.1 250.8h0.6v0.6h-0.6zM388.8 248.5h0.6v0.6h-0.6zM385.3 252.4h0.6v0.6h-0.6zM376.9 251.3h0.6v0.6h-0.6zM379.1 253.5h0.6v0.6h-0.6zM384.7 250.3h0.6v0.6h-0.6zM379.7 253.6h0.6v0.6h-0.6zM386.0 249.8h0.6v0.6h-0.6zM382.2 249.2h0.6v0.6h-0.6zM391.5 250.1h0.6v0.6h-0.6zM394.5 250.2h0.6v0.6h-0.6zM380.4 250.5h0.6v0.6h-0.6zM384.6 253.0h0.6v0.6h-0.6zM398.1 255.6h0.6v0.6h-0.6zM388.7 247.8h0.6v0.6h-0.6zM393.4 255.6h0.6v0.6h-0.6zM377.5 250.6h0.6v0.6h-0.6zM387.5 256.4h0.6v0.6h-0.6zM390.4 251.6h0.6v0.6h-0.6zM373.2 253.7h0.6v0.6h-0.6zM378.7 249.8h0.6v0.6h-0.6zM377.7 252.5h0.6v0.6h-0.6zM395.8 251.7h0.6v0.6h-0.6zM390.1 249.5h0.6v0.6h-0.6zM378.8 251.9h0.6v0.6h-0.6zM376.2 249.1h0.6v0.6h-0.6zM385.8 248.7h0.6v0.6h-0.6zM387.8 256.7h0.6v0.6h-0.6zM389.8 254.5h0.6v0.6h-0.6zM380.9 250.6h0.6v0.6h-0.6zM385.0 252.4h0.6v0.6h-0.6zM379.2 249.4h0.6v0.6h-0.6zM390.7 252.7h0.6v0.6h-0.6zM394.7 255.2h0.6v0.6h-0.6zM387.5 249.6h0.6v0.6h-0.6zM381.7 248.8h0.6v0.6h-0.6zM390.0 253.6h0.6v0.6h-0.6zM393.1 249.9h0.6v0.6h-0.6zM392.0 249.8h0.6v0.6h-0.6zM385.5 249.8h0.6v0.6h-0.6zM387.7 251.6h0.6v0.6h-0.6zM385.7 245.7h0.6v0.6h-0.6zM387.6 253.5h0.6v0.6h-0.6zM390.3 248.1h0.6v0.6h-0.6zM374.3 254.4h0.6v0.6h-0.6zM385.3 250.2h0.6v0.6h-0.6zM379.5 249.4h0.6v0.6h-0.6zM379.2 249.3h0.6v0.6h-0.6zM387.6 246.8h0.6v0.6h-0.6zM394.3 254.2h0.6v0.6h-0.6zM375.8 251.6h0.6v0.6h-0.6zM386.1 253.3h0.6v0.6h-0.6zM368.4 254.2h0.6v0.6h-0.6zM393.1 249.7h0.6v0.6h-0.6zM382.9 253.4h0.6v0.6h-0.6zM387.0 255.4h0.6v0.6h-0.6zM378.7 248.0h0.6v0.6h-0.6zM384.1 251.3h0.6v0.6h-0.6zM382.4 252.6h0.6v0.6h-0.6zM381.5 252.5h0.6v0.6h-0.6zM378.9 255.1h0.6v0.6h-0.6zM389.8 251.5h0.6v0.6h-0.6zM380.8 250.2h0.6v0.6h-0.6zM380.1 247.6h0.6v0.6h-0.6zM379.8 254.0h0.6v0.6h-0.6zM383.2 253.5h0.6v0.6h-0.6zM386.0 249.9h0.6v0.6h-0.6zM378.9 250.2h0.6v0.6h-0.6zM385.3 249.2h0.6v0.6h-0.6zM381.3 248.4h0.6v0.6h-0.6zM392.6 247.3h0.6v0.6h-0.6zM387.6 248.1h0.6v0.6h-0.6zM383.0 255.6h0.6v0.6h-0.6zM381.0 252.2h0.6v0.6h-0.6zM379.1 255.5h0.6v0.6h-0.6zM392.0 254.8h0.6v0.6h-0.6zM381.0 247.2h0.6v0.6h-0.6zM378.3 247.3h0.6v0.6h-0.6zM391.3 251.7h0.6v0.6h-0.6zM383.9 249.0h0.6v0.6h-0.6zM387.3 250.3h0.6v0.6h-0.6zM382.1 251.7h0.6v0.6h-0.6zM379.3 247.4h0.6v0.6h-0.6zM390.7 255.4h0.6v0.6h-0.6zM374.5 252.4h0.6v0.6h-0.6zM376.8 249.5h0.6v0.6h-0.6zM382.9 253.4h0.6v0.6h-0.6zM375.7 254.7h0.6v0.6h-0.6zM384.9 255.2h0.6v0.6h-0.6zM380.3 245.6h0.6v0.6h-0.6zM389.1 248.4h0.6v0.6h-0.6zM398.4 251.9h0.6v0.6h-0.6zM390.6 248.4h0.6v0.6h-0.6zM384.3 251.6h0.6v0.6h-0.6zM375.0 247.5h0.6v0.6h-0.6zM385.9 252.3h0.6v0.6h-0.6zM382.3 256.0h0.6v0.6h-0.6zM392.8 246.2h0.6v0.6h-0.6zM381.6 248.1h0.6v0.6h-0.6zM378.9 249.8h0.6v0.6h-0.6zM374.2 251.9h0.6v0.6h-0.6zM391.8 254.4h0.6v0.6h-0.6zM375.7 251.7h0.6v0.6h-0.6zM387.6 249.9h0.6v0.6h-0.6zM394.5 252.7h0.6v0.6h-0.6zM392.0 251.3h0.6v0.6h-0.6zM388.4 253.0h0.6v0.6h-0.6zM379.5 246.7h0.6v0.6h-0.6zM385.1 248.5h0.6v0.6h-0.6zM390.0 248.3h0.6v0.6h-0.6zM387.6 247.7h0.6v0.6h-0.6zM395.7 251.6h0.6v0.6h-0.6zM378.3 251.0h0.6v0.6h-0.6zM385.6 244.8h0.6v0.6h-0.6zM378.7 251.9h0.6v0.6h-0.6zM380.2 250.1h0.6v0.6h-0.6zM392.8 254.1h0.6v0.6h-0.6zM385.8 252.1h0.6v0.6h-0.6zM393.7 252.0h0.6v0.6h-0.6zM376.7 251.6h0.6v0.6h-0.6zM378.0 249.0h0.6v0.6h-0.6zM385.1 250.9h0.6v0.6h-0.6zM384.3 252.9h0.6v0.6h-0.6zM383.5 251.6h0.6v0.6h-0.6zM388.9 249.7h0.6v0.6h-0.6zM383.4 250.2h0.6v0.6h-0.6zM378.6 248.9h0.6v0.6h-0.6zM387.3 251.3h0.6v0.6h-0.6zM376.8 252.8h0.6v0.6h-0.6zM388.9 253.3h0.6v0.6h-0.6zM391.6 251.3h0.6v0.6h-0.6zM388.1 250.5h0.6v0.6h-0.6zM379.3 250.8h0.6v0.6h-0.6zM387.3 251.7h0.6v0.6h-0.6zM381.4 249.2h0.6v0.6h-0.6zM381.5 250.0h0.6v0.6h-0.6zM383.2 252.3h0.6v0.6h-0.6zM384.2 245.5h0.6v0.6h-0.6zM388.8 249.8h0.6v0.6h-0.6zM395.5 255.6h0.6v0.6h-0.6zM390.3 250.5h0.6v0.6h-0.6zM384.4 247.4h0.6v0.6h-0.6zM392.8 249.8h0.6v0.6h-0.6zM390.4 252.0h0.6v0.6h-0.6zM395.2 251.5h0.6v0.6h-0.6zM385.1 249.8h0.6v0.6h-0.6zM375.8 252.1h0.6v0.6h-0.6zM381.0 253.5h0.6v0.6h-0.6zM391.5 251.7h0.6v0.6h-0.6zM397.4 252.0h0.6v0.6h-0.6zM389.5 249.2h0.6v0.6h-0.6zM388.7 250.8h0.6v0.6h-0.6zM392.8 250.9h0.6v0.6h-0.6zM373.0 253.3h0.6v0.6h-0.6zM391.2 248.0h0.6v0.6h-0.6zM384.8 252.0h0.6v0.6h-0.6zM389.3 248.7h0.6v0.6h-0.6zM380.6 249.8h0.6v0.6h-0.6zM382.3 249.5h0.6v0.6h-0.6zM386.0 247.6h0.6v0.6h-0.6zM387.1 248.6h0.6v0.6h-0.6zM382.0 249.4h0.6v0.6h-0.6zM389.3 251.4h0.6v0.6h-0.6zM382.0 251.9h0.6v0.6h-0.6zM379.4 251.6h0.6v0.6h-0.6zM385.9 251.1h0.6v0.6h-0.6zM377.9 251.9h0.6v0.6h-0.6zM388.0 252.0h0.6v0.6h-0.6zM382.4 253.6h0.6v0.6h-0.6zM394.8 254.0h0.6v0.6h-0.6zM386.5 255.2h0.6v0.6h-0.6zM380.8 246.7h0.6v0.6h-0.6zM380.2 249.3h0.6v0.6h-0.6zM381.5 250.7h0.6v0.6h-0.6zM386.6 250.2h0.6v0.6h-0.6zM379.4 250.2h0.6v0.6h-0.6zM387.5 248.5h0.6v0.6h-0.6zM377.1 249.9h0.6v0.6h-0.6zM383.0 259.2h0.6v0.6h-0.6zM386.4 249.5h0.6v0.6h-0.6zM383.1 249.4h0.6v0.6h-0.6zM388.9 256.4h0.6v0.6h-0.6zM387.3 249.6h0.6v0.6h-0.6zM386.1 257.6h0.6v0.6h-0.6zM380.1 249.4h0.6v0.6h-0.6zM382.2 249.9h0.6v0.6h-0.6zM372.2 248.4h0.6v0.6h-0.6zM383.3 252.9h0.6v0.6h-0.6zM379.4 248.2h0.6v0.6h-0.6zM383.1 247.7h0.6v0.6h-0.6zM374.5 251.1h0.6v0.6h-0.6zM386.8 249.9h0.6v0.6h-0.6zM387.2 252.3h0.6v0.6h-0.6zM389.2 250.4h0.6v0.6h-0.6zM387.7 249.6h0.6v0.6h-0.6zM385.9 253.1h0.6v0.6h-0.6zM394.2 252.1h0.6v0.6h-0.6zM382.3 249.6h0.6v0.6h-0.6zM378.6 252.9h0.6v0.6h-0.6zM391.6 249.1h0.6v0.6h-0.6zM382.5 250.6h0.6v0.6h-0.6zM376.9 248.0h0.6v0.6h-0.6zM387.8 249.3h0.6v0.6h-0.6zM388.1 251.9h0.6v0.6h-0.6zM392.4 249.3h0.6v0.6h-0.6zM392.6 249.9h0.6v0.6h-0.6zM385.1 254.2h0.6v0.6h-0.6zM382.2 248.2h0.6v0.6h-0.6zM388.7 250.2h0.6v0.6h-0.6zM376.4 254.2h0.6v0.6h-0.6zM381.2 253.0h0.6v0.6h-0.6zM384.5 249.0h0.6v0.6h-0.6zM385.5 247.6h0.6v0.6h-0.6zM391.0 248.5h0.6v0.6h-0.6zM385.2 257.0h0.6v0.6h-0.6zM383.6 251.0h0.6v0.6h-0.6zM377.7 254.9h0.6v0.6h-0.6zM386.2 251.5h0.6v0.6h-0.6zM377.1 250.0h0.6v0.6h-0.6zM384.1 249.9h0.6v0.6h-0.6zM381.3 245.5h0.6v0.6h-0.6zM379.0 256.3h0.6v0.6h-0.6zM386.9 253.1h0.6v0.6h-0.6zM378.3 254.2h0.6v0.6h-0.6zM382.2 250.1h0.6v0.6h-0.6zM385.8 250.7h0.6v0.6h-0.6zM388.4 248.3h0.6v0.6h-0.6zM385.5 248.1h0.6v0.6h-0.6zM397.6 247.1h0.6v0.6h-0.6zM392.3 254.0h0.6v0.6h-0.6zM383.7 250.6h0.6v0.6h-0.6zM384.1 252.2h0.6v0.6h-0.6zM388.0 252.1h0.6v0.6h-0.6zM389.1 251.8h0.6v0.6h-0.6zM380.2 252.5h0.6v0.6h-0.6zM381.8 248.4h0.6v0.6h-0.6zM386.9 250.5h0.6v0.6h-0.6zM370.8 253.0h0.6v0.6h-0.6zM385.0 252.1h0.6v0.6h-0.6zM377.9 250.4h0.6v0.6h-0.6zM381.5 250.8h0.6v0.6h-0.6zM391.0 248.7h0.6v0.6h-0.6zM382.8 250.0h0.6v0.6h-0.6zM386.7 247.1h0.6v0.6h-0.6zM388.4 249.5h0.6v0.6h-0.6zM392.5 254.0h0.6v0.6h-0.6zM383.2 249.4h0.6v0.6h-0.6zM382.5 249.2h0.6v0.6h-0.6zM390.1 255.8h0.6v0.6h-0.6zM378.1 249.0h0.6v0.6h-0.6zM385.6 251.5h0.6v0.6h-0.6zM387.2 247.8h0.6v0.6h-0.6zM389.2 250.1h0.6v0.6h-0.6zM388.2 250.4h0.6v0.6h-0.6zM377.3 253.2h0.6v0.6h-0.6zM383.7 249.5h0.6v0.6h-0.6zM377.5 250.0h0.6v0.6h-0.6zM391.5 254.0h0.6v0.6h-0.6zM388.7 249.6h0.6v0.6h-0.6zM385.7 251.6h0.6v0.6h-0.6zM381.7 250.1h0.6v0.6h-0.6zM386.1 248.6h0.6v0.6h-0.6zM383.5 248.2h0.6v0.6h-0.6zM381.4 249.7h0.6v0.6h-0.6zM387.0 252.4h0.6v0.6h-0.6zM381.1 251.3h0.6v0.6h-0.6zM392.8 245.6h0.6v0.6h-0.6zM384.2 247.3h0.6v0.6h-0.6zM391.5 252.2h0.6v0.6h-0.6zM387.6 251.8h0.6v0.6h-0.6zM376.0 253.9h0.6v0.6h-0.6zM383.4 250.6h0.6v0.6h-0.6zM376.9 251.2h0.6v0.6h-0.6z" fill="#000" fill-opacity="0.6" filter="url(#b3)"/>
<path d="M387.6 248.0h0.6v0.6h-0.6zM405.3 250.5h0.6v0.6h-0.6zM405.0 253.7h0.6v0.6h-0.6zM400.6 247.2h0.6v0.6h-0.6zM402.3 251.2h0.6v0.6h-0.6zM392.4 255.0h0.6v0.6h-0.6zM398.8 252.6h0.6v0.6h-0.6zM390.2 250.4h0.6v0.6h-0.6zM397.8 250.8h0.6v0.6h-0.6zM386.4 251.3h0.6v0.6h-0.6zM394.7 250.4h0.6v0.6h-0.6zM396.4 250.0h0.6v0.6h-0.6zM400.9 247.7h0.6v0.6h-0.6zM391.7 252.0h0.6v0.6h-0.6zM399.3 254.0h0.6v0.6h-0.6zM399.5 248.7h0.6v0.6h-0.6zM398.9 250.3h0.6v0.6h-0.6zM401.1 252.9h0.6v0.6h-0.6zM391.1 250.5h0.6v0.6h-0.6zM395.7 248.7h0.6v0.6h-0.6zM388.2 250.3h0.6v0.6h-0.6zM398.2 253.7h0.6v0.6h-0.6zM397.0 251.4h0.6v0.6h-0.6zM393.1 253.6h0.6v0.6h-0.6zM388.9 252.0h0.6v0.6h-0.6zM399.7 253.6h0.6v0.6h-0.6zM391.3 249.2h0.6v0.6h-0.6zM393.3 252.5h0.6v0.6h-0.6zM397.0 250.9h0.6v0.6h-0.6zM399.0 250.9h0.6v0.6h-0.6zM394.1 254.2h0.6v0.6h-0.6zM393.3 251.6h0.6v0.6h-0.6zM391.8 251.9h0.6v0.6h-0.6zM392.3 252.4h0.6v0.6h-0.6zM394.0 250.9h0.6v0.6h-0.6zM405.2 252.3h0.6v0.6h-0.6zM399.2 250.3h0.6v0.6h-0.6zM393.5 252.5h0.6v0.6h-0.6zM398.7 251.8h0.6v0.6h-0.6zM399.9 246.9h0.6v0.6h-0.6zM395.4 253.2h0.6v0.6h-0.6zM397.8 253.2h0.6v0.6h-0.6zM390.8 252.0h0.6v0.6h-0.6zM391.5 248.0h0.6v0.6h-0.6zM402.7 252.4h0.6v0.6h-0.6zM401.8 249.7h0.6v0.6h-0.6zM394.6 249.7h0.6v0.6h-0.6zM400.5 250.0h0.6v0.6h-0.6zM392.4 250.3h0.6v0.6h-0.6zM392.8 249.8h0.6v0.6h-0.6zM403.0 248.9h0.6v0.6h-0.6zM391.1 248.4h0.6v0.6h-0.6zM400.1 249.3h0.6v0.6h-0.6zM398.3 253.7h0.6v0.6h-0.6zM396.8 254.5h0.6v0.6h-0.6zM392.4 255.7h0.6v0.6h-0.6zM398.8 248.3h0.6v0.6h-0.6zM397.7 250.3h0.6v0.6h-0.6zM401.5 248.6h0.6v0.6h-0.6zM399.2 248.1h0.6v0.6h-0.6zM397.5 247.8h0.6v0.6h-0.6zM384.0 251.8h0.6v0.6h-0.6zM389.6 253.2h0.6v0.6h-0.6zM395.4 249.8h0.6v0.6h-0.6zM399.6 254.6h0.6v0.6h-0.6zM393.1 249.7h0.6v0.6h-0.6zM395.2 248.8h0.6v0.6h-0.6zM393.2 249.0h0.6v0.6h-0.6zM401.8 248.9h0.6v0.6h-0.6zM401.0 253.1h0.6v0.6h-0.6zM393.6 250.8h0.6v0.6h-0.6zM390.7 254.0h0.6v0.6h-0.6zM392.5 251.4h0.6v0.6h-0.6zM392.9 251.0h0.6v0.6h-0.6zM397.6 251.9h0.6v0.6h-0.6zM399.8 251.1h0.6v0.6h-0.6zM397.5 248.0h0.6v0.6h-0.6zM393.2 247.5h0.6v0.6h-0.6zM398.9 251.0h0.6v0.6h-0.6zM389.2 249.8h0.6v0.6h-0.6zM396.7 253.8h0.6v0.6h-0.6zM392.6 251.7h0.6v0.6h-0.6zM389.4 255.5h0.6v0.6h-0.6zM389.7 252.5h0.6v0.6h-0.6zM394.4 249.5h0.6v0.6h-0.6zM400.4 254.8h0.6v0.6h-0.6zM399.3 251.1h0.6v0.6h-0.6zM399.5 249.8h0.6v0.6h-0.6zM393.2 248.8h0.6v0.6h-0.6zM393.0 250.4h0.6v0.6h-0.6zM395.8 249.5h0.6v0.6h-0.6zM392.6 246.0h0.6v0.6h-0.6zM401.9 252.7h0.6v0.6h-0.6zM397.2 251.3h0.6v0.6h-0.6zM389.3 248.6h0.6v0.6h-0.6zM393.3 250.0h0.6v0.6h-0.6zM396.7 249.8h0.6v0.6h-0.6zM384.4 252.3h0.6v0.6h-0.6zM392.4 251.8h0.6v0.6h-0.6zM394.2 252.3h0.6v0.6h-0.6zM397.9 250.0h0.6v0.6h-0.6zM396.1 251.1h0.6v0.6h-0.6zM395.1 248.5h0.6v0.6h-0.6zM392.0 251.0h0.6v0.6h-0.6zM393.5 247.0h0.6v0.6h-0.6zM398.4 251.0h0.6v0.6h-0.6zM393.7 249.2h0.6v0.6h-0.6zM391.5 251.0h0.6v0.6h-0.6zM401.0 253.2h0.6v0.6h-0.6zM395.0 251.2h0.6v0.6h-0.6zM395.9 252.5h0.6v0.6h-0.6zM399.6 252.6h0.6v0.6h-0.6zM394.8 252.9h0.6v0.6h-0.6zM386.4 248.9h0.6v0.6h-0.6zM396.9 252.5h0.6v0.6h-0.6zM391.5 252.8h0.6v0.6h-0.6zM393.9 250.7h0.6v0.6h-0.6zM394.6 250.1h0.6v0.6h-0.6zM399.5 250.2h0.6v0.6h-0.6zM391.8 252.4h0.6v0.6h-0.6zM389.9 250.9h0.6v0.6h-0.6zM391.4 250.7h0.6v0.6h-0.6zM388.1 250.1h0.6v0.6h-0.6zM387.5 251.4h0.6v0.6h-0.6zM395.6 249.1h0.6v0.6h-0.6zM388.5 249.3h0.6v0.6h-0.6zM390.9 253.7h0.6v0.6h-0.6zM398.2 249.6h0.6v0.6h-0.6zM398.3 251.5h0.6v0.6h-0.6zM389.5 247.9h0.6v0.6h-0.6zM391.7 248.5h0.6v0.6h-0.6zM391.5 249.8h0.6v0.6h-0.6zM396.3 247.5h0.6v0.6h-0.6zM403.5 250.0h0.6v0.6h-0.6zM390.4 249.4h0.6v0.6h-0.6zM390.4 253.1h0.6v0.6h-0.6zM390.9 246.3h0.6v0.6h-0.6zM391.3 252.0h0.6v0.6h-0.6zM389.8 250.8h0.6v0.6h-0.6zM400.8 252.5h0.6v0.6h-0.6zM389.7 252.4h0.6v0.6h-0.6zM394.9 250.2h0.6v0.6h-0.6zM403.7 249.5h0.6v0.6h-0.6zM397.9 250.1h0.6v0.6h-0.6zM391.6 248.2h0.6v0.6h-0.6zM397.0 251.4h0.6v0.6h-0.6zM402.4 249.3h0.6v0.6h-0.6zM400.6 250.0h0.6v0.6h-0.6zM389.2 251.4h0.6v0.6h-0.6zM398.8 250.4h0.6v0.6h-0.6z" fill="#000" fill-opacity="0.5" filter="url(#b3)"/>
<path d="M378.9 254.0h0.6v0.6h-0.6zM379.7 251.4h0.6v0.6h-0.6zM373.9 254.0h0.6v0.6h-0.6zM376.7 250.2h0.6v0.6h-0.6zM373.2 251.9h0.6v0.6h-0.6zM380.4 251.9h0.6v0.6h-0.6zM373.7 251.3h0.6v0.6h-0.6zM375.0 251.8h0.6v0.6h-0.6zM380.3 247.9h0.6v0.6h-0.6zM376.7 250.3h0.6v0.6h-0.6zM376.7 250.3h0.6v0.6h-0.6zM373.6 253.5h0.6v0.6h-0.6zM375.2 250.2h0.6v0.6h-0.6zM378.6 252.3h0.6v0.6h-0.6zM378.4 249.7h0.6v0.6h-0.6zM375.2 252.2h0.6v0.6h-0.6zM374.4 249.1h0.6v0.6h-0.6zM373.6 249.8h0.6v0.6h-0.6zM372.4 249.8h0.6v0.6h-0.6zM374.7 252.5h0.6v0.6h-0.6zM373.4 250.6h0.6v0.6h-0.6zM374.8 249.4h0.6v0.6h-0.6zM373.2 250.8h0.6v0.6h-0.6zM377.5 250.9h0.6v0.6h-0.6zM372.6 252.9h0.6v0.6h-0.6zM376.1 250.7h0.6v0.6h-0.6zM372.4 250.2h0.6v0.6h-0.6zM380.3 251.5h0.6v0.6h-0.6zM375.7 254.6h0.6v0.6h-0.6zM378.8 250.4h0.6v0.6h-0.6zM373.7 249.2h0.6v0.6h-0.6zM375.5 249.8h0.6v0.6h-0.6zM377.4 249.5h0.6v0.6h-0.6zM378.4 248.7h0.6v0.6h-0.6zM372.0 253.0h0.6v0.6h-0.6zM373.6 251.3h0.6v0.6h-0.6zM377.4 251.2h0.6v0.6h-0.6zM378.8 252.2h0.6v0.6h-0.6zM376.0 250.9h0.6v0.6h-0.6zM379.2 250.9h0.6v0.6h-0.6zM378.2 252.3h0.6v0.6h-0.6zM374.5 251.9h0.6v0.6h-0.6zM382.9 249.2h0.6v0.6h-0.6zM378.1 247.3h0.6v0.6h-0.6zM375.3 250.2h0.6v0.6h-0.6z" fill="#000" fill-opacity="0.4" filter="url(#b3)"/>
<path d="M404.5 251.2h0.6v0.6h-0.6zM399.0 249.1h0.6v0.6h-0.6zM402.6 249.9h0.6v0.6h-0.6zM402.2 251.2h0.6v0.6h-0.6zM402.9 253.1h0.6v0.6h-0.6zM403.9 251.5h0.6v0.6h-0.6zM400.6 253.0h0.6v0.6h-0.6zM406.4 251.2h0.6v0.6h-0.6zM402.4 251.6h0.6v0.6h-0.6zM406.4 252.5h0.6v0.6h-0.6zM401.1 252.3h0.6v0.6h-0.6zM403.0 249.9h0.6v0.6h-0.6zM402.0 252.1h0.6v0.6h-0.6zM408.5 250.5h0.6v0.6h-0.6zM401.4 251.1h0.6v0.6h-0.6zM401.7 249.0h0.6v0.6h-0.6zM406.7 249.5h0.6v0.6h-0.6zM402.0 251.1h0.6v0.6h-0.6zM402.3 252.1h0.6v0.6h-0.6zM399.7 249.0h0.6v0.6h-0.6z" fill="#000" fill-opacity="0.35" filter="url(#b3)"/>
</g>
<rect x="370.5" y="224.5" width="62.0" height="52.0" fill="none" stroke="#707070" stroke-width="0.8"/>
<line x1="387.5" y1="224.5" x2="387.5" y2="276.5" stroke="#8a8a8a" stroke-width="1"/>
<line x1="370.5" y1="260.5" x2="432.5" y2="260.5" stroke="#999" stroke-width="1.2"/>
<path d="M368.5 276.5H370.5M370.5 276.5V278.0M369.6 272.6H370.5M369.6 270.3H370.5M369.6 268.7H370.5M369.6 267.4H370.5M369.6 266.4H370.5M369.6 265.5H370.5M369.6 264.8H370.5M369.6 264.1H370.5M368.5 263.5H370.5M386.0 276.5V278.0M369.6 259.6H370.5M369.6 257.3H370.5M369.6 255.7H370.5M369.6 254.4H370.5M369.6 253.4H370.5M369.6 252.5H370.5M369.6 251.8H370.5M369.6 251.1H370.5M368.5 250.5H370.5M401.5 276.5V278.0M369.6 246.6H370.5M369.6 244.3H370.5M369.6 242.7H370.5M369.6 241.4H370.5M369.6 240.4H370.5M369.6 239.5H370.5M369.6 238.8H370.5M369.6 238.1H370.5M368.5 237.5H370.5M417.0 276.5V278.0M369.6 233.6H370.5M369.6 231.3H370.5M369.6 229.7H370.5M369.6 228.4H370.5M369.6 227.4H370.5M369.6 226.5H370.5M369.6 225.8H370.5M369.6 225.1H370.5M368.5 224.5H370.5M432.5 276.5V278.0" stroke="#555" stroke-width="0.5" fill="none"/>
<line x1="276.7" y1="274.1" x2="276.7" y2="261.9" stroke="#333" stroke-width="1.1"/>
<path d="M276.7 258.9l-3.2 5.6l3.2 -1.2l3.2 1.2z" fill="#000"/>
<line x1="299.7" y1="293.2" x2="326" y2="293.2" stroke="#333" stroke-width="1.1"/>
<path d="M329 293.2l-6.2 -3.2l1.3 3.2l-1.3 3.2z" fill="#000"/>
<g filter="url(#soft)"><text x="0.4" y="8.6" font-size="11" text-anchor="start" font-weight="bold" stroke="#111" stroke-width="0" >A</text>
<text x="83.5" y="21.9" font-size="9" text-anchor="middle" font-weight="normal" stroke="#111" stroke-width="0.16" >@NK1.1</text>
<text x="151.5" y="21.9" font-size="9" text-anchor="middle" font-weight="normal" stroke="#111" stroke-width="0.16" >@Ly49D</text>
<text x="14" y="49.4" font-size="9" text-anchor="start" font-weight="normal" stroke="#111" stroke-width="0.16" >WT</text>
<text x="0.8" y="115.4" font-size="9" text-anchor="start" font-weight="normal" stroke="#111" stroke-width="0.16" >PKCθ-/-</text>
<text x="27" y="84.9" font-size="9" text-anchor="start" font-weight="normal" stroke="#111" stroke-width="0.16" >DX5</text>
<text x="79.4" y="40" font-size="9" text-anchor="start" font-weight="normal" stroke="#111" stroke-width="0.16" >15.7%</text>
<text x="154.8" y="40" font-size="9" text-anchor="start" font-weight="normal" stroke="#111" stroke-width="0.16" >6%</text>
<text x="76.9" y="91.2" font-size="9" text-anchor="start" font-weight="normal" stroke="#111" stroke-width="0.16" >0.72%</text>
<text x="154.1" y="91.2" font-size="9" text-anchor="start" font-weight="normal" stroke="#111" stroke-width="0.16" >0.3%</text>
<text x="91.6" y="143.6" font-size="9" text-anchor="start" font-weight="normal" stroke="#111" stroke-width="0.16" >IFN-γ</text>
<text x="0.4" y="165.9" font-size="10.8" text-anchor="start" font-weight="bold" stroke="#111" stroke-width="0" >B</text>
<text x="83.5" y="171.7" font-size="9" text-anchor="middle" font-weight="normal" stroke="#111" stroke-width="0.16" >@NK1.1</text>
<text x="151.5" y="171.7" font-size="9" text-anchor="middle" font-weight="normal" stroke="#111" stroke-width="0.16" >@Ly49D</text>
<text x="14.7" y="200.3" font-size="9" text-anchor="start" font-weight="normal" stroke="#111" stroke-width="0.16" >WT</text>
<text x="1.3" y="266.8" font-size="9" text-anchor="start" font-weight="normal" stroke="#111" stroke-width="0.16" >PKCθ-/-</text>
<text x="28.8" y="236.4" font-size="9" text-anchor="start" font-weight="normal" stroke="#111" stroke-width="0.16" >DX5</text>
<text x="81.8" y="190.9" font-size="9" text-anchor="start" font-weight="normal" stroke="#111" stroke-width="0.16" >23%</text>
<text x="156.2" y="190.9" font-size="9" text-anchor="start" font-weight="normal" stroke="#111" stroke-width="0.16" >12%</text>
<text x="77.6" y="250.1" font-size="9" text-anchor="start" font-weight="normal" stroke="#111" stroke-width="0.16" >5.1%</text>
<text x="154.8" y="250.2" font-size="9" text-anchor="start" font-weight="normal" stroke="#111" stroke-width="0.16" >4%</text>
<text x="93.4" y="293.6" font-size="9" text-anchor="start" font-weight="normal" stroke="#111" stroke-width="0.16" >IFN-γ</text>
<text x="194.3" y="215.5" font-size="9" text-anchor="start" font-weight="normal" stroke="#111" stroke-width="0.16" >IL-12</text>
<text x="194.3" y="226.5" font-size="9" text-anchor="start" font-weight="normal" stroke="#111" stroke-width="0.16" >0.1ng/mL</text>
<text x="194.3" y="237.8" font-size="9" text-anchor="start" font-weight="normal" stroke="#111" stroke-width="0.16" >IL-18</text>
<text x="194.3" y="249" font-size="9" text-anchor="start" font-weight="normal" stroke="#111" stroke-width="0.16" >1ng/mL</text>
<text x="225.2" y="8.5" font-size="10.8" text-anchor="start" font-weight="bold" stroke="#111" stroke-width="0" >C</text>
<text x="251" y="87.8" font-size="5.6" text-anchor="end" font-weight="normal" stroke="#111" stroke-width="0.1" >0</text>
<text x="251" y="68.3" font-size="5.6" text-anchor="end" font-weight="normal" stroke="#111" stroke-width="0.1" >1000</text>
<text x="251" y="48.9" font-size="5.6" text-anchor="end" font-weight="normal" stroke="#111" stroke-width="0.1" >2000</text>
<text x="251" y="29.5" font-size="5.6" text-anchor="end" font-weight="normal" stroke="#111" stroke-width="0.1" >3000</text>
<text x="251" y="10.0" font-size="5.6" text-anchor="end" font-weight="normal" stroke="#111" stroke-width="0.1" >4000</text>
<text x="274.3" y="92.9" font-size="6" text-anchor="middle" font-weight="normal" stroke="#111" stroke-width="0.1" >NK1.1</text>
<text x="313.5" y="92.9" font-size="6" text-anchor="middle" font-weight="normal" stroke="#111" stroke-width="0.1" >NKG2D</text>
<text x="352.8" y="92.9" font-size="6" text-anchor="middle" font-weight="normal" stroke="#111" stroke-width="0.1" >Ly49D</text>
<text transform="translate(233.8 68.4) rotate(-90)" font-size="7.2" stroke="#111" stroke-width="0.1">IFN<tspan font-size="5.04" dy="1.2">γ</tspan><tspan dy="-1.2" dx="4.2">pg/mL</tspan></text>
<text x="393" y="87.8" font-size="5.6" text-anchor="end" font-weight="normal" stroke="#111" stroke-width="0.1" >0</text>
<text x="393" y="74.8" font-size="5.6" text-anchor="end" font-weight="normal" stroke="#111" stroke-width="0.1" >100</text>
<text x="393" y="61.8" font-size="5.6" text-anchor="end" font-weight="normal" stroke="#111" stroke-width="0.1" >200</text>
<text x="393" y="48.9" font-size="5.6" text-anchor="end" font-weight="normal" stroke="#111" stroke-width="0.1" >300</text>
<text x="393" y="35.9" font-size="5.6" text-anchor="end" font-weight="normal" stroke="#111" stroke-width="0.1" >400</text>
<text x="393" y="22.9" font-size="5.6" text-anchor="end" font-weight="normal" stroke="#111" stroke-width="0.1" >500</text>
<text x="393" y="9.9" font-size="5.6" text-anchor="end" font-weight="normal" stroke="#111" stroke-width="0.1" >600</text>
<text x="415.1" y="92.9" font-size="6" text-anchor="middle" font-weight="normal" stroke="#111" stroke-width="0.1" >NK1.1</text>
<text x="453.9" y="92.9" font-size="6" text-anchor="middle" font-weight="normal" stroke="#111" stroke-width="0.1" >NKG2D</text>
<text x="492.5" y="92.9" font-size="6" text-anchor="middle" font-weight="normal" stroke="#111" stroke-width="0.1" >Ly49D</text>
<text transform="translate(380.3 66.6) rotate(-90)" font-size="7.2" stroke="#111" stroke-width="0.1">TNF<tspan font-size="5.04" dy="1.2">α</tspan><tspan dy="-1.2" dx="3.6">pg/mL</tspan></text>
<text x="253.4" y="185.8" font-size="5.4" text-anchor="end" font-weight="normal" stroke="#111" stroke-width="0.1" >0</text>
<text x="253.4" y="174.7" font-size="5.4" text-anchor="end" font-weight="normal" stroke="#111" stroke-width="0.1" >25</text>
<text x="253.4" y="163.6" font-size="5.4" text-anchor="end" font-weight="normal" stroke="#111" stroke-width="0.1" >50</text>
<text x="253.4" y="152.5" font-size="5.4" text-anchor="end" font-weight="normal" stroke="#111" stroke-width="0.1" >75</text>
<text x="253.4" y="141.4" font-size="5.4" text-anchor="end" font-weight="normal" stroke="#111" stroke-width="0.1" >100</text>
<text x="253.4" y="130.3" font-size="5.4" text-anchor="end" font-weight="normal" stroke="#111" stroke-width="0.1" >125</text>
<text x="253.4" y="119.2" font-size="5.4" text-anchor="end" font-weight="normal" stroke="#111" stroke-width="0.1" >150</text>
<text x="253.4" y="108.1" font-size="5.4" text-anchor="end" font-weight="normal" stroke="#111" stroke-width="0.1" >175</text>
<text x="275.5" y="190.9" font-size="6" text-anchor="middle" font-weight="normal" stroke="#111" stroke-width="0.1" >5</text>
<text x="315.8" y="190.9" font-size="6" text-anchor="middle" font-weight="normal" stroke="#111" stroke-width="0.1" >20</text>
<text x="354.3" y="190.9" font-size="6" text-anchor="middle" font-weight="normal" stroke="#111" stroke-width="0.1" >50</text>
<text transform="translate(244 162.3) rotate(-90)" font-size="7" stroke="#111" stroke-width="0.1">IFN<tspan font-size="4.90" dy="1.2">γ</tspan><tspan dy="-1.2" dx="2.2">pg/mL</tspan></text>
<text x="316.6" y="199.7" font-size="6.5" text-anchor="middle" font-weight="normal" stroke="#111" stroke-width="0.1" >NK1.1 μg/mL</text>
<text x="391.5" y="185.8" font-size="5.3" text-anchor="end" font-weight="normal" stroke="#111" stroke-width="0.1" >0</text>
<text x="391.5" y="159.9" font-size="5.3" text-anchor="end" font-weight="normal" stroke="#111" stroke-width="0.1" >100</text>
<text x="391.5" y="134.0" font-size="5.3" text-anchor="end" font-weight="normal" stroke="#111" stroke-width="0.1" >200</text>
<text x="391.5" y="108.1" font-size="5.3" text-anchor="end" font-weight="normal" stroke="#111" stroke-width="0.1" >300</text>
<text x="414.2" y="190.9" font-size="6" text-anchor="middle" font-weight="normal" stroke="#111" stroke-width="0.1" >5</text>
<text x="453.5" y="190.9" font-size="6" text-anchor="middle" font-weight="normal" stroke="#111" stroke-width="0.1" >20</text>
<text x="492.4" y="190.9" font-size="6" text-anchor="middle" font-weight="normal" stroke="#111" stroke-width="0.1" >50</text>
<text transform="translate(380 162.3) rotate(-90)" font-size="7" stroke="#111" stroke-width="0.1">IFN<tspan font-size="4.90" dy="1.2">γ</tspan><tspan dy="-1.2" dx="2.2">pg/mL</tspan></text>
<text x="455.7" y="199.7" font-size="6.5" text-anchor="middle" font-weight="normal" stroke="#111" stroke-width="0.1" >Ly49D  μg/mL</text>
<text x="492.3" y="14.8" font-size="6.4" text-anchor="start" font-weight="normal" stroke="#111" stroke-width="0.2" >WT</text>
<text x="492.3" y="24.9" font-size="6.3" text-anchor="start" font-weight="normal" stroke="#111" stroke-width="0.2" >PKCθ-/-</text>
<text x="264.1" y="217.7" font-size="10.8" text-anchor="start" font-weight="bold" stroke="#111" stroke-width="0" >D</text>
<text x="329.5" y="220.8" font-size="9" text-anchor="middle" font-weight="normal" stroke="#111" stroke-width="0.16" >WT</text>
<text x="400" y="220.5" font-size="9" text-anchor="middle" font-weight="normal" stroke="#111" stroke-width="0.16" >PKCθ-/-</text>
<text x="256.2" y="251" font-size="9" text-anchor="start" font-weight="normal" stroke="#111" stroke-width="0.16" >NK1.1</text>
<text x="335.2" y="235.3" font-size="9" text-anchor="start" font-weight="normal" stroke="#111" stroke-width="0.16" >40%</text>
<text x="410.3" y="235.1" font-size="9" text-anchor="start" font-weight="normal" stroke="#111" stroke-width="0.16" >17%</text>
<text x="335.4" y="295.6" font-size="9" text-anchor="start" font-weight="normal" stroke="#111" stroke-width="0.16" >IFN-γ</text>
<text x="433.7" y="245.8" font-size="9.3" text-anchor="start" font-weight="normal" stroke="#111" stroke-width="0.16" >PMA 50 ng/mL</text>
<text x="433.7" y="256.4" font-size="9.3" text-anchor="start" font-weight="normal" stroke="#111" stroke-width="0.16" >Ionomycin 0.5 μg/mL</text></g>
<g filter="url(#soft)"><text transform="translate(49.7 72.1) rotate(-90)" font-size="2.4" fill="#111" stroke="#111" stroke-width="0.15">10<tspan dy="-1.5" font-size="2.2">0</tspan></text>
<text x="52.2" y="74.1" font-size="2.4" fill="#111" stroke="#111" stroke-width="0.15" text-anchor="middle">10<tspan dy="-1.3" font-size="2.1">0</tspan></text>
<text transform="translate(49.7 60.6) rotate(-90)" font-size="2.4" fill="#111" stroke="#111" stroke-width="0.15">10<tspan dy="-1.5" font-size="2.2">1</tspan></text>
<text x="66.2" y="74.1" font-size="2.4" fill="#111" stroke="#111" stroke-width="0.15" text-anchor="middle">10<tspan dy="-1.3" font-size="2.1">1</tspan></text>
<text transform="translate(49.7 49.1) rotate(-90)" font-size="2.4" fill="#111" stroke="#111" stroke-width="0.15">10<tspan dy="-1.5" font-size="2.2">2</tspan></text>
<text x="80.2" y="74.1" font-size="2.4" fill="#111" stroke="#111" stroke-width="0.15" text-anchor="middle">10<tspan dy="-1.3" font-size="2.1">2</tspan></text>
<text transform="translate(49.7 37.6) rotate(-90)" font-size="2.4" fill="#111" stroke="#111" stroke-width="0.15">10<tspan dy="-1.5" font-size="2.2">3</tspan></text>
<text x="94.2" y="74.1" font-size="2.4" fill="#111" stroke="#111" stroke-width="0.15" text-anchor="middle">10<tspan dy="-1.3" font-size="2.1">3</tspan></text>
<text transform="translate(49.7 26.1) rotate(-90)" font-size="2.4" fill="#111" stroke="#111" stroke-width="0.15">10<tspan dy="-1.5" font-size="2.2">4</tspan></text>
<text x="108.2" y="74.1" font-size="2.4" fill="#111" stroke="#111" stroke-width="0.15" text-anchor="middle">10<tspan dy="-1.3" font-size="2.1">4</tspan></text>
<text transform="translate(46.9 50.8) rotate(-90)" font-size="2.4" fill="#111" stroke="#111" stroke-width="0.1">FL2-H</text>
<text x="80.5" y="76.2" font-size="2.5" fill="#333" text-anchor="middle">FL1-H</text>
<text transform="translate(127.7 72.1) rotate(-90)" font-size="2.4" fill="#111" stroke="#111" stroke-width="0.15">10<tspan dy="-1.5" font-size="2.2">0</tspan></text>
<text x="130.2" y="74.1" font-size="2.4" fill="#111" stroke="#111" stroke-width="0.15" text-anchor="middle">10<tspan dy="-1.3" font-size="2.1">0</tspan></text>
<text transform="translate(127.7 60.6) rotate(-90)" font-size="2.4" fill="#111" stroke="#111" stroke-width="0.15">10<tspan dy="-1.5" font-size="2.2">1</tspan></text>
<text x="144.2" y="74.1" font-size="2.4" fill="#111" stroke="#111" stroke-width="0.15" text-anchor="middle">10<tspan dy="-1.3" font-size="2.1">1</tspan></text>
<text transform="translate(127.7 49.1) rotate(-90)" font-size="2.4" fill="#111" stroke="#111" stroke-width="0.15">10<tspan dy="-1.5" font-size="2.2">2</tspan></text>
<text x="158.2" y="74.1" font-size="2.4" fill="#111" stroke="#111" stroke-width="0.15" text-anchor="middle">10<tspan dy="-1.3" font-size="2.1">2</tspan></text>
<text transform="translate(127.7 37.6) rotate(-90)" font-size="2.4" fill="#111" stroke="#111" stroke-width="0.15">10<tspan dy="-1.5" font-size="2.2">3</tspan></text>
<text x="172.2" y="74.1" font-size="2.4" fill="#111" stroke="#111" stroke-width="0.15" text-anchor="middle">10<tspan dy="-1.3" font-size="2.1">3</tspan></text>
<text transform="translate(127.7 26.1) rotate(-90)" font-size="2.4" fill="#111" stroke="#111" stroke-width="0.15">10<tspan dy="-1.5" font-size="2.2">4</tspan></text>
<text x="186.2" y="74.1" font-size="2.4" fill="#111" stroke="#111" stroke-width="0.15" text-anchor="middle">10<tspan dy="-1.3" font-size="2.1">4</tspan></text>
<text transform="translate(124.9 50.8) rotate(-90)" font-size="2.4" fill="#111" stroke="#111" stroke-width="0.1">FL2-H</text>
<text x="158.5" y="76.2" font-size="2.5" fill="#333" text-anchor="middle">FL1-H</text>
<text transform="translate(49.7 131.1) rotate(-90)" font-size="2.4" fill="#111" stroke="#111" stroke-width="0.15">10<tspan dy="-1.5" font-size="2.2">0</tspan></text>
<text x="52.2" y="133.1" font-size="2.4" fill="#111" stroke="#111" stroke-width="0.15" text-anchor="middle">10<tspan dy="-1.3" font-size="2.1">0</tspan></text>
<text transform="translate(49.7 119.6) rotate(-90)" font-size="2.4" fill="#111" stroke="#111" stroke-width="0.15">10<tspan dy="-1.5" font-size="2.2">1</tspan></text>
<text x="66.2" y="133.1" font-size="2.4" fill="#111" stroke="#111" stroke-width="0.15" text-anchor="middle">10<tspan dy="-1.3" font-size="2.1">1</tspan></text>
<text transform="translate(49.7 108.1) rotate(-90)" font-size="2.4" fill="#111" stroke="#111" stroke-width="0.15">10<tspan dy="-1.5" font-size="2.2">2</tspan></text>
<text x="80.2" y="133.1" font-size="2.4" fill="#111" stroke="#111" stroke-width="0.15" text-anchor="middle">10<tspan dy="-1.3" font-size="2.1">2</tspan></text>
<text transform="translate(49.7 96.6) rotate(-90)" font-size="2.4" fill="#111" stroke="#111" stroke-width="0.15">10<tspan dy="-1.5" font-size="2.2">3</tspan></text>
<text x="94.2" y="133.1" font-size="2.4" fill="#111" stroke="#111" stroke-width="0.15" text-anchor="middle">10<tspan dy="-1.3" font-size="2.1">3</tspan></text>
<text transform="translate(49.7 85.1) rotate(-90)" font-size="2.4" fill="#111" stroke="#111" stroke-width="0.15">10<tspan dy="-1.5" font-size="2.2">4</tspan></text>
<text x="108.2" y="133.1" font-size="2.4" fill="#111" stroke="#111" stroke-width="0.15" text-anchor="middle">10<tspan dy="-1.3" font-size="2.1">4</tspan></text>
<text transform="translate(46.9 109.8) rotate(-90)" font-size="2.4" fill="#111" stroke="#111" stroke-width="0.1">FL2-H</text>
<text x="80.5" y="135.2" font-size="2.5" fill="#333" text-anchor="middle">FL1-H</text>
<text transform="translate(127.7 131.1) rotate(-90)" font-size="2.4" fill="#111" stroke="#111" stroke-width="0.15">10<tspan dy="-1.5" font-size="2.2">0</tspan></text>
<text x="130.2" y="133.1" font-size="2.4" fill="#111" stroke="#111" stroke-width="0.15" text-anchor="middle">10<tspan dy="-1.3" font-size="2.1">0</tspan></text>
<text transform="translate(127.7 119.6) rotate(-90)" font-size="2.4" fill="#111" stroke="#111" stroke-width="0.15">10<tspan dy="-1.5" font-size="2.2">1</tspan></text>
<text x="144.2" y="133.1" font-size="2.4" fill="#111" stroke="#111" stroke-width="0.15" text-anchor="middle">10<tspan dy="-1.3" font-size="2.1">1</tspan></text>
<text transform="translate(127.7 108.1) rotate(-90)" font-size="2.4" fill="#111" stroke="#111" stroke-width="0.15">10<tspan dy="-1.5" font-size="2.2">2</tspan></text>
<text x="158.2" y="133.1" font-size="2.4" fill="#111" stroke="#111" stroke-width="0.15" text-anchor="middle">10<tspan dy="-1.3" font-size="2.1">2</tspan></text>
<text transform="translate(127.7 96.6) rotate(-90)" font-size="2.4" fill="#111" stroke="#111" stroke-width="0.15">10<tspan dy="-1.5" font-size="2.2">3</tspan></text>
<text x="172.2" y="133.1" font-size="2.4" fill="#111" stroke="#111" stroke-width="0.15" text-anchor="middle">10<tspan dy="-1.3" font-size="2.1">3</tspan></text>
<text transform="translate(127.7 85.1) rotate(-90)" font-size="2.4" fill="#111" stroke="#111" stroke-width="0.15">10<tspan dy="-1.5" font-size="2.2">4</tspan></text>
<text x="186.2" y="133.1" font-size="2.4" fill="#111" stroke="#111" stroke-width="0.15" text-anchor="middle">10<tspan dy="-1.3" font-size="2.1">4</tspan></text>
<text transform="translate(124.9 109.8) rotate(-90)" font-size="2.4" fill="#111" stroke="#111" stroke-width="0.1">FL2-H</text>
<text x="158.5" y="135.2" font-size="2.5" fill="#333" text-anchor="middle">FL1-H</text>
<text transform="translate(50.7 222.1) rotate(-90)" font-size="2.4" fill="#111" stroke="#111" stroke-width="0.15">10<tspan dy="-1.5" font-size="2.2">0</tspan></text>
<text x="53.2" y="224.1" font-size="2.4" fill="#111" stroke="#111" stroke-width="0.15" text-anchor="middle">10<tspan dy="-1.3" font-size="2.1">0</tspan></text>
<text transform="translate(50.7 210.6) rotate(-90)" font-size="2.4" fill="#111" stroke="#111" stroke-width="0.15">10<tspan dy="-1.5" font-size="2.2">1</tspan></text>
<text x="67.2" y="224.1" font-size="2.4" fill="#111" stroke="#111" stroke-width="0.15" text-anchor="middle">10<tspan dy="-1.3" font-size="2.1">1</tspan></text>
<text transform="translate(50.7 199.1) rotate(-90)" font-size="2.4" fill="#111" stroke="#111" stroke-width="0.15">10<tspan dy="-1.5" font-size="2.2">2</tspan></text>
<text x="81.2" y="224.1" font-size="2.4" fill="#111" stroke="#111" stroke-width="0.15" text-anchor="middle">10<tspan dy="-1.3" font-size="2.1">2</tspan></text>
<text transform="translate(50.7 187.6) rotate(-90)" font-size="2.4" fill="#111" stroke="#111" stroke-width="0.15">10<tspan dy="-1.5" font-size="2.2">3</tspan></text>
<text x="95.2" y="224.1" font-size="2.4" fill="#111" stroke="#111" stroke-width="0.15" text-anchor="middle">10<tspan dy="-1.3" font-size="2.1">3</tspan></text>
<text transform="translate(50.7 176.1) rotate(-90)" font-size="2.4" fill="#111" stroke="#111" stroke-width="0.15">10<tspan dy="-1.5" font-size="2.2">4</tspan></text>
<text x="109.2" y="224.1" font-size="2.4" fill="#111" stroke="#111" stroke-width="0.15" text-anchor="middle">10<tspan dy="-1.3" font-size="2.1">4</tspan></text>
<text transform="translate(47.9 200.8) rotate(-90)" font-size="2.4" fill="#111" stroke="#111" stroke-width="0.1">FL2-H</text>
<text x="81.5" y="226.2" font-size="2.5" fill="#333" text-anchor="middle">FL1-H</text>
<text transform="translate(127.7 222.1) rotate(-90)" font-size="2.4" fill="#111" stroke="#111" stroke-width="0.15">10<tspan dy="-1.5" font-size="2.2">0</tspan></text>
<text x="130.2" y="224.1" font-size="2.4" fill="#111" stroke="#111" stroke-width="0.15" text-anchor="middle">10<tspan dy="-1.3" font-size="2.1">0</tspan></text>
<text transform="translate(127.7 210.6) rotate(-90)" font-size="2.4" fill="#111" stroke="#111" stroke-width="0.15">10<tspan dy="-1.5" font-size="2.2">1</tspan></text>
<text x="144.2" y="224.1" font-size="2.4" fill="#111" stroke="#111" stroke-width="0.15" text-anchor="middle">10<tspan dy="-1.3" font-size="2.1">1</tspan></text>
<text transform="translate(127.7 199.1) rotate(-90)" font-size="2.4" fill="#111" stroke="#111" stroke-width="0.15">10<tspan dy="-1.5" font-size="2.2">2</tspan></text>
<text x="158.2" y="224.1" font-size="2.4" fill="#111" stroke="#111" stroke-width="0.15" text-anchor="middle">10<tspan dy="-1.3" font-size="2.1">2</tspan></text>
<text transform="translate(127.7 187.6) rotate(-90)" font-size="2.4" fill="#111" stroke="#111" stroke-width="0.15">10<tspan dy="-1.5" font-size="2.2">3</tspan></text>
<text x="172.2" y="224.1" font-size="2.4" fill="#111" stroke="#111" stroke-width="0.15" text-anchor="middle">10<tspan dy="-1.3" font-size="2.1">3</tspan></text>
<text transform="translate(127.7 176.1) rotate(-90)" font-size="2.4" fill="#111" stroke="#111" stroke-width="0.15">10<tspan dy="-1.5" font-size="2.2">4</tspan></text>
<text x="186.2" y="224.1" font-size="2.4" fill="#111" stroke="#111" stroke-width="0.15" text-anchor="middle">10<tspan dy="-1.3" font-size="2.1">4</tspan></text>
<text transform="translate(124.9 200.8) rotate(-90)" font-size="2.4" fill="#111" stroke="#111" stroke-width="0.1">FL2-H</text>
<text x="158.5" y="226.2" font-size="2.5" fill="#333" text-anchor="middle">FL1-H</text>
<text transform="translate(50.7 282.1) rotate(-90)" font-size="2.4" fill="#111" stroke="#111" stroke-width="0.15">10<tspan dy="-1.5" font-size="2.2">0</tspan></text>
<text x="53.2" y="284.1" font-size="2.4" fill="#111" stroke="#111" stroke-width="0.15" text-anchor="middle">10<tspan dy="-1.3" font-size="2.1">0</tspan></text>
<text transform="translate(50.7 270.6) rotate(-90)" font-size="2.4" fill="#111" stroke="#111" stroke-width="0.15">10<tspan dy="-1.5" font-size="2.2">1</tspan></text>
<text x="67.2" y="284.1" font-size="2.4" fill="#111" stroke="#111" stroke-width="0.15" text-anchor="middle">10<tspan dy="-1.3" font-size="2.1">1</tspan></text>
<text transform="translate(50.7 259.1) rotate(-90)" font-size="2.4" fill="#111" stroke="#111" stroke-width="0.15">10<tspan dy="-1.5" font-size="2.2">2</tspan></text>
<text x="81.2" y="284.1" font-size="2.4" fill="#111" stroke="#111" stroke-width="0.15" text-anchor="middle">10<tspan dy="-1.3" font-size="2.1">2</tspan></text>
<text transform="translate(50.7 247.6) rotate(-90)" font-size="2.4" fill="#111" stroke="#111" stroke-width="0.15">10<tspan dy="-1.5" font-size="2.2">3</tspan></text>
<text x="95.2" y="284.1" font-size="2.4" fill="#111" stroke="#111" stroke-width="0.15" text-anchor="middle">10<tspan dy="-1.3" font-size="2.1">3</tspan></text>
<text transform="translate(50.7 236.1) rotate(-90)" font-size="2.4" fill="#111" stroke="#111" stroke-width="0.15">10<tspan dy="-1.5" font-size="2.2">4</tspan></text>
<text x="109.2" y="284.1" font-size="2.4" fill="#111" stroke="#111" stroke-width="0.15" text-anchor="middle">10<tspan dy="-1.3" font-size="2.1">4</tspan></text>
<text transform="translate(47.9 260.8) rotate(-90)" font-size="2.4" fill="#111" stroke="#111" stroke-width="0.1">FL2-H</text>
<text x="81.5" y="286.2" font-size="2.5" fill="#333" text-anchor="middle">FL1-H</text>
<text transform="translate(127.7 282.1) rotate(-90)" font-size="2.4" fill="#111" stroke="#111" stroke-width="0.15">10<tspan dy="-1.5" font-size="2.2">0</tspan></text>
<text x="130.2" y="284.1" font-size="2.4" fill="#111" stroke="#111" stroke-width="0.15" text-anchor="middle">10<tspan dy="-1.3" font-size="2.1">0</tspan></text>
<text transform="translate(127.7 270.6) rotate(-90)" font-size="2.4" fill="#111" stroke="#111" stroke-width="0.15">10<tspan dy="-1.5" font-size="2.2">1</tspan></text>
<text x="144.2" y="284.1" font-size="2.4" fill="#111" stroke="#111" stroke-width="0.15" text-anchor="middle">10<tspan dy="-1.3" font-size="2.1">1</tspan></text>
<text transform="translate(127.7 259.1) rotate(-90)" font-size="2.4" fill="#111" stroke="#111" stroke-width="0.15">10<tspan dy="-1.5" font-size="2.2">2</tspan></text>
<text x="158.2" y="284.1" font-size="2.4" fill="#111" stroke="#111" stroke-width="0.15" text-anchor="middle">10<tspan dy="-1.3" font-size="2.1">2</tspan></text>
<text transform="translate(127.7 247.6) rotate(-90)" font-size="2.4" fill="#111" stroke="#111" stroke-width="0.15">10<tspan dy="-1.5" font-size="2.2">3</tspan></text>
<text x="172.2" y="284.1" font-size="2.4" fill="#111" stroke="#111" stroke-width="0.15" text-anchor="middle">10<tspan dy="-1.3" font-size="2.1">3</tspan></text>
<text transform="translate(127.7 236.1) rotate(-90)" font-size="2.4" fill="#111" stroke="#111" stroke-width="0.15">10<tspan dy="-1.5" font-size="2.2">4</tspan></text>
<text x="186.2" y="284.1" font-size="2.4" fill="#111" stroke="#111" stroke-width="0.15" text-anchor="middle">10<tspan dy="-1.3" font-size="2.1">4</tspan></text>
<text transform="translate(124.9 260.8) rotate(-90)" font-size="2.4" fill="#111" stroke="#111" stroke-width="0.1">FL2-H</text>
<text x="158.5" y="286.2" font-size="2.5" fill="#333" text-anchor="middle">FL1-H</text>
<text transform="translate(291.7 278.1) rotate(-90)" font-size="2.4" fill="#111" stroke="#111" stroke-width="0.15">10<tspan dy="-1.5" font-size="2.2">0</tspan></text>
<text x="294.2" y="281.0" font-size="2.4" fill="#111" stroke="#111" stroke-width="0.15" text-anchor="middle">10<tspan dy="-1.3" font-size="2.1">0</tspan></text>
<text transform="translate(291.7 265.1) rotate(-90)" font-size="2.4" fill="#111" stroke="#111" stroke-width="0.15">10<tspan dy="-1.5" font-size="2.2">1</tspan></text>
<text x="309.7" y="281.0" font-size="2.4" fill="#111" stroke="#111" stroke-width="0.15" text-anchor="middle">10<tspan dy="-1.3" font-size="2.1">1</tspan></text>
<text transform="translate(291.7 252.1) rotate(-90)" font-size="2.4" fill="#111" stroke="#111" stroke-width="0.15">10<tspan dy="-1.5" font-size="2.2">2</tspan></text>
<text x="325.2" y="281.0" font-size="2.4" fill="#111" stroke="#111" stroke-width="0.15" text-anchor="middle">10<tspan dy="-1.3" font-size="2.1">2</tspan></text>
<text transform="translate(291.7 239.1) rotate(-90)" font-size="2.4" fill="#111" stroke="#111" stroke-width="0.15">10<tspan dy="-1.5" font-size="2.2">3</tspan></text>
<text x="340.7" y="281.0" font-size="2.4" fill="#111" stroke="#111" stroke-width="0.15" text-anchor="middle">10<tspan dy="-1.3" font-size="2.1">3</tspan></text>
<text transform="translate(291.7 226.1) rotate(-90)" font-size="2.4" fill="#111" stroke="#111" stroke-width="0.15">10<tspan dy="-1.5" font-size="2.2">4</tspan></text>
<text x="356.2" y="281.0" font-size="2.4" fill="#111" stroke="#111" stroke-width="0.15" text-anchor="middle">10<tspan dy="-1.3" font-size="2.1">4</tspan></text>
<text transform="translate(288.9 254.5) rotate(-90)" font-size="2.9" fill="#111" stroke="#111" stroke-width="0.1">FL2-H</text>
<text x="325.5" y="283.8" font-size="2.5" fill="#333" text-anchor="middle">FL1-H</text>
<text transform="translate(367.7 278.1) rotate(-90)" font-size="2.4" fill="#111" stroke="#111" stroke-width="0.15">10<tspan dy="-1.5" font-size="2.2">0</tspan></text>
<text x="370.2" y="281.0" font-size="2.4" fill="#111" stroke="#111" stroke-width="0.15" text-anchor="middle">10<tspan dy="-1.3" font-size="2.1">0</tspan></text>
<text transform="translate(367.7 265.1) rotate(-90)" font-size="2.4" fill="#111" stroke="#111" stroke-width="0.15">10<tspan dy="-1.5" font-size="2.2">1</tspan></text>
<text x="385.7" y="281.0" font-size="2.4" fill="#111" stroke="#111" stroke-width="0.15" text-anchor="middle">10<tspan dy="-1.3" font-size="2.1">1</tspan></text>
<text transform="translate(367.7 252.1) rotate(-90)" font-size="2.4" fill="#111" stroke="#111" stroke-width="0.15">10<tspan dy="-1.5" font-size="2.2">2</tspan></text>
<text x="401.2" y="281.0" font-size="2.4" fill="#111" stroke="#111" stroke-width="0.15" text-anchor="middle">10<tspan dy="-1.3" font-size="2.1">2</tspan></text>
<text transform="translate(367.7 239.1) rotate(-90)" font-size="2.4" fill="#111" stroke="#111" stroke-width="0.15">10<tspan dy="-1.5" font-size="2.2">3</tspan></text>
<text x="416.7" y="281.0" font-size="2.4" fill="#111" stroke="#111" stroke-width="0.15" text-anchor="middle">10<tspan dy="-1.3" font-size="2.1">3</tspan></text>
<text transform="translate(367.7 226.1) rotate(-90)" font-size="2.4" fill="#111" stroke="#111" stroke-width="0.15">10<tspan dy="-1.5" font-size="2.2">4</tspan></text>
<text x="432.2" y="281.0" font-size="2.4" fill="#111" stroke="#111" stroke-width="0.15" text-anchor="middle">10<tspan dy="-1.3" font-size="2.1">4</tspan></text>
<text transform="translate(364.9 254.5) rotate(-90)" font-size="2.9" fill="#111" stroke="#111" stroke-width="0.1">FL2-H</text>
<text x="401.5" y="283.8" font-size="2.5" fill="#333" text-anchor="middle">FL1-H</text></g>
</svg>
</body></html>
